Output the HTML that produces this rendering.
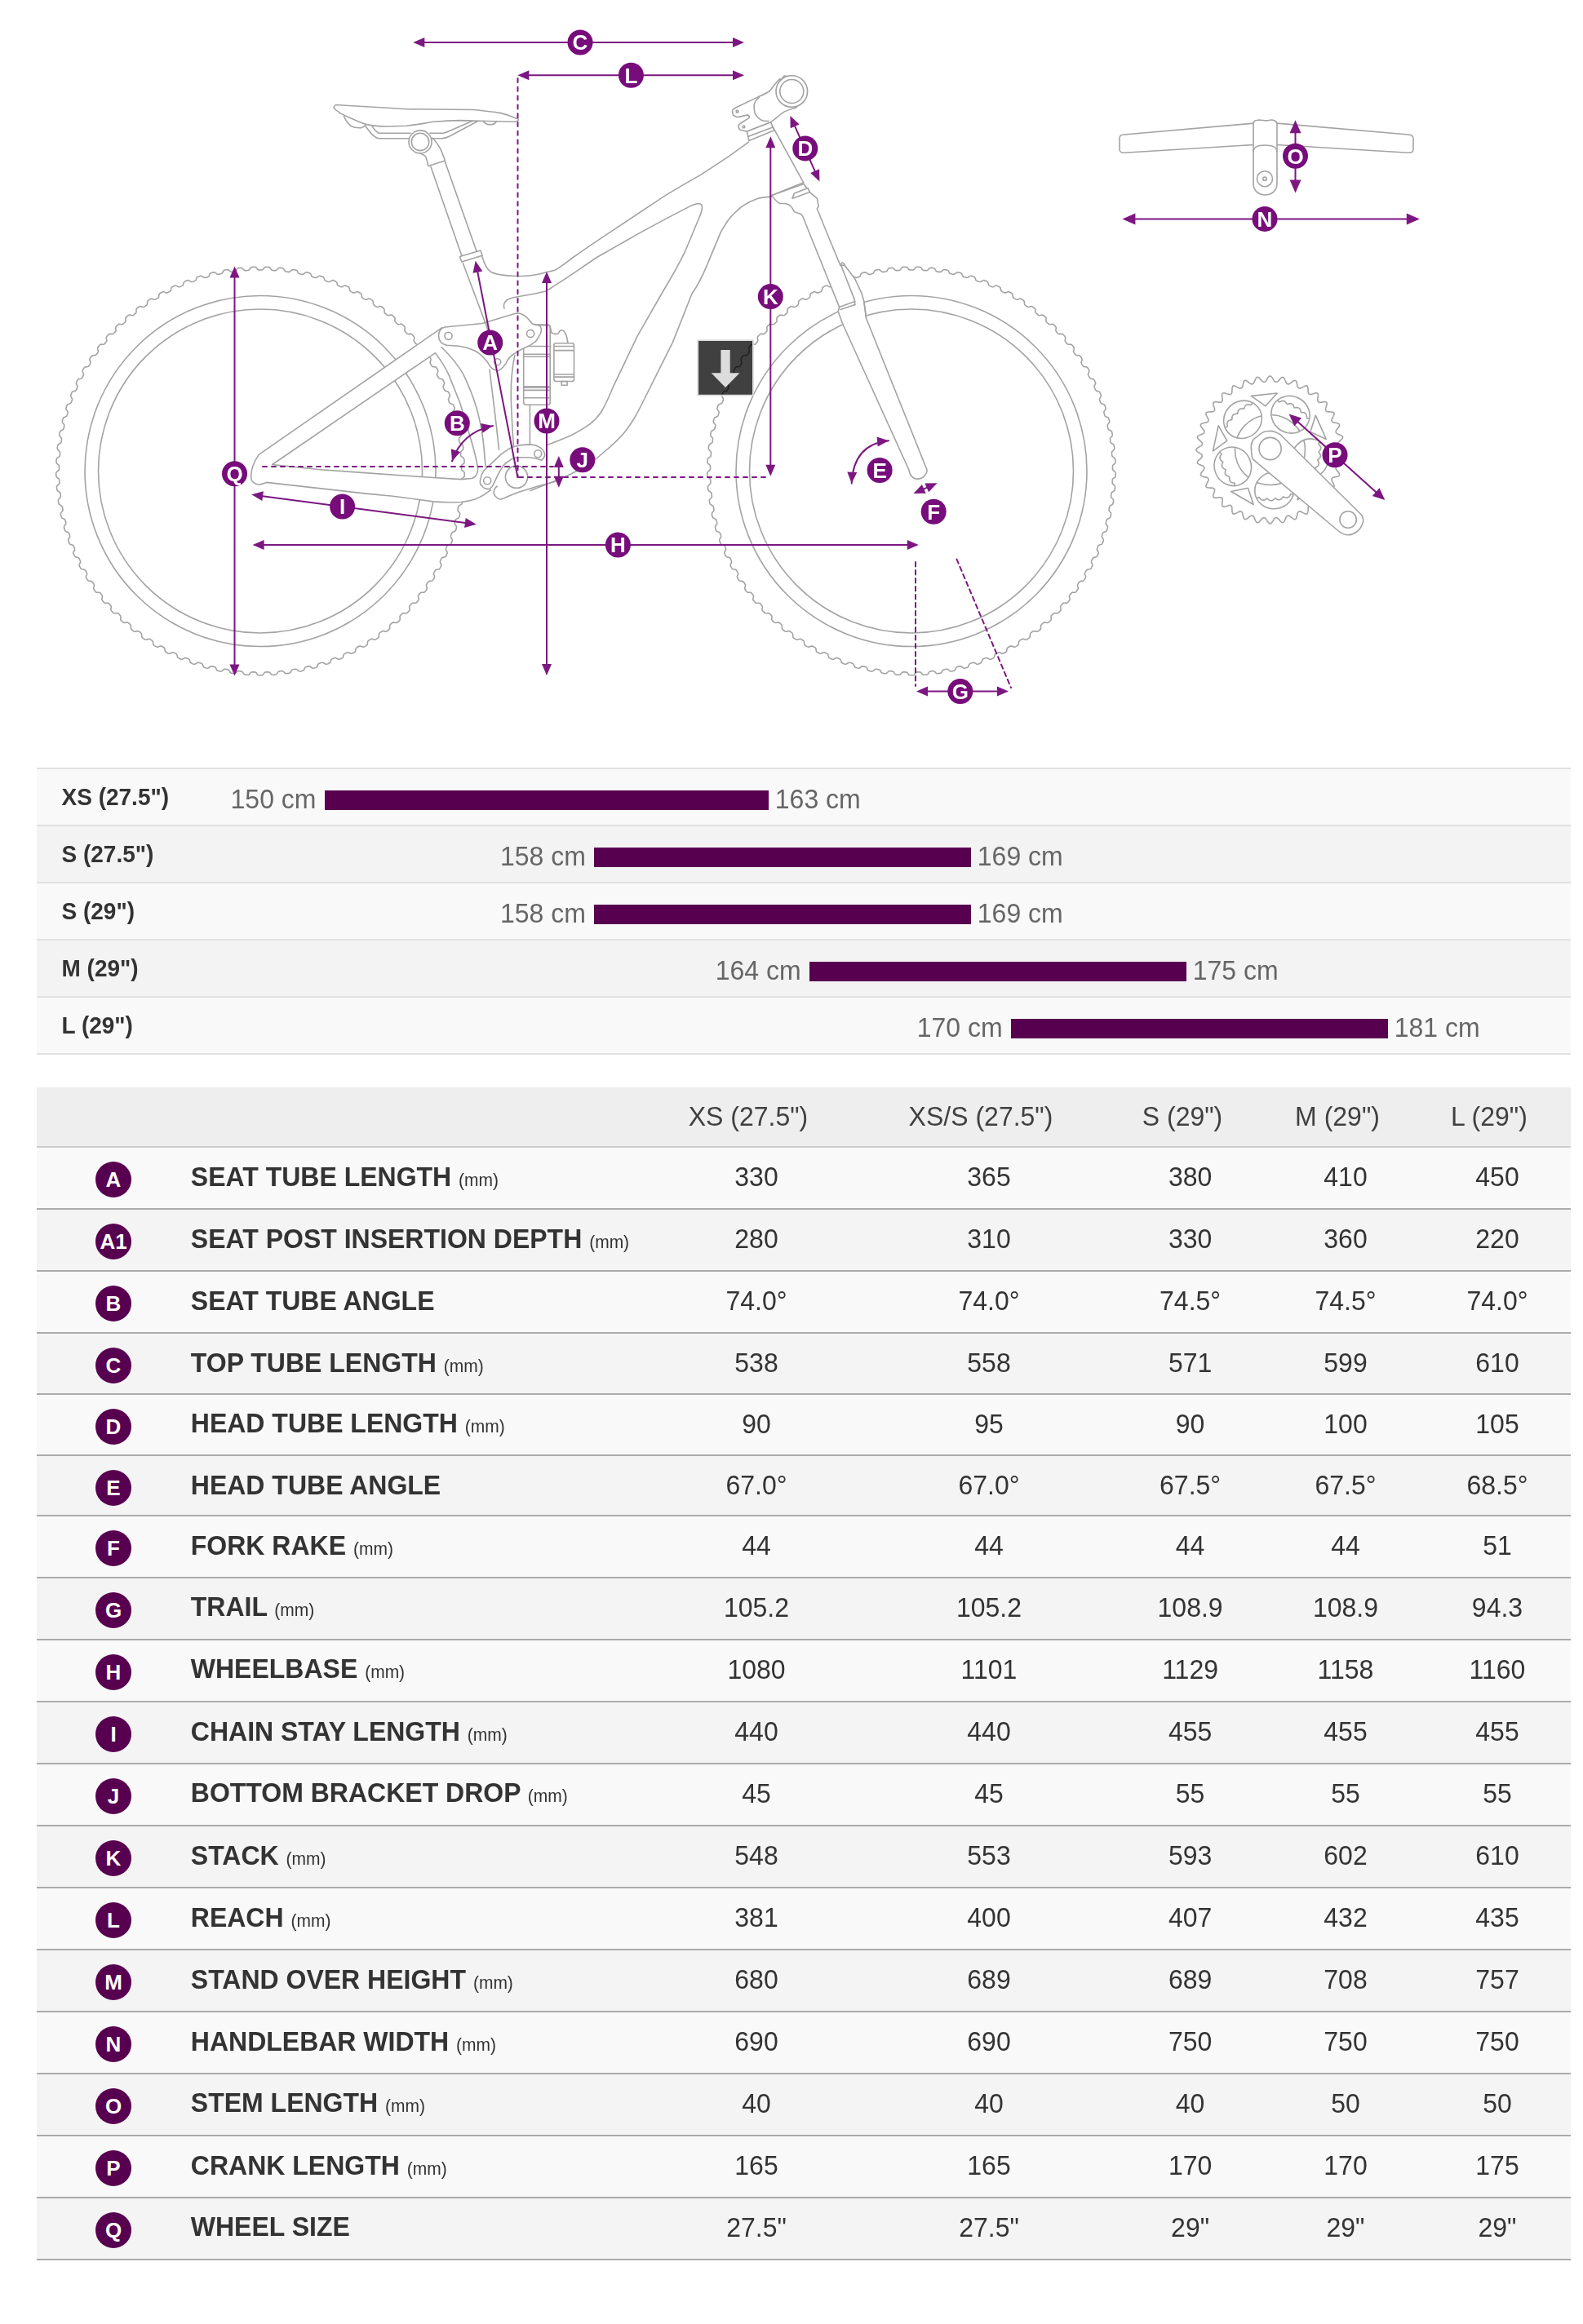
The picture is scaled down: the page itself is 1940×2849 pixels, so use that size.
<!DOCTYPE html>
<html><head><meta charset="utf-8"><title>Geometry</title><style>
*{margin:0;padding:0;box-sizing:border-box}
html,body{width:1940px;height:2849px;background:#fff;overflow:hidden}
body{position:relative;font-family:"Liberation Sans", sans-serif;color:#333}
.cl{position:absolute;font-weight:bold;line-height:1;white-space:nowrap;color:#333;transform:scaleY(1.04);transform-origin:0 85%}
.cv{position:absolute;line-height:1;white-space:nowrap;color:#666;transform:scaleY(1.04);transform-origin:0 85%}
.th{position:absolute;width:300px;text-align:center;line-height:1;white-space:nowrap;color:#404040;transform:scaleY(1.04);transform-origin:50% 85%}
.tv{position:absolute;width:300px;text-align:center;line-height:1;white-space:nowrap;font-size:32px;color:#333;transform:scaleY(1.04);transform-origin:50% 85%}
.lb{position:absolute;line-height:1;white-space:nowrap;font-size:32px;font-weight:bold;color:#333;transform:scaleY(1.05);transform-origin:0 85%}
.mm{font-size:21px;font-weight:normal}
.bd{position:absolute;width:44px;height:44px;border-radius:50%;background:#570050;color:#fff;font-weight:bold;font-size:26px;line-height:44px;text-align:center}
</style></head>
<body>
<svg width="1940" height="930" viewBox="0 0 1940 930" style="position:absolute;left:0;top:0;filter:blur(0.35px)">
<g stroke-linejoin="round" stroke-linecap="round">
<polygon points="567.4,577.5 568.7,578.6 569.2,579.6 569.3,580.7 569.3,581.7 569.2,582.8 569.1,583.8 568.6,584.9 567.3,585.9 565.9,586.9 565.4,587.9 565.3,588.9 565.2,590 565.1,591 565.2,592.1 565.6,593.1 566.8,594.3 568.1,595.4 568.5,596.5 568.5,597.6 568.4,598.6 568.3,599.7 568.1,600.7 567.6,601.7 566.1,602.6 564.7,603.5 564.1,604.5 563.9,605.5 563.8,606.6 563.7,607.6 563.6,608.7 563.9,609.7 565.1,611 566.3,612.2 566.6,613.3 566.6,614.4 566.4,615.4 566.2,616.4 566,617.5 565.4,618.4 563.9,619.3 562.4,620.1 561.8,621 561.5,622 561.3,623 561.1,624.1 561,625.1 561.2,626.2 562.3,627.5 563.4,628.8 563.6,629.9 563.5,631 563.3,632 563,633 562.7,634.1 562,635 560.5,635.7 558.9,636.4 558.3,637.3 557.9,638.3 557.6,639.3 557.4,640.3 557.2,641.3 557.4,642.5 558.4,643.8 559.4,645.2 559.5,646.3 559.3,647.4 559.1,648.4 558.7,649.4 558.3,650.4 557.6,651.3 556,651.9 554.4,652.5 553.7,653.3 553.3,654.3 552.9,655.3 552.6,656.2 552.4,657.3 552.4,658.4 553.4,659.8 554.3,661.3 554.3,662.4 554.1,663.4 553.7,664.4 553.3,665.4 552.9,666.4 552.1,667.2 550.4,667.7 548.8,668.2 548,669 547.5,669.9 547.1,670.9 546.8,671.8 546.4,672.8 546.4,674 547.3,675.5 548.1,677 548.1,678.1 547.7,679.1 547.3,680.1 546.9,681 546.3,682 545.5,682.7 543.8,683.1 542.2,683.5 541.3,684.2 540.8,685.1 540.3,686.1 539.9,687 539.5,688 539.4,689.1 540.1,690.6 540.8,692.2 540.8,693.3 540.3,694.3 539.9,695.3 539.4,696.2 538.8,697.1 537.9,697.8 536.2,698 534.5,698.3 533.6,699 533,699.9 532.5,700.8 532,701.7 531.5,702.6 531.4,703.7 532,705.3 532.6,706.9 532.4,708 532,709 531.4,709.9 530.8,710.8 530.2,711.6 529.2,712.3 527.6,712.4 525.9,712.6 524.9,713.2 524.3,714 523.7,714.9 523.1,715.8 522.6,716.7 522.4,717.8 522.9,719.4 523.4,721 523.1,722.1 522.6,723.1 522,723.9 521.4,724.8 520.7,725.6 519.7,726.2 518,726.2 516.3,726.2 515.3,726.8 514.6,727.6 513.9,728.4 513.3,729.2 512.7,730.1 512.4,731.2 512.8,732.8 513.2,734.5 512.9,735.6 512.3,736.5 511.6,737.3 511,738.1 510.2,738.9 509.2,739.4 507.5,739.3 505.8,739.2 504.8,739.7 504,740.4 503.3,741.2 502.6,742 502,742.8 501.6,743.9 501.9,745.6 502.2,747.3 501.8,748.3 501.1,749.2 500.4,749.9 499.7,750.7 498.9,751.4 497.8,751.8 496.1,751.7 494.4,751.5 493.4,751.9 492.6,752.5 491.8,753.3 491.1,754 490.4,754.8 490,755.8 490.1,757.5 490.3,759.2 489.8,760.3 489.1,761.1 488.4,761.8 487.6,762.5 486.7,763.1 485.6,763.5 484,763.2 482.3,762.9 481.2,763.3 480.4,763.9 479.6,764.5 478.8,765.2 478.1,766 477.5,767 477.6,768.7 477.6,770.4 477.1,771.4 476.3,772.1 475.5,772.8 474.7,773.5 473.8,774 472.7,774.3 471,773.9 469.4,773.5 468.3,773.8 467.4,774.3 466.6,774.9 465.7,775.6 465,776.3 464.4,777.3 464.3,779 464.3,780.7 463.6,781.6 462.8,782.3 462,782.9 461.1,783.5 460.2,784 459.1,784.3 457.4,783.7 455.8,783.2 454.7,783.4 453.8,783.9 452.9,784.5 452,785 451.2,785.7 450.6,786.6 450.4,788.3 450.2,790 449.5,790.9 448.7,791.6 447.8,792.1 446.9,792.6 445.9,793.1 444.8,793.2 443.2,792.6 441.6,792 440.5,792.1 439.5,792.5 438.6,793 437.7,793.5 436.9,794.1 436.2,795 435.9,796.7 435.6,798.4 434.8,799.3 433.9,799.8 433,800.3 432.1,800.8 431.1,801.2 429.9,801.2 428.4,800.5 426.9,799.8 425.7,799.8 424.8,800.2 423.8,800.6 422.9,801.1 422,801.6 421.2,802.4 420.8,804.1 420.4,805.7 419.6,806.6 418.7,807.1 417.7,807.5 416.7,807.9 415.7,808.2 414.6,808.2 413.1,807.4 411.6,806.5 410.5,806.5 409.5,806.8 408.5,807.2 407.5,807.6 406.6,808 405.8,808.8 405.3,810.4 404.7,812.1 403.9,812.8 402.9,813.3 402,813.7 400.9,814 399.9,814.2 398.8,814.2 397.4,813.2 395.9,812.3 394.8,812.2 393.8,812.4 392.8,812.7 391.8,813 390.8,813.4 390,814.2 389.3,815.7 388.7,817.3 387.8,818 386.8,818.4 385.8,818.7 384.8,819 383.8,819.2 382.6,819 381.3,818 379.9,816.9 378.8,816.8 377.8,816.9 376.7,817.1 375.7,817.4 374.7,817.7 373.8,818.4 373.1,819.9 372.4,821.5 371.4,822.1 370.4,822.4 369.4,822.7 368.3,822.9 367.3,823 366.2,822.7 364.9,821.6 363.6,820.5 362.5,820.3 361.5,820.3 360.4,820.5 359.4,820.7 358.4,821 357.4,821.6 356.6,823 355.8,824.5 354.8,825.1 353.8,825.4 352.7,825.5 351.7,825.6 350.6,825.7 349.5,825.4 348.3,824.2 347.1,823 346,822.6 345,822.6 343.9,822.7 342.9,822.9 341.9,823.1 340.9,823.6 340,825 339,826.4 338,827 337,827.1 335.9,827.2 334.8,827.3 333.8,827.2 332.7,826.9 331.6,825.6 330.5,824.3 329.4,823.9 328.4,823.8 327.3,823.9 326.3,823.9 325.2,824 324.2,824.5 323.2,825.9 322.2,827.2 321.1,827.7 320.1,827.8 319,827.8 317.9,827.8 316.9,827.7 315.8,827.2 314.8,825.9 313.8,824.5 312.8,824 311.7,823.9 310.7,823.9 309.6,823.8 308.6,823.9 307.5,824.3 306.4,825.6 305.3,826.9 304.2,827.2 303.2,827.3 302.1,827.2 301,827.1 300,827 299,826.4 298,825 297.1,823.6 296.1,823.1 295.1,822.9 294.1,822.7 293,822.6 292,822.6 290.9,823 289.7,824.2 288.5,825.4 287.4,825.7 286.3,825.6 285.3,825.5 284.2,825.4 283.2,825.1 282.2,824.5 281.4,823 280.6,821.6 279.6,821 278.6,820.7 277.6,820.5 276.5,820.3 275.5,820.3 274.4,820.5 273.1,821.6 271.8,822.7 270.7,823 269.7,822.9 268.6,822.7 267.6,822.4 266.6,822.1 265.6,821.5 264.9,819.9 264.2,818.4 263.3,817.7 262.3,817.4 261.3,817.1 260.2,816.9 259.2,816.8 258.1,816.9 256.7,818 255.4,819 254.2,819.2 253.2,819 252.2,818.7 251.2,818.4 250.2,818 249.3,817.3 248.7,815.7 248,814.2 247.2,813.4 246.2,813 245.2,812.7 244.2,812.4 243.2,812.2 242.1,812.3 240.6,813.2 239.2,814.2 238.1,814.2 237.1,814 236,813.7 235.1,813.3 234.1,812.8 233.3,812.1 232.7,810.4 232.2,808.8 231.4,808 230.5,807.6 229.5,807.2 228.5,806.8 227.5,806.5 226.4,806.5 224.9,807.4 223.4,808.2 222.3,808.2 221.3,807.9 220.3,807.5 219.3,807.1 218.4,806.6 217.6,805.7 217.2,804.1 216.8,802.4 216,801.6 215.1,801.1 214.2,800.6 213.2,800.2 212.3,799.8 211.1,799.8 209.6,800.5 208.1,801.2 206.9,801.2 205.9,800.8 205,800.3 204.1,799.8 203.2,799.3 202.4,798.4 202.1,796.7 201.8,795 201.1,794.1 200.3,793.5 199.4,793 198.5,792.5 197.5,792.1 196.4,792 194.8,792.6 193.2,793.2 192.1,793.1 191.1,792.6 190.2,792.1 189.3,791.6 188.5,790.9 187.8,790 187.6,788.3 187.4,786.6 186.8,785.7 186,785 185.1,784.5 184.2,783.9 183.3,783.4 182.2,783.2 180.6,783.7 178.9,784.3 177.8,784 176.9,783.5 176,782.9 175.2,782.3 174.4,781.6 173.7,780.7 173.7,779 173.6,777.3 173,776.3 172.3,775.6 171.4,774.9 170.6,774.3 169.7,773.8 168.6,773.5 167,773.9 165.3,774.3 164.2,774 163.3,773.5 162.5,772.8 161.7,772.1 160.9,771.4 160.4,770.4 160.4,768.7 160.5,767 159.9,766 159.2,765.2 158.4,764.5 157.6,763.9 156.8,763.3 155.7,762.9 154,763.2 152.4,763.5 151.3,763.1 150.4,762.5 149.6,761.8 148.9,761.1 148.2,760.3 147.7,759.2 147.9,757.5 148,755.8 147.6,754.8 146.9,754 146.2,753.3 145.4,752.5 144.6,751.9 143.6,751.5 141.9,751.7 140.2,751.8 139.1,751.4 138.3,750.7 137.6,749.9 136.9,749.2 136.2,748.3 135.8,747.3 136.1,745.6 136.4,743.9 136,742.8 135.4,742 134.7,741.2 134,740.4 133.2,739.7 132.2,739.2 130.5,739.3 128.8,739.4 127.8,738.9 127,738.1 126.4,737.3 125.7,736.5 125.1,735.6 124.8,734.5 125.2,732.8 125.6,731.2 125.3,730.1 124.7,729.2 124.1,728.4 123.4,727.6 122.7,726.8 121.7,726.2 120,726.2 118.3,726.2 117.3,725.6 116.6,724.8 116,723.9 115.4,723.1 114.9,722.1 114.6,721 115.1,719.4 115.6,717.8 115.4,716.7 114.9,715.8 114.3,714.9 113.7,714 113.1,713.2 112.1,712.6 110.4,712.4 108.8,712.3 107.8,711.6 107.2,710.8 106.6,709.9 106,709 105.6,708 105.4,706.9 106,705.3 106.6,703.7 106.5,702.6 106,701.7 105.5,700.8 105,699.9 104.4,699 103.5,698.3 101.8,698 100.1,697.8 99.2,697.1 98.6,696.2 98.1,695.3 97.7,694.3 97.2,693.3 97.2,692.2 97.9,690.6 98.6,689.1 98.5,688 98.1,687 97.7,686.1 97.2,685.1 96.7,684.2 95.8,683.5 94.2,683.1 92.5,682.7 91.7,682 91.1,681 90.7,680.1 90.3,679.1 89.9,678.1 89.9,677 90.7,675.5 91.6,674 91.6,672.8 91.2,671.8 90.9,670.9 90.5,669.9 90,669 89.2,668.2 87.6,667.7 85.9,667.2 85.1,666.4 84.7,665.4 84.3,664.4 83.9,663.4 83.7,662.4 83.7,661.3 84.6,659.8 85.6,658.4 85.6,657.3 85.4,656.2 85.1,655.3 84.7,654.3 84.3,653.3 83.6,652.5 82,651.9 80.4,651.3 79.7,650.4 79.3,649.4 78.9,648.4 78.7,647.4 78.5,646.3 78.6,645.2 79.6,643.8 80.6,642.5 80.8,641.3 80.6,640.3 80.4,639.3 80.1,638.3 79.7,637.3 79.1,636.4 77.5,635.7 76,635 75.3,634.1 75,633 74.7,632 74.5,631 74.4,629.9 74.6,628.8 75.7,627.5 76.8,626.2 77,625.1 76.9,624.1 76.7,623 76.5,622 76.2,621 75.6,620.1 74.1,619.3 72.6,618.4 72,617.5 71.8,616.4 71.6,615.4 71.4,614.4 71.4,613.3 71.7,612.2 72.9,611 74.1,609.7 74.4,608.7 74.3,607.6 74.2,606.6 74.1,605.5 73.9,604.5 73.3,603.5 71.9,602.6 70.4,601.7 69.9,600.7 69.7,599.7 69.6,598.6 69.5,597.6 69.5,596.5 69.9,595.4 71.2,594.3 72.4,593.1 72.8,592.1 72.9,591 72.8,590 72.7,588.9 72.6,587.9 72.1,586.9 70.7,585.9 69.4,584.9 68.9,583.8 68.8,582.8 68.7,581.7 68.7,580.7 68.8,579.6 69.3,578.6 70.6,577.5 71.9,576.5 72.4,575.4 72.5,574.4 72.5,573.3 72.5,572.3 72.5,571.3 72,570.2 70.7,569.1 69.4,568 69,566.9 69,565.9 69,564.8 69.1,563.8 69.3,562.7 69.8,561.7 71.2,560.7 72.6,559.8 73.1,558.8 73.3,557.7 73.4,556.7 73.5,555.7 73.4,554.6 73.1,553.5 71.9,552.4 70.7,551.2 70.3,550.1 70.3,549 70.4,548 70.6,546.9 70.8,545.9 71.4,544.9 72.9,544 74.3,543.2 74.9,542.2 75.2,541.2 75.3,540.2 75.5,539.1 75.5,538.1 75.3,537 74.1,535.7 73,534.5 72.7,533.4 72.8,532.3 73,531.3 73.2,530.2 73.5,529.2 74.2,528.3 75.7,527.5 77.2,526.7 77.9,525.8 78.2,524.8 78.4,523.8 78.6,522.8 78.8,521.8 78.6,520.6 77.5,519.3 76.5,518 76.3,516.8 76.4,515.8 76.7,514.8 77,513.7 77.3,512.7 78,511.8 79.6,511.2 81.2,510.5 81.9,509.7 82.3,508.7 82.6,507.7 82.9,506.7 83.1,505.7 83,504.5 82,503.1 81,501.7 80.9,500.6 81.2,499.6 81.5,498.5 81.8,497.6 82.3,496.6 83,495.7 84.6,495.2 86.2,494.6 87,493.8 87.5,492.9 87.8,491.9 88.2,490.9 88.5,489.9 88.4,488.8 87.6,487.3 86.7,485.8 86.7,484.7 87,483.7 87.4,482.7 87.8,481.7 88.3,480.8 89.1,480 90.7,479.5 92.4,479.1 93.2,478.3 93.7,477.4 94.2,476.5 94.6,475.5 94.9,474.5 94.9,473.4 94.2,471.9 93.4,470.4 93.5,469.2 93.8,468.2 94.3,467.3 94.8,466.3 95.3,465.4 96.2,464.7 97.9,464.4 99.5,464 100.4,463.3 101,462.4 101.5,461.5 102,460.6 102.4,459.6 102.5,458.5 101.8,457 101.2,455.4 101.3,454.2 101.7,453.3 102.2,452.4 102.8,451.4 103.4,450.6 104.3,449.9 106,449.7 107.7,449.5 108.6,448.8 109.2,448 109.8,447.1 110.3,446.2 110.8,445.3 111,444.2 110.4,442.6 109.9,441 110.1,439.8 110.6,438.9 111.2,438 111.8,437.1 112.5,436.3 113.4,435.7 115.1,435.6 116.8,435.5 117.8,434.9 118.5,434.1 119.1,433.3 119.7,432.4 120.2,431.5 120.5,430.4 120,428.8 119.6,427.1 119.9,426 120.4,425.1 121.1,424.3 121.7,423.5 122.5,422.7 123.5,422.1 125.2,422.2 126.9,422.2 127.9,421.7 128.6,420.9 129.3,420.1 129.9,419.3 130.5,418.4 130.9,417.4 130.5,415.7 130.2,414 130.6,412.9 131.2,412.1 131.9,411.3 132.6,410.5 133.4,409.8 134.4,409.3 136.1,409.4 137.8,409.6 138.8,409.1 139.6,408.4 140.3,407.7 141,406.9 141.7,406.1 142.1,405 141.9,403.3 141.7,401.7 142.1,400.6 142.8,399.8 143.5,399 144.3,398.3 145.1,397.6 146.2,397.2 147.9,397.5 149.5,397.7 150.6,397.3 151.4,396.7 152.2,396 153,395.3 153.7,394.5 154.1,393.5 154,391.8 153.9,390.1 154.4,389.1 155.2,388.3 156,387.6 156.8,386.9 157.6,386.3 158.7,386 160.4,386.3 162.1,386.7 163.2,386.4 164,385.8 164.8,385.1 165.6,384.5 166.4,383.8 166.9,382.8 167,381.1 167,379.4 167.5,378.4 168.3,377.7 169.2,377 170,376.4 170.9,375.8 172,375.6 173.7,376 175.3,376.5 176.4,376.3 177.3,375.8 178.2,375.2 179,374.6 179.8,373.9 180.4,372.9 180.6,371.3 180.7,369.6 181.3,368.6 182.2,367.9 183,367.4 183.9,366.8 184.9,366.3 186,366.1 187.6,366.7 189.2,367.3 190.3,367.1 191.3,366.7 192.2,366.1 193,365.6 193.9,365 194.6,364.1 194.8,362.4 195,360.7 195.7,359.8 196.6,359.2 197.5,358.7 198.5,358.2 199.4,357.7 200.6,357.6 202.1,358.3 203.7,359 204.8,358.9 205.8,358.5 206.7,358.1 207.6,357.6 208.5,357 209.3,356.1 209.6,354.5 210,352.8 210.7,352 211.6,351.4 212.6,350.9 213.5,350.5 214.5,350.2 215.7,350.1 217.2,350.9 218.7,351.7 219.8,351.7 220.8,351.4 221.8,351 222.7,350.6 223.7,350.1 224.5,349.2 224.9,347.6 225.4,346 226.2,345.2 227.1,344.7 228.1,344.3 229.1,343.9 230.1,343.6 231.3,343.7 232.7,344.6 234.2,345.5 235.3,345.5 236.3,345.3 237.3,344.9 238.3,344.6 239.2,344.1 240.1,343.4 240.6,341.8 241.2,340.2 242.1,339.4 243.1,339 244.1,338.7 245.1,338.4 246.1,338.2 247.3,338.3 248.7,339.3 250,340.3 251.2,340.4 252.2,340.2 253.2,339.9 254.2,339.7 255.2,339.3 256.1,338.6 256.7,337 257.4,335.5 258.3,334.8 259.3,334.4 260.4,334.2 261.4,333.9 262.4,333.8 263.6,334 264.9,335.1 266.2,336.1 267.3,336.4 268.4,336.2 269.4,336 270.4,335.8 271.4,335.5 272.3,334.9 273.1,333.4 273.9,331.9 274.9,331.2 275.9,331 276.9,330.8 278,330.6 279,330.5 280.1,330.8 281.4,332 282.6,333.1 283.7,333.4 284.8,333.4 285.8,333.2 286.8,333.1 287.8,332.9 288.8,332.3 289.7,330.8 290.6,329.4 291.6,328.8 292.6,328.6 293.7,328.5 294.7,328.4 295.8,328.4 296.9,328.7 298,330 299.2,331.2 300.3,331.6 301.3,331.6 302.4,331.6 303.4,331.5 304.4,331.3 305.4,330.8 306.4,329.4 307.4,328 308.4,327.5 309.5,327.4 310.5,327.3 311.6,327.3 312.7,327.4 313.7,327.8 314.8,329.1 315.9,330.5 316.9,330.9 318,331 319,331 320,331 321.1,330.9 322.1,330.5 323.2,329.1 324.3,327.8 325.3,327.4 326.4,327.3 327.5,327.3 328.5,327.4 329.6,327.5 330.6,328 331.6,329.4 332.6,330.8 333.6,331.3 334.6,331.5 335.6,331.6 336.7,331.6 337.7,331.6 338.8,331.2 340,330 341.1,328.7 342.2,328.4 343.3,328.4 344.3,328.5 345.4,328.6 346.4,328.8 347.4,329.4 348.3,330.8 349.2,332.3 350.2,332.9 351.2,333.1 352.2,333.2 353.2,333.4 354.3,333.4 355.4,333.1 356.6,332 357.9,330.8 359,330.5 360,330.6 361.1,330.8 362.1,331 363.1,331.2 364.1,331.9 364.9,333.4 365.7,334.9 366.6,335.5 367.6,335.8 368.6,336 369.6,336.2 370.7,336.4 371.8,336.1 373.1,335.1 374.4,334 375.6,333.8 376.6,333.9 377.6,334.2 378.7,334.4 379.7,334.8 380.6,335.5 381.3,337 381.9,338.6 382.8,339.3 383.8,339.7 384.8,339.9 385.8,340.2 386.8,340.4 388,340.3 389.3,339.3 390.7,338.3 391.9,338.2 392.9,338.4 393.9,338.7 394.9,339 395.9,339.4 396.8,340.2 397.4,341.8 397.9,343.4 398.8,344.1 399.7,344.6 400.7,344.9 401.7,345.3 402.7,345.5 403.8,345.5 405.3,344.6 406.7,343.7 407.9,343.6 408.9,343.9 409.9,344.3 410.9,344.7 411.8,345.2 412.6,346 413.1,347.6 413.5,349.2 414.3,350.1 415.3,350.6 416.2,351 417.2,351.4 418.2,351.7 419.3,351.7 420.8,350.9 422.3,350.1 423.5,350.2 424.5,350.5 425.4,350.9 426.4,351.4 427.3,352 428,352.8 428.4,354.5 428.7,356.1 429.5,357 430.4,357.6 431.3,358.1 432.2,358.5 433.2,358.9 434.3,359 435.9,358.3 437.4,357.6 438.6,357.7 439.5,358.2 440.5,358.7 441.4,359.2 442.3,359.8 443,360.7 443.2,362.4 443.4,364.1 444.1,365 445,365.6 445.8,366.1 446.7,366.7 447.7,367.1 448.8,367.3 450.4,366.7 452,366.1 453.1,366.3 454.1,366.8 455,367.4 455.8,367.9 456.7,368.6 457.3,369.6 457.4,371.3 457.6,372.9 458.2,373.9 459,374.6 459.8,375.2 460.7,375.8 461.6,376.3 462.7,376.5 464.3,376 466,375.6 467.1,375.8 468,376.4 468.8,377 469.7,377.7 470.5,378.4 471,379.4 471,381.1 471.1,382.8 471.6,383.8 472.4,384.5 473.2,385.1 474,385.8 474.8,386.4 475.9,386.7 477.6,386.3 479.3,386 480.4,386.3 481.2,386.9 482,387.6 482.8,388.3 483.6,389.1 484.1,390.1 484,391.8 483.9,393.5 484.3,394.5 485,395.3 485.8,396 486.6,396.7 487.4,397.3 488.5,397.7 490.1,397.5 491.8,397.2 492.9,397.6 493.7,398.3 494.5,399 495.2,399.8 495.9,400.6 496.3,401.7 496.1,403.3 495.9,405 496.3,406.1 497,406.9 497.7,407.7 498.4,408.4 499.2,409.1 500.2,409.6 501.9,409.4 503.6,409.3 504.6,409.8 505.4,410.5 506.1,411.3 506.8,412.1 507.4,412.9 507.8,414 507.5,415.7 507.1,417.4 507.5,418.4 508.1,419.3 508.7,420.1 509.4,420.9 510.1,421.7 511.1,422.2 512.8,422.2 514.5,422.1 515.5,422.7 516.3,423.5 516.9,424.3 517.6,425.1 518.1,426 518.4,427.1 518,428.8 517.5,430.4 517.8,431.5 518.3,432.4 518.9,433.3 519.5,434.1 520.2,434.9 521.2,435.5 522.9,435.6 524.6,435.7 525.5,436.3 526.2,437.1 526.8,438 527.4,438.9 527.9,439.8 528.1,441 527.6,442.6 527,444.2 527.2,445.3 527.7,446.2 528.2,447.1 528.8,448 529.4,448.8 530.3,449.5 532,449.7 533.7,449.9 534.6,450.6 535.2,451.4 535.8,452.3 536.3,453.3 536.7,454.2 536.8,455.4 536.2,457 535.5,458.5 535.6,459.6 536,460.6 536.5,461.5 537,462.4 537.6,463.3 538.5,464 540.1,464.4 541.8,464.7 542.7,465.4 543.2,466.3 543.7,467.3 544.2,468.2 544.5,469.2 544.6,470.4 543.8,471.9 543.1,473.4 543.1,474.5 543.4,475.5 543.8,476.5 544.3,477.4 544.8,478.3 545.6,479.1 547.3,479.5 548.9,480 549.7,480.8 550.2,481.7 550.6,482.7 551,483.7 551.3,484.7 551.3,485.8 550.4,487.3 549.6,488.8 549.5,489.9 549.8,490.9 550.2,491.9 550.5,492.9 551,493.8 551.8,494.6 553.4,495.2 555,495.7 555.7,496.6 556.2,497.6 556.5,498.5 556.8,499.6 557.1,500.6 557,501.7 556,503.1 555,504.5 554.9,505.7 555.1,506.7 555.4,507.7 555.7,508.7 556.1,509.7 556.8,510.5 558.4,511.2 560,511.8 560.7,512.7 561,513.7 561.3,514.8 561.6,515.8 561.7,516.8 561.5,518 560.5,519.3 559.4,520.6 559.2,521.8 559.4,522.8 559.6,523.8 559.8,524.8 560.1,525.8 560.8,526.7 562.3,527.5 563.8,528.3 564.5,529.2 564.8,530.2 565,531.3 565.2,532.3 565.3,533.4 565,534.5 563.9,535.7 562.7,537 562.5,538.1 562.5,539.1 562.7,540.2 562.8,541.2 563.1,542.2 563.7,543.2 565.1,544 566.6,544.9 567.2,545.9 567.4,546.9 567.6,548 567.7,549 567.7,550.1 567.3,551.2 566.1,552.4 564.9,553.5 564.6,554.6 564.5,555.7 564.6,556.7 564.7,557.7 564.9,558.8 565.4,559.8 566.8,560.7 568.2,561.7 568.7,562.7 568.9,563.8 569,564.8 569,565.9 569,566.9 568.6,568 567.3,569.1 566,570.2 565.5,571.3 565.5,572.3 565.5,573.3 565.5,574.4 565.6,575.4 566.1,576.5 567.4,577.5" fill="none" stroke="#a3a3a3" stroke-width="1.6"/><circle cx="319" cy="577.5" r="215" fill="none" stroke="#a3a3a3" stroke-width="1.6"/><circle cx="319" cy="577.5" r="198.5" fill="none" stroke="#a3a3a3" stroke-width="1.6"/>
<polygon points="1365.4,577.5 1366.7,578.6 1367.2,579.6 1367.3,580.7 1367.3,581.7 1367.2,582.8 1367.1,583.8 1366.6,584.9 1365.3,585.9 1363.9,586.9 1363.4,587.9 1363.3,588.9 1363.2,590 1363.1,591 1363.2,592.1 1363.6,593.1 1364.8,594.3 1366.1,595.4 1366.5,596.5 1366.5,597.6 1366.4,598.6 1366.3,599.7 1366.1,600.7 1365.6,601.7 1364.1,602.6 1362.7,603.5 1362.1,604.5 1361.9,605.5 1361.8,606.6 1361.7,607.6 1361.6,608.7 1361.9,609.7 1363.1,611 1364.3,612.2 1364.6,613.3 1364.6,614.4 1364.4,615.4 1364.2,616.4 1364,617.5 1363.4,618.4 1361.9,619.3 1360.4,620.1 1359.8,621 1359.5,622 1359.3,623 1359.1,624.1 1359,625.1 1359.2,626.2 1360.3,627.5 1361.4,628.8 1361.6,629.9 1361.5,631 1361.3,632 1361,633 1360.7,634.1 1360,635 1358.5,635.7 1356.9,636.4 1356.3,637.3 1355.9,638.3 1355.6,639.3 1355.4,640.3 1355.2,641.3 1355.4,642.5 1356.4,643.8 1357.4,645.2 1357.5,646.3 1357.3,647.4 1357.1,648.4 1356.7,649.4 1356.3,650.4 1355.6,651.3 1354,651.9 1352.4,652.5 1351.7,653.3 1351.3,654.3 1350.9,655.3 1350.6,656.2 1350.4,657.3 1350.4,658.4 1351.4,659.8 1352.3,661.3 1352.3,662.4 1352.1,663.4 1351.7,664.4 1351.3,665.4 1350.9,666.4 1350.1,667.2 1348.4,667.7 1346.8,668.2 1346,669 1345.5,669.9 1345.1,670.9 1344.8,671.8 1344.4,672.8 1344.4,674 1345.3,675.5 1346.1,677 1346.1,678.1 1345.7,679.1 1345.3,680.1 1344.9,681 1344.3,682 1343.5,682.7 1341.8,683.1 1340.2,683.5 1339.3,684.2 1338.8,685.1 1338.3,686.1 1337.9,687 1337.5,688 1337.4,689.1 1338.1,690.6 1338.8,692.2 1338.8,693.3 1338.3,694.3 1337.9,695.3 1337.4,696.2 1336.8,697.1 1335.9,697.8 1334.2,698 1332.5,698.3 1331.6,699 1331,699.9 1330.5,700.8 1330,701.7 1329.5,702.6 1329.4,703.7 1330,705.3 1330.6,706.9 1330.4,708 1330,709 1329.4,709.9 1328.8,710.8 1328.2,711.6 1327.2,712.3 1325.6,712.4 1323.9,712.6 1322.9,713.2 1322.3,714 1321.7,714.9 1321.1,715.8 1320.6,716.7 1320.4,717.8 1320.9,719.4 1321.4,721 1321.1,722.1 1320.6,723.1 1320,723.9 1319.4,724.8 1318.7,725.6 1317.7,726.2 1316,726.2 1314.3,726.2 1313.3,726.8 1312.6,727.6 1311.9,728.4 1311.3,729.2 1310.7,730.1 1310.4,731.2 1310.8,732.8 1311.2,734.5 1310.9,735.6 1310.3,736.5 1309.6,737.3 1309,738.1 1308.2,738.9 1307.2,739.4 1305.5,739.3 1303.8,739.2 1302.8,739.7 1302,740.4 1301.3,741.2 1300.6,742 1300,742.8 1299.6,743.9 1299.9,745.6 1300.2,747.3 1299.8,748.3 1299.1,749.2 1298.4,749.9 1297.7,750.7 1296.9,751.4 1295.8,751.8 1294.1,751.7 1292.4,751.5 1291.4,751.9 1290.6,752.5 1289.8,753.3 1289.1,754 1288.4,754.8 1288,755.8 1288.1,757.5 1288.3,759.2 1287.8,760.3 1287.1,761.1 1286.4,761.8 1285.6,762.5 1284.7,763.1 1283.6,763.5 1282,763.2 1280.3,762.9 1279.2,763.3 1278.4,763.9 1277.6,764.5 1276.8,765.2 1276.1,766 1275.5,767 1275.6,768.7 1275.6,770.4 1275.1,771.4 1274.3,772.1 1273.5,772.8 1272.7,773.5 1271.8,774 1270.7,774.3 1269,773.9 1267.4,773.5 1266.3,773.8 1265.4,774.3 1264.6,774.9 1263.7,775.6 1263,776.3 1262.4,777.3 1262.3,779 1262.3,780.7 1261.6,781.6 1260.8,782.3 1260,782.9 1259.1,783.5 1258.2,784 1257.1,784.3 1255.4,783.7 1253.8,783.2 1252.7,783.4 1251.8,783.9 1250.9,784.5 1250,785 1249.2,785.7 1248.6,786.6 1248.4,788.3 1248.2,790 1247.5,790.9 1246.7,791.6 1245.8,792.1 1244.9,792.6 1243.9,793.1 1242.8,793.2 1241.2,792.6 1239.6,792 1238.5,792.1 1237.5,792.5 1236.6,793 1235.7,793.5 1234.9,794.1 1234.2,795 1233.9,796.7 1233.6,798.4 1232.8,799.3 1231.9,799.8 1231,800.3 1230.1,800.8 1229.1,801.2 1227.9,801.2 1226.4,800.5 1224.9,799.8 1223.7,799.8 1222.8,800.2 1221.8,800.6 1220.9,801.1 1220,801.6 1219.2,802.4 1218.8,804.1 1218.4,805.7 1217.6,806.6 1216.7,807.1 1215.7,807.5 1214.7,807.9 1213.7,808.2 1212.6,808.2 1211.1,807.4 1209.6,806.5 1208.5,806.5 1207.5,806.8 1206.5,807.2 1205.5,807.6 1204.6,808 1203.8,808.8 1203.3,810.4 1202.7,812.1 1201.9,812.8 1200.9,813.3 1200,813.7 1198.9,814 1197.9,814.2 1196.8,814.2 1195.4,813.2 1193.9,812.3 1192.8,812.2 1191.8,812.4 1190.8,812.7 1189.8,813 1188.8,813.4 1188,814.2 1187.3,815.7 1186.7,817.3 1185.8,818 1184.8,818.4 1183.8,818.7 1182.8,819 1181.8,819.2 1180.6,819 1179.3,818 1177.9,816.9 1176.8,816.8 1175.8,816.9 1174.7,817.1 1173.7,817.4 1172.7,817.7 1171.8,818.4 1171.1,819.9 1170.4,821.5 1169.4,822.1 1168.4,822.4 1167.4,822.7 1166.3,822.9 1165.3,823 1164.2,822.7 1162.9,821.6 1161.6,820.5 1160.5,820.3 1159.5,820.3 1158.4,820.5 1157.4,820.7 1156.4,821 1155.4,821.6 1154.6,823 1153.8,824.5 1152.8,825.1 1151.8,825.4 1150.7,825.5 1149.7,825.6 1148.6,825.7 1147.5,825.4 1146.3,824.2 1145.1,823 1144,822.6 1143,822.6 1141.9,822.7 1140.9,822.9 1139.9,823.1 1138.9,823.6 1138,825 1137,826.4 1136,827 1135,827.1 1133.9,827.2 1132.8,827.3 1131.8,827.2 1130.7,826.9 1129.6,825.6 1128.5,824.3 1127.4,823.9 1126.4,823.8 1125.3,823.9 1124.3,823.9 1123.2,824 1122.2,824.5 1121.2,825.9 1120.2,827.2 1119.1,827.7 1118.1,827.8 1117,827.8 1115.9,827.8 1114.9,827.7 1113.8,827.2 1112.8,825.9 1111.8,824.5 1110.8,824 1109.7,823.9 1108.7,823.9 1107.6,823.8 1106.6,823.9 1105.5,824.3 1104.4,825.6 1103.3,826.9 1102.2,827.2 1101.2,827.3 1100.1,827.2 1099,827.1 1098,827 1097,826.4 1096,825 1095.1,823.6 1094.1,823.1 1093.1,822.9 1092.1,822.7 1091,822.6 1090,822.6 1088.9,823 1087.7,824.2 1086.5,825.4 1085.4,825.7 1084.3,825.6 1083.3,825.5 1082.2,825.4 1081.2,825.1 1080.2,824.5 1079.4,823 1078.6,821.6 1077.6,821 1076.6,820.7 1075.6,820.5 1074.5,820.3 1073.5,820.3 1072.4,820.5 1071.1,821.6 1069.8,822.7 1068.7,823 1067.7,822.9 1066.6,822.7 1065.6,822.4 1064.6,822.1 1063.6,821.5 1062.9,819.9 1062.2,818.4 1061.3,817.7 1060.3,817.4 1059.3,817.1 1058.2,816.9 1057.2,816.8 1056.1,816.9 1054.7,818 1053.4,819 1052.2,819.2 1051.2,819 1050.2,818.7 1049.2,818.4 1048.2,818 1047.3,817.3 1046.7,815.7 1046,814.2 1045.2,813.4 1044.2,813 1043.2,812.7 1042.2,812.4 1041.2,812.2 1040.1,812.3 1038.6,813.2 1037.2,814.2 1036.1,814.2 1035.1,814 1034,813.7 1033.1,813.3 1032.1,812.8 1031.3,812.1 1030.7,810.4 1030.2,808.8 1029.4,808 1028.5,807.6 1027.5,807.2 1026.5,806.8 1025.5,806.5 1024.4,806.5 1022.9,807.4 1021.4,808.2 1020.3,808.2 1019.3,807.9 1018.3,807.5 1017.3,807.1 1016.4,806.6 1015.6,805.7 1015.2,804.1 1014.8,802.4 1014,801.6 1013.1,801.1 1012.2,800.6 1011.2,800.2 1010.3,799.8 1009.1,799.8 1007.6,800.5 1006.1,801.2 1004.9,801.2 1003.9,800.8 1003,800.3 1002.1,799.8 1001.2,799.3 1000.4,798.4 1000.1,796.7 999.8,795 999.1,794.1 998.3,793.5 997.4,793 996.5,792.5 995.5,792.1 994.4,792 992.8,792.6 991.2,793.2 990.1,793.1 989.1,792.6 988.2,792.1 987.3,791.6 986.5,790.9 985.8,790 985.6,788.3 985.4,786.6 984.8,785.7 984,785 983.1,784.5 982.2,783.9 981.3,783.4 980.2,783.2 978.6,783.7 976.9,784.3 975.8,784 974.9,783.5 974,782.9 973.2,782.3 972.4,781.6 971.7,780.7 971.7,779 971.6,777.3 971,776.3 970.3,775.6 969.4,774.9 968.6,774.3 967.7,773.8 966.6,773.5 965,773.9 963.3,774.3 962.2,774 961.3,773.5 960.5,772.8 959.7,772.1 958.9,771.4 958.4,770.4 958.4,768.7 958.5,767 957.9,766 957.2,765.2 956.4,764.5 955.6,763.9 954.8,763.3 953.7,762.9 952,763.2 950.4,763.5 949.3,763.1 948.4,762.5 947.6,761.8 946.9,761.1 946.2,760.3 945.7,759.2 945.9,757.5 946,755.8 945.6,754.8 944.9,754 944.2,753.3 943.4,752.5 942.6,751.9 941.6,751.5 939.9,751.7 938.2,751.8 937.1,751.4 936.3,750.7 935.6,749.9 934.9,749.2 934.2,748.3 933.8,747.3 934.1,745.6 934.4,743.9 934,742.8 933.4,742 932.7,741.2 932,740.4 931.2,739.7 930.2,739.2 928.5,739.3 926.8,739.4 925.8,738.9 925,738.1 924.4,737.3 923.7,736.5 923.1,735.6 922.8,734.5 923.2,732.8 923.6,731.2 923.3,730.1 922.7,729.2 922.1,728.4 921.4,727.6 920.7,726.8 919.7,726.2 918,726.2 916.3,726.2 915.3,725.6 914.6,724.8 914,723.9 913.4,723.1 912.9,722.1 912.6,721 913.1,719.4 913.6,717.8 913.4,716.7 912.9,715.8 912.3,714.9 911.7,714 911.1,713.2 910.1,712.6 908.4,712.4 906.8,712.3 905.8,711.6 905.2,710.8 904.6,709.9 904,709 903.6,708 903.4,706.9 904,705.3 904.6,703.7 904.5,702.6 904,701.7 903.5,700.8 903,699.9 902.4,699 901.5,698.3 899.8,698 898.1,697.8 897.2,697.1 896.6,696.2 896.1,695.3 895.7,694.3 895.2,693.3 895.2,692.2 895.9,690.6 896.6,689.1 896.5,688 896.1,687 895.7,686.1 895.2,685.1 894.7,684.2 893.8,683.5 892.2,683.1 890.5,682.7 889.7,682 889.1,681 888.7,680.1 888.3,679.1 887.9,678.1 887.9,677 888.7,675.5 889.6,674 889.6,672.8 889.2,671.8 888.9,670.9 888.5,669.9 888,669 887.2,668.2 885.6,667.7 883.9,667.2 883.1,666.4 882.7,665.4 882.3,664.4 881.9,663.4 881.7,662.4 881.7,661.3 882.6,659.8 883.6,658.4 883.6,657.3 883.4,656.2 883.1,655.3 882.7,654.3 882.3,653.3 881.6,652.5 880,651.9 878.4,651.3 877.7,650.4 877.3,649.4 876.9,648.4 876.7,647.4 876.5,646.3 876.6,645.2 877.6,643.8 878.6,642.5 878.8,641.3 878.6,640.3 878.4,639.3 878.1,638.3 877.7,637.3 877.1,636.4 875.5,635.7 874,635 873.3,634.1 873,633 872.7,632 872.5,631 872.4,629.9 872.6,628.8 873.7,627.5 874.8,626.2 875,625.1 874.9,624.1 874.7,623 874.5,622 874.2,621 873.6,620.1 872.1,619.3 870.6,618.4 870,617.5 869.8,616.4 869.6,615.4 869.4,614.4 869.4,613.3 869.7,612.2 870.9,611 872.1,609.7 872.4,608.7 872.3,607.6 872.2,606.6 872.1,605.5 871.9,604.5 871.3,603.5 869.9,602.6 868.4,601.7 867.9,600.7 867.7,599.7 867.6,598.6 867.5,597.6 867.5,596.5 867.9,595.4 869.2,594.3 870.4,593.1 870.8,592.1 870.9,591 870.8,590 870.7,588.9 870.6,587.9 870.1,586.9 868.7,585.9 867.4,584.9 866.9,583.8 866.8,582.8 866.7,581.7 866.7,580.7 866.8,579.6 867.3,578.6 868.6,577.5 869.9,576.5 870.4,575.4 870.5,574.4 870.5,573.3 870.5,572.3 870.5,571.3 870,570.2 868.7,569.1 867.4,568 867,566.9 867,565.9 867,564.8 867.1,563.8 867.3,562.7 867.8,561.7 869.2,560.7 870.6,559.8 871.1,558.8 871.3,557.7 871.4,556.7 871.5,555.7 871.4,554.6 871.1,553.5 869.9,552.4 868.7,551.2 868.3,550.1 868.3,549 868.4,548 868.6,546.9 868.8,545.9 869.4,544.9 870.9,544 872.3,543.2 872.9,542.2 873.2,541.2 873.3,540.2 873.5,539.1 873.5,538.1 873.3,537 872.1,535.7 871,534.5 870.7,533.4 870.8,532.3 871,531.3 871.2,530.2 871.5,529.2 872.2,528.3 873.7,527.5 875.2,526.7 875.9,525.8 876.2,524.8 876.4,523.8 876.6,522.8 876.8,521.8 876.6,520.6 875.5,519.3 874.5,518 874.3,516.8 874.4,515.8 874.7,514.8 875,513.7 875.3,512.7 876,511.8 877.6,511.2 879.2,510.5 879.9,509.7 880.3,508.7 880.6,507.7 880.9,506.7 881.1,505.7 881,504.5 880,503.1 879,501.7 878.9,500.6 879.2,499.6 879.5,498.5 879.8,497.6 880.3,496.6 881,495.7 882.6,495.2 884.2,494.6 885,493.8 885.5,492.9 885.8,491.9 886.2,490.9 886.5,489.9 886.4,488.8 885.6,487.3 884.7,485.8 884.7,484.7 885,483.7 885.4,482.7 885.8,481.7 886.3,480.8 887.1,480 888.7,479.5 890.4,479.1 891.2,478.3 891.7,477.4 892.2,476.5 892.6,475.5 892.9,474.5 892.9,473.4 892.2,471.9 891.4,470.4 891.5,469.2 891.8,468.2 892.3,467.3 892.8,466.3 893.3,465.4 894.2,464.7 895.9,464.4 897.5,464 898.4,463.3 899,462.4 899.5,461.5 900,460.6 900.4,459.6 900.5,458.5 899.8,457 899.2,455.4 899.3,454.2 899.7,453.3 900.2,452.4 900.8,451.4 901.4,450.6 902.3,449.9 904,449.7 905.7,449.5 906.6,448.8 907.2,448 907.8,447.1 908.3,446.2 908.8,445.3 909,444.2 908.4,442.6 907.9,441 908.1,439.8 908.6,438.9 909.2,438 909.8,437.1 910.5,436.3 911.4,435.7 913.1,435.6 914.8,435.5 915.8,434.9 916.5,434.1 917.1,433.3 917.7,432.4 918.2,431.5 918.5,430.4 918,428.8 917.6,427.1 917.9,426 918.4,425.1 919.1,424.3 919.7,423.5 920.5,422.7 921.5,422.1 923.2,422.2 924.9,422.2 925.9,421.7 926.6,420.9 927.3,420.1 927.9,419.3 928.5,418.4 928.9,417.4 928.5,415.7 928.2,414 928.6,412.9 929.2,412.1 929.9,411.3 930.6,410.5 931.4,409.8 932.4,409.3 934.1,409.4 935.8,409.6 936.8,409.1 937.6,408.4 938.3,407.7 939,406.9 939.7,406.1 940.1,405 939.9,403.3 939.7,401.7 940.1,400.6 940.8,399.8 941.5,399 942.3,398.3 943.1,397.6 944.2,397.2 945.9,397.5 947.5,397.7 948.6,397.3 949.4,396.7 950.2,396 951,395.3 951.7,394.5 952.1,393.5 952,391.8 951.9,390.1 952.4,389.1 953.2,388.3 954,387.6 954.8,386.9 955.6,386.3 956.7,386 958.4,386.3 960.1,386.7 961.2,386.4 962,385.8 962.8,385.1 963.6,384.5 964.4,383.8 964.9,382.8 965,381.1 965,379.4 965.5,378.4 966.3,377.7 967.2,377 968,376.4 968.9,375.8 970,375.6 971.7,376 973.3,376.5 974.4,376.3 975.3,375.8 976.2,375.2 977,374.6 977.8,373.9 978.4,372.9 978.6,371.3 978.7,369.6 979.3,368.6 980.2,367.9 981,367.4 981.9,366.8 982.9,366.3 984,366.1 985.6,366.7 987.2,367.3 988.3,367.1 989.3,366.7 990.2,366.1 991,365.6 991.9,365 992.6,364.1 992.8,362.4 993,360.7 993.7,359.8 994.6,359.2 995.5,358.7 996.5,358.2 997.4,357.7 998.6,357.6 1000.1,358.3 1001.7,359 1002.8,358.9 1003.8,358.5 1004.7,358.1 1005.6,357.6 1006.5,357 1007.3,356.1 1007.6,354.5 1008,352.8 1008.7,352 1009.6,351.4 1010.6,350.9 1011.5,350.5 1012.5,350.2 1013.7,350.1 1015.2,350.9 1016.7,351.7 1017.8,351.7 1018.8,351.4 1019.8,351 1020.7,350.6 1021.7,350.1 1022.5,349.2 1022.9,347.6 1023.4,346 1024.2,345.2 1025.1,344.7 1026.1,344.3 1027.1,343.9 1028.1,343.6 1029.3,343.7 1030.7,344.6 1032.2,345.5 1033.3,345.5 1034.3,345.3 1035.3,344.9 1036.3,344.6 1037.2,344.1 1038.1,343.4 1038.6,341.8 1039.2,340.2 1040.1,339.4 1041.1,339 1042.1,338.7 1043.1,338.4 1044.1,338.2 1045.3,338.3 1046.7,339.3 1048,340.3 1049.2,340.4 1050.2,340.2 1051.2,339.9 1052.2,339.7 1053.2,339.3 1054.1,338.6 1054.7,337 1055.4,335.5 1056.3,334.8 1057.3,334.4 1058.4,334.2 1059.4,333.9 1060.4,333.8 1061.6,334 1062.9,335.1 1064.2,336.1 1065.3,336.4 1066.4,336.2 1067.4,336 1068.4,335.8 1069.4,335.5 1070.3,334.9 1071.1,333.4 1071.9,331.9 1072.9,331.2 1073.9,331 1074.9,330.8 1076,330.6 1077,330.5 1078.1,330.8 1079.4,332 1080.6,333.1 1081.7,333.4 1082.8,333.4 1083.8,333.2 1084.8,333.1 1085.8,332.9 1086.8,332.3 1087.7,330.8 1088.6,329.4 1089.6,328.8 1090.6,328.6 1091.7,328.5 1092.7,328.4 1093.8,328.4 1094.9,328.7 1096,330 1097.2,331.2 1098.3,331.6 1099.3,331.6 1100.4,331.6 1101.4,331.5 1102.4,331.3 1103.4,330.8 1104.4,329.4 1105.4,328 1106.4,327.5 1107.5,327.4 1108.5,327.3 1109.6,327.3 1110.7,327.4 1111.7,327.8 1112.8,329.1 1113.9,330.5 1114.9,330.9 1116,331 1117,331 1118,331 1119.1,330.9 1120.1,330.5 1121.2,329.1 1122.3,327.8 1123.3,327.4 1124.4,327.3 1125.5,327.3 1126.5,327.4 1127.6,327.5 1128.6,328 1129.6,329.4 1130.6,330.8 1131.6,331.3 1132.6,331.5 1133.6,331.6 1134.7,331.6 1135.7,331.6 1136.8,331.2 1138,330 1139.1,328.7 1140.2,328.4 1141.3,328.4 1142.3,328.5 1143.4,328.6 1144.4,328.8 1145.4,329.4 1146.3,330.8 1147.2,332.3 1148.2,332.9 1149.2,333.1 1150.2,333.2 1151.2,333.4 1152.3,333.4 1153.4,333.1 1154.6,332 1155.9,330.8 1157,330.5 1158,330.6 1159.1,330.8 1160.1,331 1161.1,331.2 1162.1,331.9 1162.9,333.4 1163.7,334.9 1164.6,335.5 1165.6,335.8 1166.6,336 1167.6,336.2 1168.7,336.4 1169.8,336.1 1171.1,335.1 1172.4,334 1173.6,333.8 1174.6,333.9 1175.6,334.2 1176.7,334.4 1177.7,334.8 1178.6,335.5 1179.3,337 1179.9,338.6 1180.8,339.3 1181.8,339.7 1182.8,339.9 1183.8,340.2 1184.8,340.4 1186,340.3 1187.3,339.3 1188.7,338.3 1189.9,338.2 1190.9,338.4 1191.9,338.7 1192.9,339 1193.9,339.4 1194.8,340.2 1195.4,341.8 1195.9,343.4 1196.8,344.1 1197.7,344.6 1198.7,344.9 1199.7,345.3 1200.7,345.5 1201.8,345.5 1203.3,344.6 1204.7,343.7 1205.9,343.6 1206.9,343.9 1207.9,344.3 1208.9,344.7 1209.8,345.2 1210.6,346 1211.1,347.6 1211.5,349.2 1212.3,350.1 1213.3,350.6 1214.2,351 1215.2,351.4 1216.2,351.7 1217.3,351.7 1218.8,350.9 1220.3,350.1 1221.5,350.2 1222.5,350.5 1223.4,350.9 1224.4,351.4 1225.3,352 1226,352.8 1226.4,354.5 1226.7,356.1 1227.5,357 1228.4,357.6 1229.3,358.1 1230.2,358.5 1231.2,358.9 1232.3,359 1233.9,358.3 1235.4,357.6 1236.6,357.7 1237.5,358.2 1238.5,358.7 1239.4,359.2 1240.3,359.8 1241,360.7 1241.2,362.4 1241.4,364.1 1242.1,365 1243,365.6 1243.8,366.1 1244.7,366.7 1245.7,367.1 1246.8,367.3 1248.4,366.7 1250,366.1 1251.1,366.3 1252.1,366.8 1253,367.4 1253.8,367.9 1254.7,368.6 1255.3,369.6 1255.4,371.3 1255.6,372.9 1256.2,373.9 1257,374.6 1257.8,375.2 1258.7,375.8 1259.6,376.3 1260.7,376.5 1262.3,376 1264,375.6 1265.1,375.8 1266,376.4 1266.8,377 1267.7,377.7 1268.5,378.4 1269,379.4 1269,381.1 1269.1,382.8 1269.6,383.8 1270.4,384.5 1271.2,385.1 1272,385.8 1272.8,386.4 1273.9,386.7 1275.6,386.3 1277.3,386 1278.4,386.3 1279.2,386.9 1280,387.6 1280.8,388.3 1281.6,389.1 1282.1,390.1 1282,391.8 1281.9,393.5 1282.3,394.5 1283,395.3 1283.8,396 1284.6,396.7 1285.4,397.3 1286.5,397.7 1288.1,397.5 1289.8,397.2 1290.9,397.6 1291.7,398.3 1292.5,399 1293.2,399.8 1293.9,400.6 1294.3,401.7 1294.1,403.3 1293.9,405 1294.3,406.1 1295,406.9 1295.7,407.7 1296.4,408.4 1297.2,409.1 1298.2,409.6 1299.9,409.4 1301.6,409.3 1302.6,409.8 1303.4,410.5 1304.1,411.3 1304.8,412.1 1305.4,412.9 1305.8,414 1305.5,415.7 1305.1,417.4 1305.5,418.4 1306.1,419.3 1306.7,420.1 1307.4,420.9 1308.1,421.7 1309.1,422.2 1310.8,422.2 1312.5,422.1 1313.5,422.7 1314.3,423.5 1314.9,424.3 1315.6,425.1 1316.1,426 1316.4,427.1 1316,428.8 1315.5,430.4 1315.8,431.5 1316.3,432.4 1316.9,433.3 1317.5,434.1 1318.2,434.9 1319.2,435.5 1320.9,435.6 1322.6,435.7 1323.5,436.3 1324.2,437.1 1324.8,438 1325.4,438.9 1325.9,439.8 1326.1,441 1325.6,442.6 1325,444.2 1325.2,445.3 1325.7,446.2 1326.2,447.1 1326.8,448 1327.4,448.8 1328.3,449.5 1330,449.7 1331.7,449.9 1332.6,450.6 1333.2,451.4 1333.8,452.3 1334.3,453.3 1334.7,454.2 1334.8,455.4 1334.2,457 1333.5,458.5 1333.6,459.6 1334,460.6 1334.5,461.5 1335,462.4 1335.6,463.3 1336.5,464 1338.1,464.4 1339.8,464.7 1340.7,465.4 1341.2,466.3 1341.7,467.3 1342.2,468.2 1342.5,469.2 1342.6,470.4 1341.8,471.9 1341.1,473.4 1341.1,474.5 1341.4,475.5 1341.8,476.5 1342.3,477.4 1342.8,478.3 1343.6,479.1 1345.3,479.5 1346.9,480 1347.7,480.8 1348.2,481.7 1348.6,482.7 1349,483.7 1349.3,484.7 1349.3,485.8 1348.4,487.3 1347.6,488.8 1347.5,489.9 1347.8,490.9 1348.2,491.9 1348.5,492.9 1349,493.8 1349.8,494.6 1351.4,495.2 1353,495.7 1353.7,496.6 1354.2,497.6 1354.5,498.5 1354.8,499.6 1355.1,500.6 1355,501.7 1354,503.1 1353,504.5 1352.9,505.7 1353.1,506.7 1353.4,507.7 1353.7,508.7 1354.1,509.7 1354.8,510.5 1356.4,511.2 1358,511.8 1358.7,512.7 1359,513.7 1359.3,514.8 1359.6,515.8 1359.7,516.8 1359.5,518 1358.5,519.3 1357.4,520.6 1357.2,521.8 1357.4,522.8 1357.6,523.8 1357.8,524.8 1358.1,525.8 1358.8,526.7 1360.3,527.5 1361.8,528.3 1362.5,529.2 1362.8,530.2 1363,531.3 1363.2,532.3 1363.3,533.4 1363,534.5 1361.9,535.7 1360.7,537 1360.5,538.1 1360.5,539.1 1360.7,540.2 1360.8,541.2 1361.1,542.2 1361.7,543.2 1363.1,544 1364.6,544.9 1365.2,545.9 1365.4,546.9 1365.6,548 1365.7,549 1365.7,550.1 1365.3,551.2 1364.1,552.4 1362.9,553.5 1362.6,554.6 1362.5,555.7 1362.6,556.7 1362.7,557.7 1362.9,558.8 1363.4,559.8 1364.8,560.7 1366.2,561.7 1366.7,562.7 1366.9,563.8 1367,564.8 1367,565.9 1367,566.9 1366.6,568 1365.3,569.1 1364,570.2 1363.5,571.3 1363.5,572.3 1363.5,573.3 1363.5,574.4 1363.6,575.4 1364.1,576.5 1365.4,577.5" fill="none" stroke="#a3a3a3" stroke-width="1.6"/><circle cx="1117" cy="577.5" r="215" fill="none" stroke="#a3a3a3" stroke-width="1.6"/><circle cx="1117" cy="577.5" r="198.5" fill="none" stroke="#a3a3a3" stroke-width="1.6"/>
<path d="M317.1,557.4 L541.4,401.8 L600,420 L612,552 L640,548 L660,552 L606,596 L601.5,600.7 L593.5,606.4 C590,608.5 586,610.5 582.1,612.1 C577,613.8 572,615 565.1,615.5 C555,616 545,616 531,614.9 L485.5,608.7 C475,607.5 460,606.5 440,604.1 L326.6,591.4 C322,593 320,594.5 316,594 C311,593 307.6,590 307.6,584.2 C307.6,576 310,568 317.1,557.4 Z" fill="#fff" stroke="none"/>
<path d="M541.4,401.8 L317.1,557.4 C310,568 307.6,576 307.6,584.2 C307.6,590 311,593 316,594 C320,594.5 322,593 326.6,591.4 L440,604.1 C460,606.5 475,607.5 485.5,608.7 L531,614.9 C545,616 555,616 565.1,615.5 C572,615 577,613.8 582.1,612.1 C586,610.5 590,608.5 593.5,606.4 L601.5,600.7" fill="none" stroke="#a3a3a3" stroke-width="1.6"/>
<clipPath id="rtclip"><path d="M333.7,569.5 L533.5,432.6 C541,443 546,450 550,459.6 L563.7,493.7 L577.3,539.2 C581,552 584,563 585.6,573.4 C585.8,580 584,585 578,586.5 L565.1,587.6 L519.6,584.8 L440,579.1 L389.8,575.5 Z"/></clipPath>
<path d="M333.7,569.5 L533.5,432.6 C541,443 546,450 550,459.6 L563.7,493.7 L577.3,539.2 C581,552 584,563 585.6,573.4 C585.8,580 584,585 578,586.5 L565.1,587.6 L519.6,584.8 L440,579.1 L389.8,575.5 Z" fill="#fff" stroke="none"/>
<g clip-path="url(#rtclip)"><polygon points="567.4,577.5 568.7,578.6 569.2,579.6 569.3,580.7 569.3,581.7 569.2,582.8 569.1,583.8 568.6,584.9 567.3,585.9 565.9,586.9 565.4,587.9 565.3,588.9 565.2,590 565.1,591 565.2,592.1 565.6,593.1 566.8,594.3 568.1,595.4 568.5,596.5 568.5,597.6 568.4,598.6 568.3,599.7 568.1,600.7 567.6,601.7 566.1,602.6 564.7,603.5 564.1,604.5 563.9,605.5 563.8,606.6 563.7,607.6 563.6,608.7 563.9,609.7 565.1,611 566.3,612.2 566.6,613.3 566.6,614.4 566.4,615.4 566.2,616.4 566,617.5 565.4,618.4 563.9,619.3 562.4,620.1 561.8,621 561.5,622 561.3,623 561.1,624.1 561,625.1 561.2,626.2 562.3,627.5 563.4,628.8 563.6,629.9 563.5,631 563.3,632 563,633 562.7,634.1 562,635 560.5,635.7 558.9,636.4 558.3,637.3 557.9,638.3 557.6,639.3 557.4,640.3 557.2,641.3 557.4,642.5 558.4,643.8 559.4,645.2 559.5,646.3 559.3,647.4 559.1,648.4 558.7,649.4 558.3,650.4 557.6,651.3 556,651.9 554.4,652.5 553.7,653.3 553.3,654.3 552.9,655.3 552.6,656.2 552.4,657.3 552.4,658.4 553.4,659.8 554.3,661.3 554.3,662.4 554.1,663.4 553.7,664.4 553.3,665.4 552.9,666.4 552.1,667.2 550.4,667.7 548.8,668.2 548,669 547.5,669.9 547.1,670.9 546.8,671.8 546.4,672.8 546.4,674 547.3,675.5 548.1,677 548.1,678.1 547.7,679.1 547.3,680.1 546.9,681 546.3,682 545.5,682.7 543.8,683.1 542.2,683.5 541.3,684.2 540.8,685.1 540.3,686.1 539.9,687 539.5,688 539.4,689.1 540.1,690.6 540.8,692.2 540.8,693.3 540.3,694.3 539.9,695.3 539.4,696.2 538.8,697.1 537.9,697.8 536.2,698 534.5,698.3 533.6,699 533,699.9 532.5,700.8 532,701.7 531.5,702.6 531.4,703.7 532,705.3 532.6,706.9 532.4,708 532,709 531.4,709.9 530.8,710.8 530.2,711.6 529.2,712.3 527.6,712.4 525.9,712.6 524.9,713.2 524.3,714 523.7,714.9 523.1,715.8 522.6,716.7 522.4,717.8 522.9,719.4 523.4,721 523.1,722.1 522.6,723.1 522,723.9 521.4,724.8 520.7,725.6 519.7,726.2 518,726.2 516.3,726.2 515.3,726.8 514.6,727.6 513.9,728.4 513.3,729.2 512.7,730.1 512.4,731.2 512.8,732.8 513.2,734.5 512.9,735.6 512.3,736.5 511.6,737.3 511,738.1 510.2,738.9 509.2,739.4 507.5,739.3 505.8,739.2 504.8,739.7 504,740.4 503.3,741.2 502.6,742 502,742.8 501.6,743.9 501.9,745.6 502.2,747.3 501.8,748.3 501.1,749.2 500.4,749.9 499.7,750.7 498.9,751.4 497.8,751.8 496.1,751.7 494.4,751.5 493.4,751.9 492.6,752.5 491.8,753.3 491.1,754 490.4,754.8 490,755.8 490.1,757.5 490.3,759.2 489.8,760.3 489.1,761.1 488.4,761.8 487.6,762.5 486.7,763.1 485.6,763.5 484,763.2 482.3,762.9 481.2,763.3 480.4,763.9 479.6,764.5 478.8,765.2 478.1,766 477.5,767 477.6,768.7 477.6,770.4 477.1,771.4 476.3,772.1 475.5,772.8 474.7,773.5 473.8,774 472.7,774.3 471,773.9 469.4,773.5 468.3,773.8 467.4,774.3 466.6,774.9 465.7,775.6 465,776.3 464.4,777.3 464.3,779 464.3,780.7 463.6,781.6 462.8,782.3 462,782.9 461.1,783.5 460.2,784 459.1,784.3 457.4,783.7 455.8,783.2 454.7,783.4 453.8,783.9 452.9,784.5 452,785 451.2,785.7 450.6,786.6 450.4,788.3 450.2,790 449.5,790.9 448.7,791.6 447.8,792.1 446.9,792.6 445.9,793.1 444.8,793.2 443.2,792.6 441.6,792 440.5,792.1 439.5,792.5 438.6,793 437.7,793.5 436.9,794.1 436.2,795 435.9,796.7 435.6,798.4 434.8,799.3 433.9,799.8 433,800.3 432.1,800.8 431.1,801.2 429.9,801.2 428.4,800.5 426.9,799.8 425.7,799.8 424.8,800.2 423.8,800.6 422.9,801.1 422,801.6 421.2,802.4 420.8,804.1 420.4,805.7 419.6,806.6 418.7,807.1 417.7,807.5 416.7,807.9 415.7,808.2 414.6,808.2 413.1,807.4 411.6,806.5 410.5,806.5 409.5,806.8 408.5,807.2 407.5,807.6 406.6,808 405.8,808.8 405.3,810.4 404.7,812.1 403.9,812.8 402.9,813.3 402,813.7 400.9,814 399.9,814.2 398.8,814.2 397.4,813.2 395.9,812.3 394.8,812.2 393.8,812.4 392.8,812.7 391.8,813 390.8,813.4 390,814.2 389.3,815.7 388.7,817.3 387.8,818 386.8,818.4 385.8,818.7 384.8,819 383.8,819.2 382.6,819 381.3,818 379.9,816.9 378.8,816.8 377.8,816.9 376.7,817.1 375.7,817.4 374.7,817.7 373.8,818.4 373.1,819.9 372.4,821.5 371.4,822.1 370.4,822.4 369.4,822.7 368.3,822.9 367.3,823 366.2,822.7 364.9,821.6 363.6,820.5 362.5,820.3 361.5,820.3 360.4,820.5 359.4,820.7 358.4,821 357.4,821.6 356.6,823 355.8,824.5 354.8,825.1 353.8,825.4 352.7,825.5 351.7,825.6 350.6,825.7 349.5,825.4 348.3,824.2 347.1,823 346,822.6 345,822.6 343.9,822.7 342.9,822.9 341.9,823.1 340.9,823.6 340,825 339,826.4 338,827 337,827.1 335.9,827.2 334.8,827.3 333.8,827.2 332.7,826.9 331.6,825.6 330.5,824.3 329.4,823.9 328.4,823.8 327.3,823.9 326.3,823.9 325.2,824 324.2,824.5 323.2,825.9 322.2,827.2 321.1,827.7 320.1,827.8 319,827.8 317.9,827.8 316.9,827.7 315.8,827.2 314.8,825.9 313.8,824.5 312.8,824 311.7,823.9 310.7,823.9 309.6,823.8 308.6,823.9 307.5,824.3 306.4,825.6 305.3,826.9 304.2,827.2 303.2,827.3 302.1,827.2 301,827.1 300,827 299,826.4 298,825 297.1,823.6 296.1,823.1 295.1,822.9 294.1,822.7 293,822.6 292,822.6 290.9,823 289.7,824.2 288.5,825.4 287.4,825.7 286.3,825.6 285.3,825.5 284.2,825.4 283.2,825.1 282.2,824.5 281.4,823 280.6,821.6 279.6,821 278.6,820.7 277.6,820.5 276.5,820.3 275.5,820.3 274.4,820.5 273.1,821.6 271.8,822.7 270.7,823 269.7,822.9 268.6,822.7 267.6,822.4 266.6,822.1 265.6,821.5 264.9,819.9 264.2,818.4 263.3,817.7 262.3,817.4 261.3,817.1 260.2,816.9 259.2,816.8 258.1,816.9 256.7,818 255.4,819 254.2,819.2 253.2,819 252.2,818.7 251.2,818.4 250.2,818 249.3,817.3 248.7,815.7 248,814.2 247.2,813.4 246.2,813 245.2,812.7 244.2,812.4 243.2,812.2 242.1,812.3 240.6,813.2 239.2,814.2 238.1,814.2 237.1,814 236,813.7 235.1,813.3 234.1,812.8 233.3,812.1 232.7,810.4 232.2,808.8 231.4,808 230.5,807.6 229.5,807.2 228.5,806.8 227.5,806.5 226.4,806.5 224.9,807.4 223.4,808.2 222.3,808.2 221.3,807.9 220.3,807.5 219.3,807.1 218.4,806.6 217.6,805.7 217.2,804.1 216.8,802.4 216,801.6 215.1,801.1 214.2,800.6 213.2,800.2 212.3,799.8 211.1,799.8 209.6,800.5 208.1,801.2 206.9,801.2 205.9,800.8 205,800.3 204.1,799.8 203.2,799.3 202.4,798.4 202.1,796.7 201.8,795 201.1,794.1 200.3,793.5 199.4,793 198.5,792.5 197.5,792.1 196.4,792 194.8,792.6 193.2,793.2 192.1,793.1 191.1,792.6 190.2,792.1 189.3,791.6 188.5,790.9 187.8,790 187.6,788.3 187.4,786.6 186.8,785.7 186,785 185.1,784.5 184.2,783.9 183.3,783.4 182.2,783.2 180.6,783.7 178.9,784.3 177.8,784 176.9,783.5 176,782.9 175.2,782.3 174.4,781.6 173.7,780.7 173.7,779 173.6,777.3 173,776.3 172.3,775.6 171.4,774.9 170.6,774.3 169.7,773.8 168.6,773.5 167,773.9 165.3,774.3 164.2,774 163.3,773.5 162.5,772.8 161.7,772.1 160.9,771.4 160.4,770.4 160.4,768.7 160.5,767 159.9,766 159.2,765.2 158.4,764.5 157.6,763.9 156.8,763.3 155.7,762.9 154,763.2 152.4,763.5 151.3,763.1 150.4,762.5 149.6,761.8 148.9,761.1 148.2,760.3 147.7,759.2 147.9,757.5 148,755.8 147.6,754.8 146.9,754 146.2,753.3 145.4,752.5 144.6,751.9 143.6,751.5 141.9,751.7 140.2,751.8 139.1,751.4 138.3,750.7 137.6,749.9 136.9,749.2 136.2,748.3 135.8,747.3 136.1,745.6 136.4,743.9 136,742.8 135.4,742 134.7,741.2 134,740.4 133.2,739.7 132.2,739.2 130.5,739.3 128.8,739.4 127.8,738.9 127,738.1 126.4,737.3 125.7,736.5 125.1,735.6 124.8,734.5 125.2,732.8 125.6,731.2 125.3,730.1 124.7,729.2 124.1,728.4 123.4,727.6 122.7,726.8 121.7,726.2 120,726.2 118.3,726.2 117.3,725.6 116.6,724.8 116,723.9 115.4,723.1 114.9,722.1 114.6,721 115.1,719.4 115.6,717.8 115.4,716.7 114.9,715.8 114.3,714.9 113.7,714 113.1,713.2 112.1,712.6 110.4,712.4 108.8,712.3 107.8,711.6 107.2,710.8 106.6,709.9 106,709 105.6,708 105.4,706.9 106,705.3 106.6,703.7 106.5,702.6 106,701.7 105.5,700.8 105,699.9 104.4,699 103.5,698.3 101.8,698 100.1,697.8 99.2,697.1 98.6,696.2 98.1,695.3 97.7,694.3 97.2,693.3 97.2,692.2 97.9,690.6 98.6,689.1 98.5,688 98.1,687 97.7,686.1 97.2,685.1 96.7,684.2 95.8,683.5 94.2,683.1 92.5,682.7 91.7,682 91.1,681 90.7,680.1 90.3,679.1 89.9,678.1 89.9,677 90.7,675.5 91.6,674 91.6,672.8 91.2,671.8 90.9,670.9 90.5,669.9 90,669 89.2,668.2 87.6,667.7 85.9,667.2 85.1,666.4 84.7,665.4 84.3,664.4 83.9,663.4 83.7,662.4 83.7,661.3 84.6,659.8 85.6,658.4 85.6,657.3 85.4,656.2 85.1,655.3 84.7,654.3 84.3,653.3 83.6,652.5 82,651.9 80.4,651.3 79.7,650.4 79.3,649.4 78.9,648.4 78.7,647.4 78.5,646.3 78.6,645.2 79.6,643.8 80.6,642.5 80.8,641.3 80.6,640.3 80.4,639.3 80.1,638.3 79.7,637.3 79.1,636.4 77.5,635.7 76,635 75.3,634.1 75,633 74.7,632 74.5,631 74.4,629.9 74.6,628.8 75.7,627.5 76.8,626.2 77,625.1 76.9,624.1 76.7,623 76.5,622 76.2,621 75.6,620.1 74.1,619.3 72.6,618.4 72,617.5 71.8,616.4 71.6,615.4 71.4,614.4 71.4,613.3 71.7,612.2 72.9,611 74.1,609.7 74.4,608.7 74.3,607.6 74.2,606.6 74.1,605.5 73.9,604.5 73.3,603.5 71.9,602.6 70.4,601.7 69.9,600.7 69.7,599.7 69.6,598.6 69.5,597.6 69.5,596.5 69.9,595.4 71.2,594.3 72.4,593.1 72.8,592.1 72.9,591 72.8,590 72.7,588.9 72.6,587.9 72.1,586.9 70.7,585.9 69.4,584.9 68.9,583.8 68.8,582.8 68.7,581.7 68.7,580.7 68.8,579.6 69.3,578.6 70.6,577.5 71.9,576.5 72.4,575.4 72.5,574.4 72.5,573.3 72.5,572.3 72.5,571.3 72,570.2 70.7,569.1 69.4,568 69,566.9 69,565.9 69,564.8 69.1,563.8 69.3,562.7 69.8,561.7 71.2,560.7 72.6,559.8 73.1,558.8 73.3,557.7 73.4,556.7 73.5,555.7 73.4,554.6 73.1,553.5 71.9,552.4 70.7,551.2 70.3,550.1 70.3,549 70.4,548 70.6,546.9 70.8,545.9 71.4,544.9 72.9,544 74.3,543.2 74.9,542.2 75.2,541.2 75.3,540.2 75.5,539.1 75.5,538.1 75.3,537 74.1,535.7 73,534.5 72.7,533.4 72.8,532.3 73,531.3 73.2,530.2 73.5,529.2 74.2,528.3 75.7,527.5 77.2,526.7 77.9,525.8 78.2,524.8 78.4,523.8 78.6,522.8 78.8,521.8 78.6,520.6 77.5,519.3 76.5,518 76.3,516.8 76.4,515.8 76.7,514.8 77,513.7 77.3,512.7 78,511.8 79.6,511.2 81.2,510.5 81.9,509.7 82.3,508.7 82.6,507.7 82.9,506.7 83.1,505.7 83,504.5 82,503.1 81,501.7 80.9,500.6 81.2,499.6 81.5,498.5 81.8,497.6 82.3,496.6 83,495.7 84.6,495.2 86.2,494.6 87,493.8 87.5,492.9 87.8,491.9 88.2,490.9 88.5,489.9 88.4,488.8 87.6,487.3 86.7,485.8 86.7,484.7 87,483.7 87.4,482.7 87.8,481.7 88.3,480.8 89.1,480 90.7,479.5 92.4,479.1 93.2,478.3 93.7,477.4 94.2,476.5 94.6,475.5 94.9,474.5 94.9,473.4 94.2,471.9 93.4,470.4 93.5,469.2 93.8,468.2 94.3,467.3 94.8,466.3 95.3,465.4 96.2,464.7 97.9,464.4 99.5,464 100.4,463.3 101,462.4 101.5,461.5 102,460.6 102.4,459.6 102.5,458.5 101.8,457 101.2,455.4 101.3,454.2 101.7,453.3 102.2,452.4 102.8,451.4 103.4,450.6 104.3,449.9 106,449.7 107.7,449.5 108.6,448.8 109.2,448 109.8,447.1 110.3,446.2 110.8,445.3 111,444.2 110.4,442.6 109.9,441 110.1,439.8 110.6,438.9 111.2,438 111.8,437.1 112.5,436.3 113.4,435.7 115.1,435.6 116.8,435.5 117.8,434.9 118.5,434.1 119.1,433.3 119.7,432.4 120.2,431.5 120.5,430.4 120,428.8 119.6,427.1 119.9,426 120.4,425.1 121.1,424.3 121.7,423.5 122.5,422.7 123.5,422.1 125.2,422.2 126.9,422.2 127.9,421.7 128.6,420.9 129.3,420.1 129.9,419.3 130.5,418.4 130.9,417.4 130.5,415.7 130.2,414 130.6,412.9 131.2,412.1 131.9,411.3 132.6,410.5 133.4,409.8 134.4,409.3 136.1,409.4 137.8,409.6 138.8,409.1 139.6,408.4 140.3,407.7 141,406.9 141.7,406.1 142.1,405 141.9,403.3 141.7,401.7 142.1,400.6 142.8,399.8 143.5,399 144.3,398.3 145.1,397.6 146.2,397.2 147.9,397.5 149.5,397.7 150.6,397.3 151.4,396.7 152.2,396 153,395.3 153.7,394.5 154.1,393.5 154,391.8 153.9,390.1 154.4,389.1 155.2,388.3 156,387.6 156.8,386.9 157.6,386.3 158.7,386 160.4,386.3 162.1,386.7 163.2,386.4 164,385.8 164.8,385.1 165.6,384.5 166.4,383.8 166.9,382.8 167,381.1 167,379.4 167.5,378.4 168.3,377.7 169.2,377 170,376.4 170.9,375.8 172,375.6 173.7,376 175.3,376.5 176.4,376.3 177.3,375.8 178.2,375.2 179,374.6 179.8,373.9 180.4,372.9 180.6,371.3 180.7,369.6 181.3,368.6 182.2,367.9 183,367.4 183.9,366.8 184.9,366.3 186,366.1 187.6,366.7 189.2,367.3 190.3,367.1 191.3,366.7 192.2,366.1 193,365.6 193.9,365 194.6,364.1 194.8,362.4 195,360.7 195.7,359.8 196.6,359.2 197.5,358.7 198.5,358.2 199.4,357.7 200.6,357.6 202.1,358.3 203.7,359 204.8,358.9 205.8,358.5 206.7,358.1 207.6,357.6 208.5,357 209.3,356.1 209.6,354.5 210,352.8 210.7,352 211.6,351.4 212.6,350.9 213.5,350.5 214.5,350.2 215.7,350.1 217.2,350.9 218.7,351.7 219.8,351.7 220.8,351.4 221.8,351 222.7,350.6 223.7,350.1 224.5,349.2 224.9,347.6 225.4,346 226.2,345.2 227.1,344.7 228.1,344.3 229.1,343.9 230.1,343.6 231.3,343.7 232.7,344.6 234.2,345.5 235.3,345.5 236.3,345.3 237.3,344.9 238.3,344.6 239.2,344.1 240.1,343.4 240.6,341.8 241.2,340.2 242.1,339.4 243.1,339 244.1,338.7 245.1,338.4 246.1,338.2 247.3,338.3 248.7,339.3 250,340.3 251.2,340.4 252.2,340.2 253.2,339.9 254.2,339.7 255.2,339.3 256.1,338.6 256.7,337 257.4,335.5 258.3,334.8 259.3,334.4 260.4,334.2 261.4,333.9 262.4,333.8 263.6,334 264.9,335.1 266.2,336.1 267.3,336.4 268.4,336.2 269.4,336 270.4,335.8 271.4,335.5 272.3,334.9 273.1,333.4 273.9,331.9 274.9,331.2 275.9,331 276.9,330.8 278,330.6 279,330.5 280.1,330.8 281.4,332 282.6,333.1 283.7,333.4 284.8,333.4 285.8,333.2 286.8,333.1 287.8,332.9 288.8,332.3 289.7,330.8 290.6,329.4 291.6,328.8 292.6,328.6 293.7,328.5 294.7,328.4 295.8,328.4 296.9,328.7 298,330 299.2,331.2 300.3,331.6 301.3,331.6 302.4,331.6 303.4,331.5 304.4,331.3 305.4,330.8 306.4,329.4 307.4,328 308.4,327.5 309.5,327.4 310.5,327.3 311.6,327.3 312.7,327.4 313.7,327.8 314.8,329.1 315.9,330.5 316.9,330.9 318,331 319,331 320,331 321.1,330.9 322.1,330.5 323.2,329.1 324.3,327.8 325.3,327.4 326.4,327.3 327.5,327.3 328.5,327.4 329.6,327.5 330.6,328 331.6,329.4 332.6,330.8 333.6,331.3 334.6,331.5 335.6,331.6 336.7,331.6 337.7,331.6 338.8,331.2 340,330 341.1,328.7 342.2,328.4 343.3,328.4 344.3,328.5 345.4,328.6 346.4,328.8 347.4,329.4 348.3,330.8 349.2,332.3 350.2,332.9 351.2,333.1 352.2,333.2 353.2,333.4 354.3,333.4 355.4,333.1 356.6,332 357.9,330.8 359,330.5 360,330.6 361.1,330.8 362.1,331 363.1,331.2 364.1,331.9 364.9,333.4 365.7,334.9 366.6,335.5 367.6,335.8 368.6,336 369.6,336.2 370.7,336.4 371.8,336.1 373.1,335.1 374.4,334 375.6,333.8 376.6,333.9 377.6,334.2 378.7,334.4 379.7,334.8 380.6,335.5 381.3,337 381.9,338.6 382.8,339.3 383.8,339.7 384.8,339.9 385.8,340.2 386.8,340.4 388,340.3 389.3,339.3 390.7,338.3 391.9,338.2 392.9,338.4 393.9,338.7 394.9,339 395.9,339.4 396.8,340.2 397.4,341.8 397.9,343.4 398.8,344.1 399.7,344.6 400.7,344.9 401.7,345.3 402.7,345.5 403.8,345.5 405.3,344.6 406.7,343.7 407.9,343.6 408.9,343.9 409.9,344.3 410.9,344.7 411.8,345.2 412.6,346 413.1,347.6 413.5,349.2 414.3,350.1 415.3,350.6 416.2,351 417.2,351.4 418.2,351.7 419.3,351.7 420.8,350.9 422.3,350.1 423.5,350.2 424.5,350.5 425.4,350.9 426.4,351.4 427.3,352 428,352.8 428.4,354.5 428.7,356.1 429.5,357 430.4,357.6 431.3,358.1 432.2,358.5 433.2,358.9 434.3,359 435.9,358.3 437.4,357.6 438.6,357.7 439.5,358.2 440.5,358.7 441.4,359.2 442.3,359.8 443,360.7 443.2,362.4 443.4,364.1 444.1,365 445,365.6 445.8,366.1 446.7,366.7 447.7,367.1 448.8,367.3 450.4,366.7 452,366.1 453.1,366.3 454.1,366.8 455,367.4 455.8,367.9 456.7,368.6 457.3,369.6 457.4,371.3 457.6,372.9 458.2,373.9 459,374.6 459.8,375.2 460.7,375.8 461.6,376.3 462.7,376.5 464.3,376 466,375.6 467.1,375.8 468,376.4 468.8,377 469.7,377.7 470.5,378.4 471,379.4 471,381.1 471.1,382.8 471.6,383.8 472.4,384.5 473.2,385.1 474,385.8 474.8,386.4 475.9,386.7 477.6,386.3 479.3,386 480.4,386.3 481.2,386.9 482,387.6 482.8,388.3 483.6,389.1 484.1,390.1 484,391.8 483.9,393.5 484.3,394.5 485,395.3 485.8,396 486.6,396.7 487.4,397.3 488.5,397.7 490.1,397.5 491.8,397.2 492.9,397.6 493.7,398.3 494.5,399 495.2,399.8 495.9,400.6 496.3,401.7 496.1,403.3 495.9,405 496.3,406.1 497,406.9 497.7,407.7 498.4,408.4 499.2,409.1 500.2,409.6 501.9,409.4 503.6,409.3 504.6,409.8 505.4,410.5 506.1,411.3 506.8,412.1 507.4,412.9 507.8,414 507.5,415.7 507.1,417.4 507.5,418.4 508.1,419.3 508.7,420.1 509.4,420.9 510.1,421.7 511.1,422.2 512.8,422.2 514.5,422.1 515.5,422.7 516.3,423.5 516.9,424.3 517.6,425.1 518.1,426 518.4,427.1 518,428.8 517.5,430.4 517.8,431.5 518.3,432.4 518.9,433.3 519.5,434.1 520.2,434.9 521.2,435.5 522.9,435.6 524.6,435.7 525.5,436.3 526.2,437.1 526.8,438 527.4,438.9 527.9,439.8 528.1,441 527.6,442.6 527,444.2 527.2,445.3 527.7,446.2 528.2,447.1 528.8,448 529.4,448.8 530.3,449.5 532,449.7 533.7,449.9 534.6,450.6 535.2,451.4 535.8,452.3 536.3,453.3 536.7,454.2 536.8,455.4 536.2,457 535.5,458.5 535.6,459.6 536,460.6 536.5,461.5 537,462.4 537.6,463.3 538.5,464 540.1,464.4 541.8,464.7 542.7,465.4 543.2,466.3 543.7,467.3 544.2,468.2 544.5,469.2 544.6,470.4 543.8,471.9 543.1,473.4 543.1,474.5 543.4,475.5 543.8,476.5 544.3,477.4 544.8,478.3 545.6,479.1 547.3,479.5 548.9,480 549.7,480.8 550.2,481.7 550.6,482.7 551,483.7 551.3,484.7 551.3,485.8 550.4,487.3 549.6,488.8 549.5,489.9 549.8,490.9 550.2,491.9 550.5,492.9 551,493.8 551.8,494.6 553.4,495.2 555,495.7 555.7,496.6 556.2,497.6 556.5,498.5 556.8,499.6 557.1,500.6 557,501.7 556,503.1 555,504.5 554.9,505.7 555.1,506.7 555.4,507.7 555.7,508.7 556.1,509.7 556.8,510.5 558.4,511.2 560,511.8 560.7,512.7 561,513.7 561.3,514.8 561.6,515.8 561.7,516.8 561.5,518 560.5,519.3 559.4,520.6 559.2,521.8 559.4,522.8 559.6,523.8 559.8,524.8 560.1,525.8 560.8,526.7 562.3,527.5 563.8,528.3 564.5,529.2 564.8,530.2 565,531.3 565.2,532.3 565.3,533.4 565,534.5 563.9,535.7 562.7,537 562.5,538.1 562.5,539.1 562.7,540.2 562.8,541.2 563.1,542.2 563.7,543.2 565.1,544 566.6,544.9 567.2,545.9 567.4,546.9 567.6,548 567.7,549 567.7,550.1 567.3,551.2 566.1,552.4 564.9,553.5 564.6,554.6 564.5,555.7 564.6,556.7 564.7,557.7 564.9,558.8 565.4,559.8 566.8,560.7 568.2,561.7 568.7,562.7 568.9,563.8 569,564.8 569,565.9 569,566.9 568.6,568 567.3,569.1 566,570.2 565.5,571.3 565.5,572.3 565.5,573.3 565.5,574.4 565.6,575.4 566.1,576.5 567.4,577.5" fill="none" stroke="#a3a3a3" stroke-width="1.6"/><circle cx="319" cy="577.5" r="215" fill="none" stroke="#a3a3a3" stroke-width="1.6"/><circle cx="319" cy="577.5" r="198.5" fill="none" stroke="#a3a3a3" stroke-width="1.6"/></g>
<path d="M333.7,569.5 L533.5,432.6 C541,443 546,450 550,459.6 L563.7,493.7 L577.3,539.2 C581,552 584,563 585.6,573.4 C585.8,580 584,585 578,586.5 L565.1,587.6 L519.6,584.8 L440,579.1 L389.8,575.5 Z" fill="none" stroke="#a3a3a3" stroke-width="1.6"/>
<path d="M541,425.5 C556,440 564,452 568.2,459.6 C576,476 581,490 584,500 C589,518 592,535 593.2,550.6 L595,572" fill="none" stroke="#a3a3a3" stroke-width="1.6"/>
<path d="M600,453 C603,480 608,515 611.4,551" fill="none" stroke="#a3a3a3" stroke-width="1.6"/>
<path d="M630.8,435.7 C628,450 626.2,465 626.2,482 C626.5,505 628,525 629.6,550" fill="none" stroke="#a3a3a3" stroke-width="1.6"/>
<rect x="641.7" y="398" width="32.5" height="98.2" rx="3" fill="#fff" stroke="#a3a3a3" stroke-width="1.6"/>
<line x1="641.7" y1="424.5" x2="674.2" y2="424.5" stroke="#a3a3a3" stroke-width="1.6"/>
<line x1="641.7" y1="434.2" x2="674.2" y2="434.2" stroke="#a3a3a3" stroke-width="1.6"/>
<line x1="641.7" y1="437.3" x2="674.2" y2="437.3" stroke="#a3a3a3" stroke-width="1.6"/>
<line x1="641.7" y1="473.7" x2="674.2" y2="473.7" stroke="#a3a3a3" stroke-width="1.6"/>
<line x1="641.7" y1="475.3" x2="674.2" y2="475.3" stroke="#a3a3a3" stroke-width="1.6"/>
<line x1="641.7" y1="478.4" x2="674.2" y2="478.4" stroke="#a3a3a3" stroke-width="1.6"/>
<line x1="641.7" y1="487.7" x2="674.2" y2="487.7" stroke="#a3a3a3" stroke-width="1.6"/>
<path d="M649.4,496.2 L649.4,544.5 M670,496.2 L670,544.5" fill="none" stroke="#a3a3a3" stroke-width="1.6"/>
<rect x="678.9" y="420.8" width="24.6" height="46.7" rx="2.5" fill="#fff" stroke="#a3a3a3" stroke-width="1.6"/>
<line x1="679.4" y1="424.5" x2="703" y2="424.5" stroke="#a3a3a3" stroke-width="1.6"/>
<line x1="679.4" y1="429.6" x2="703" y2="429.6" stroke="#a3a3a3" stroke-width="1.6"/>
<line x1="679.4" y1="459" x2="703" y2="459" stroke="#a3a3a3" stroke-width="1.6"/>
<line x1="679.4" y1="462.1" x2="703" y2="462.1" stroke="#a3a3a3" stroke-width="1.6"/>
<rect x="688.2" y="467.5" width="6.9" height="4.7" fill="none" stroke="#a3a3a3" stroke-width="1.6"/>
<path d="M660.3,398.6 L669.6,398.6 C672,399 673.5,399.5 674.2,400.1 L675.8,407.9 L680.4,409.4 C682,409.5 683.5,409 684.3,408.7 C685.5,406 686.5,405 687.4,404.8 C689,404.8 690.5,405.5 691.3,406.3 C692.8,408 693.8,410.5 694.4,412.5 L695.9,420" fill="none" stroke="#a3a3a3" stroke-width="1.6"/>
<path d="M588.7,588.1 C590,580 593,576 596.7,573.3 L613.7,557.4 C620,552 625,549 630.8,547.2 C637,545.5 642,545 647.8,544.9 C654,545 657,546 659.2,547.2 C663,549 665,550.5 666,552.8 C668,556 668,558 667.2,559.7 C666,562 665,563.5 663.7,564.2 C660,563 655,561 647.8,560.8 L636.5,560.8 C631,561 628,562 625,564.2 C620,567 616,571 613.7,575.6 C610,582 608,587 605.8,591.5 C604,596 602,598 600,599.5 C596,600 592,598 591,596 C588,594 588,591 588.7,588.1 Z" fill="#fff" stroke="#a3a3a3" stroke-width="1.6"/>
<circle cx="597.2" cy="589.2" r="4.5" fill="none" stroke="#a3a3a3" stroke-width="1.6"/>
<circle cx="659.2" cy="556.3" r="4.5" fill="none" stroke="#a3a3a3" stroke-width="1.6"/>
<path d="M605.8,606.3 C608,610 611,612 613.7,612 C618,611 621,609 625,607.4 L636.5,602.9 L659.2,596 L680,590.4" fill="none" stroke="#a3a3a3" stroke-width="1.6"/>
<path d="M605.8,606.3 C604,603 606,598 609.2,596" fill="none" stroke="#a3a3a3" stroke-width="1.6"/>
<circle cx="633" cy="584.7" r="13.6" fill="#fff" stroke="#a3a3a3" stroke-width="1.6"/>
<path d="M537.5,410.7 C538,405 541,402 545.5,401 L591,396.5 L630.8,384.5 C634,383.5 637,383.5 641.7,386.2 C644,387.5 645.5,389 647.1,390.8 C649,393 651,395.5 652.5,397 C655,398.5 657.5,398.6 660.3,398.6 C662.5,400 663.5,402 663.4,405 C663.2,408 662,410.5 660.3,412.5 C659,415 658,417 656.4,418.7 C654,420.5 652,422 649.4,423.4 C646,425 643,426.5 639.4,428 C636.5,429.5 634,431 631.6,432.7 C628.5,434.5 626,436.5 623.9,438.9 C622,441 621,443.5 620,445.8 L616,450.5 C614.5,452.5 613,453.5 611.4,454 C609,454.5 606.5,453.8 604.6,452.8 C602.5,451.5 601,450 600,448.2 C598,444 596,441.5 593.2,439.1 C589,434 585,431 579.6,428.9 C574,426.5 568,425 562.5,424.3 L547.8,423.2 C544,422.5 541.5,421 539.8,418.7 C538,416.5 537.5,414 537.5,410.7 Z" fill="#fff" stroke="#a3a3a3" stroke-width="1.6"/>
<circle cx="549.5" cy="411.8" r="4.6" fill="none" stroke="#a3a3a3" stroke-width="1.6"/>
<circle cx="650.1" cy="409" r="4.6" fill="none" stroke="#a3a3a3" stroke-width="1.6"/>
<circle cx="609.7" cy="443.7" r="4" fill="none" stroke="#a3a3a3" stroke-width="1.6"/>
<path d="M591,314.8 C593,322 596,330 602,333.7 C610,337 625,338.5 640,338.5 C652,338 662,336 668,334 C672,333 676,332.5 680,331.3 C690,326 698,318 706.5,312.7 C720,303 735,293 750.7,282.6 L803.8,247.3 C820,236 840,225 856.9,215.4 C870,207 882,199 892.2,192.4 L917.9,173.9" fill="none" stroke="#a3a3a3" stroke-width="1.6"/>
<path d="M618,378 C616,372 620,367 627.4,365.3 C640,362 655,361 668.5,357 C673,355 677,352 680,349.9 C700,338 715,326 733.1,314.5 L786.1,284.4 C805,274 822,265 839.2,256.1 C845,253 849,251 853.3,250 C857,249 860,250 860.4,252.6 C861,257 859,262 856.9,266.7 L839.2,309.2 C830,328 820,345 810.9,360 L780.8,412.6 L751.7,473.7 C747,485 743,495 737.2,504.2 C733,511 728,516 722.6,520.2 C716,525 709,529 700.8,533.2 C690,538 680,542 671.8,544.9" fill="none" stroke="#a3a3a3" stroke-width="1.6"/>
<path d="M945.3,241.1 C940,241.5 933,242 927.6,243.7 C921,246 915,249 909.9,252.6 C903,258 897,264 892.2,270.3 C889,275 886,280 883.4,284.4 L865.7,326.9 C861,338 856,349 848,360 L824.3,419.9 L788,492.5 C782,505 775,518 766.2,528.9 C760,537 752,544 744.4,550.7 C739,555 734,560 728.5,563.7 C721,569 713,574 705.2,578.3 C694,584 683,589 671.8,592.8 L650,601.5" fill="none" stroke="#a3a3a3" stroke-width="1.6"/>
<path d="M527.9,204.2 L567.4,318 M545.3,198 L586.4,314.8" fill="none" stroke="#a3a3a3" stroke-width="1.6"/>
<path d="M565.8,321.1 L591.1,313.2 L589,307 L563.5,314.5 Z" fill="#fff" stroke="#a3a3a3" stroke-width="1.6"/>
<path d="M567.4,322.7 L595.8,398.5 L600,412" fill="none" stroke="#a3a3a3" stroke-width="1.6"/>
<path d="M515,188 C518,189 520,190 521.6,192 C523,195 524,199 524.8,203.5 L545.4,196.9 C543,190 541,185 539.6,182.1 C536,176 533,172 529.8,169 Z" fill="#fff" stroke="#a3a3a3" stroke-width="1.6"/>
<circle cx="515" cy="173.9" r="14" fill="#fff" stroke="#a3a3a3" stroke-width="1.6"/>
<circle cx="515" cy="173.9" r="10.7" fill="none" stroke="#a3a3a3" stroke-width="1.6"/>
<path d="M447.6,154.2 C452,160 455,165 459.1,167.3 C461,169 463,169.8 465.7,169.8 L501,169.8 M529,169.8 L541.3,169.8 C545,169.8 548,168.5 551,167 L585.6,148.5 M455.8,154.2 C458,158 461,161.5 464,163.2 L503,163.2 M527,163.2 L542.9,163.2 C546,163 548,162 551,160.5 L580.7,147.6" fill="none" stroke="#a3a3a3" stroke-width="1.6"/>
<path d="M412,128.5 C409,129 408.5,132 410,133.5 C413,136 416,138 418,139.4 C430,145 440,150 449.3,152.6 C458,154.5 466,155 473.9,155 L498.6,154.2 C510,153 520,151 531.4,149.3 C545,148 555,147.6 564.3,147.6 L597.1,148.5 L630,149.3 C633,149 635,148 634.9,147.6 C636,146.5 635,145.5 633.2,145.2 C625,141.5 620,140 613.5,138.6 C600,136.5 590,135.5 580.7,134.5 L498.6,133.7 C470,132 440,130 414.8,128.7 Z" fill="#fff" stroke="#a3a3a3" stroke-width="1.6"/>
<path d="M421.4,142.7 C424,148 427,152 429.6,154.2 C434,156.5 439,157 442.7,156.7 C445,156 446.5,155 447.6,153.4 M592,148.5 C594,151 596,152.6 599,152.6 L603,152.6 C605,152.6 607,151 608.5,148.7" fill="none" stroke="#a3a3a3" stroke-width="1.6"/>
<path d="M945.7,239.4 C949,244 952,248 955.8,249.5 L962.1,249.5 C965,250 967,251 968.4,252 C970.5,254 972,257 973.5,259.6 C976,261 979,261.5 981.1,262.1 L983.6,264.7 L993.7,290 L1028.6,376.4 L1027.2,381.9 L1032.7,397 L1113.9,576 C1115,582 1118,586 1122.2,587 C1127,587.5 1131,586 1133.2,583 C1135.5,580.5 1136.3,578 1136,576 L1061.6,390.2 L1058.8,369.5 L1056.1,359.9 L1047.8,342 L1035.4,325.4 L1029.9,325.4 L1015.2,290 L1001.3,255.8 L1003.2,253.3 L1001.3,243.2 L993.7,236.9 L988.7,230.6 L984.9,225.5 Z" fill="#fff" stroke="#a3a3a3" stroke-width="1.6"/>
<path d="M1031.3,326.8 C1030,322 1033,320 1035.4,325.4 M1031.3,326.8 L1046.5,365.4 C1047.5,368 1048,371 1047.8,373.6" fill="none" stroke="#a3a3a3" stroke-width="1.6"/>
<path d="M1028.6,376.4 L1047.8,369.5 M1030,379.5 L1047.8,373.6 M1058.8,369.5 L1061.6,390.2" fill="none" stroke="#a3a3a3" stroke-width="1.6"/>
<path d="M943.2,148.4 L984.9,224.2 L945.7,239.4 C935,225 925,195 917.9,172.4 Z" fill="#fff" stroke="none"/>
<path d="M943.2,148.4 L984.9,224.2" fill="none" stroke="#a3a3a3" stroke-width="1.6"/>
<path d="M945.7,239.4 L983.6,224.2" fill="none" stroke="#a3a3a3" stroke-width="1.6"/>
<path d="M971,243.2 L973.5,236.9 L990,230.6 L992.4,235.6 Z" fill="#fff" stroke="#a3a3a3" stroke-width="1.6"/>
<path d="M915.4,161.1 L944.4,149.7 L948.9,159.8 L917.9,172.4 Z" fill="#fff" stroke="#a3a3a3" stroke-width="1.6"/>
<path d="M916.6,167.4 L947,156" fill="none" stroke="#a3a3a3" stroke-width="1.6"/>
<path d="M955.8,96.6 C950,102 946,108 943.2,111.8 C938,115 933,117 928,119.4 L901.5,132 C898,134 897,136 897.7,137.1 C898,140 899,142 900.2,142.1 C902,143.5 904,143.5 905.3,143.4 L916.6,140.9 C918.5,142 918.5,143.5 917.9,144.6 L907.8,151 C905,153 904.5,155 905.3,156 C906,158.5 907.5,159.8 909,159.8 L915.4,161.1 L944.4,149.7 C950,146 955,141 960.9,137.1 C966,134.5 971,133 976,132 Z" fill="#fff" stroke="#a3a3a3" stroke-width="1.6"/>
<path d="M930.5,119.4 C926,123 924,126 924.2,129.5 C924,134 924.5,137 925.5,139.6 C928,143.5 930,146 933.1,147.2 C936,148.5 939,148.6 941.9,148.4" fill="none" stroke="#a3a3a3" stroke-width="1.6"/>
<circle cx="903.5" cy="136.8" r="1.4" fill="none" stroke="#a3a3a3" stroke-width="1.6"/>
<circle cx="911.4" cy="155.4" r="1.4" fill="none" stroke="#a3a3a3" stroke-width="1.6"/>
<circle cx="970.3" cy="112" r="19.3" fill="#fff" stroke="#a3a3a3" stroke-width="1.6"/>
<circle cx="970.3" cy="112" r="14.5" fill="none" stroke="#a3a3a3" stroke-width="1.6"/>
<path d="M958,96.5 L961,93 L965,93.5" fill="none" stroke="#a3a3a3" stroke-width="1.6"/>
<line x1="514.3" y1="52" x2="904" y2="52" stroke="#7c1781" stroke-width="2"/><polygon points="506.3,52 520.3,46 520.3,58" fill="#7c1781"/><polygon points="912,52 898,58 898,46" fill="#7c1781"/>
<circle cx="711" cy="52" r="15.5" fill="#770c7b"/><text x="711" y="61.4" text-anchor="middle" font-family='"Liberation Sans", sans-serif' font-weight="bold" font-size="26" fill="#fff">C</text>
<line x1="642.4" y1="92.3" x2="904" y2="92.3" stroke="#7c1781" stroke-width="2"/><polygon points="634.4,92.3 648.4,86.3 648.4,98.3" fill="#7c1781"/><polygon points="912,92.3 898,98.3 898,86.3" fill="#7c1781"/>
<circle cx="773.4" cy="92.3" r="15.5" fill="#770c7b"/><text x="773.4" y="101.7" text-anchor="middle" font-family='"Liberation Sans", sans-serif' font-weight="bold" font-size="26" fill="#fff">L</text>
<line x1="634.5" y1="96" x2="634.5" y2="585" stroke="#7c1781" stroke-width="2" stroke-dasharray="5,5.8"/>
<line x1="634.4" y1="585" x2="584.2" y2="327.7" stroke="#7c1781" stroke-width="2"/><polygon points="582.7,319.8 591.3,332.4 579.5,334.7" fill="#7c1781"/>
<circle cx="600.7" cy="420" r="15.5" fill="#770c7b"/><text x="600.7" y="429.4" text-anchor="middle" font-family='"Liberation Sans", sans-serif' font-weight="bold" font-size="26" fill="#fff">A</text>
<line x1="670" y1="341" x2="670" y2="820" stroke="#7c1781" stroke-width="2"/><polygon points="670,333 676,347 664,347" fill="#7c1781"/><polygon points="670,828 664,814 676,814" fill="#7c1781"/>
<circle cx="670" cy="516" r="15.5" fill="#770c7b"/><text x="670" y="525.4" text-anchor="middle" font-family='"Liberation Sans", sans-serif' font-weight="bold" font-size="26" fill="#fff">M</text>
<line x1="944.3" y1="175.2" x2="944.3" y2="575.8" stroke="#7c1781" stroke-width="2"/><polygon points="944.3,167.2 950.3,181.2 938.3,181.2" fill="#7c1781"/><polygon points="944.3,583.8 938.3,569.8 950.3,569.8" fill="#7c1781"/>
<circle cx="944.3" cy="363.6" r="15.5" fill="#770c7b"/><text x="944.3" y="373" text-anchor="middle" font-family='"Liberation Sans", sans-serif' font-weight="bold" font-size="26" fill="#fff">K</text>
<line x1="287.5" y1="334.5" x2="287.5" y2="820.5" stroke="#7c1781" stroke-width="2"/><polygon points="287.5,326.5 293.5,340.5 281.5,340.5" fill="#7c1781"/><polygon points="287.5,828.5 281.5,814.5 293.5,814.5" fill="#7c1781"/>
<circle cx="287.5" cy="580.8" r="15.5" fill="#770c7b"/><text x="287.5" y="590.2" text-anchor="middle" font-family='"Liberation Sans", sans-serif' font-weight="bold" font-size="26" fill="#fff">Q</text>
<line x1="684.8" y1="567" x2="684.8" y2="589.8" stroke="#7c1781" stroke-width="2"/><polygon points="684.8,559 690.8,573 678.8,573" fill="#7c1781"/><polygon points="684.8,597.8 678.8,583.8 690.8,583.8" fill="#7c1781"/>
<circle cx="713.8" cy="563.7" r="15.5" fill="#770c7b"/><text x="713.8" y="573.1" text-anchor="middle" font-family='"Liberation Sans", sans-serif' font-weight="bold" font-size="26" fill="#fff">J</text>
<line x1="322" y1="572" x2="678" y2="572" stroke="#7c1781" stroke-width="2" stroke-dasharray="5,6"/>
<line x1="636" y1="585" x2="944" y2="585" stroke="#7c1781" stroke-width="2" stroke-dasharray="5,6"/>
<line x1="317.6" y1="668" x2="1117.8" y2="668" stroke="#7c1781" stroke-width="2"/><polygon points="309.6,668 323.6,662 323.6,674" fill="#7c1781"/><polygon points="1125.8,668 1111.8,674 1111.8,662" fill="#7c1781"/>
<circle cx="757.4" cy="668" r="15.5" fill="#770c7b"/><text x="757.4" y="677.4" text-anchor="middle" font-family='"Liberation Sans", sans-serif' font-weight="bold" font-size="26" fill="#fff">H</text>
<line x1="316.1" y1="607.4" x2="575.9" y2="641.7" stroke="#7c1781" stroke-width="2"/><polygon points="308.2,606.3 322.9,602.2 321.3,614.1" fill="#7c1781"/><polygon points="583.8,642.8 569.1,646.9 570.7,635" fill="#7c1781"/>
<circle cx="419.6" cy="621" r="15.5" fill="#770c7b"/><text x="419.6" y="630.4" text-anchor="middle" font-family='"Liberation Sans", sans-serif' font-weight="bold" font-size="26" fill="#fff">I</text>
<path d="M554,565.4 Q566,530 604,522.1" fill="none" stroke="#7c1781" stroke-width="2"/><polygon points="554,565.4 552.8,550.2 564.2,554.1" fill="#7c1781"/><polygon points="604,522.1 591.5,530.8 589.1,519.1" fill="#7c1781"/>
<circle cx="560.3" cy="518.8" r="15.5" fill="#770c7b"/><text x="560.3" y="528.2" text-anchor="middle" font-family='"Liberation Sans", sans-serif' font-weight="bold" font-size="26" fill="#fff">B</text>
<line x1="971.7" y1="149.4" x2="1001.1" y2="215.1" stroke="#7c1781" stroke-width="2"/><polygon points="968.4,142.1 979.6,152.4 968.7,157.3" fill="#7c1781"/><polygon points="1004.4,222.4 993.2,212.1 1004.1,207.2" fill="#7c1781"/>
<circle cx="986.8" cy="181.9" r="15.5" fill="#770c7b"/><text x="986.8" y="191.3" text-anchor="middle" font-family='"Liberation Sans", sans-serif' font-weight="bold" font-size="26" fill="#fff">D</text>
<path d="M1043.7,592.6 Q1045.8,544.4 1089.1,540.2" fill="none" stroke="#7c1781" stroke-width="2"/><polygon points="1043.7,592.6 1038.3,578.4 1050.3,578.9" fill="#7c1781"/><polygon points="1089.1,540.2 1075.7,547.5 1074.6,535.6" fill="#7c1781"/>
<circle cx="1078.1" cy="576.5" r="15.5" fill="#770c7b"/><text x="1078.1" y="585.9" text-anchor="middle" font-family='"Liberation Sans", sans-serif' font-weight="bold" font-size="26" fill="#fff">E</text>
<line x1="1126.8" y1="601.8" x2="1141.2" y2="595.4" stroke="#7c1781" stroke-width="2"/><polygon points="1119.5,605 1129.9,593.9 1134.7,604.8" fill="#7c1781"/><polygon points="1148.5,592.2 1138.1,603.3 1133.3,592.4" fill="#7c1781"/>
<circle cx="1144.2" cy="627.2" r="15.5" fill="#770c7b"/><text x="1144.2" y="636.6" text-anchor="middle" font-family='"Liberation Sans", sans-serif' font-weight="bold" font-size="26" fill="#fff">F</text>
<line x1="1122" y1="689" x2="1122" y2="841" stroke="#7c1781" stroke-width="2" stroke-dasharray="5.5,4.5"/>
<line x1="1172.5" y1="685.6" x2="1239" y2="843" stroke="#7c1781" stroke-width="2" stroke-dasharray="5.5,4.5"/>
<line x1="1131" y1="847.6" x2="1228" y2="847.6" stroke="#7c1781" stroke-width="2"/><polygon points="1123,847.6 1137,841.6 1137,853.6" fill="#7c1781"/><polygon points="1236,847.6 1222,853.6 1222,841.6" fill="#7c1781"/>
<circle cx="1176.8" cy="847.6" r="15.5" fill="#770c7b"/><text x="1176.8" y="857" text-anchor="middle" font-family='"Liberation Sans", sans-serif' font-weight="bold" font-size="26" fill="#fff">G</text>
<path d="M1372,170 C1372,166 1374,165.3 1378,165 L1536.5,151.1 L1565,151.1 L1726,165 C1730,165.3 1732,167 1732,170 L1732,183 C1732,186 1730,187.5 1726,187.3 L1565,177.5 L1536.5,177.5 L1378,187.3 C1374,187.5 1372,186 1372,183 Z" fill="#fff" stroke="#a3a3a3" stroke-width="1.6"/>
<path d="M1540,147.5 C1545,146 1550,149 1555,147.5 C1560,146 1565,148 1565,152 L1565,225 C1565,234 1558,239 1550.5,239 C1543,239 1536,234 1536,225 L1536,152 C1536,149 1537,148 1540,147.5 Z" fill="#fff" stroke="#a3a3a3" stroke-width="1.6"/>
<path d="M1536,186 C1536,180 1542,178 1550,178 C1558,178 1565,180 1565,186" fill="none" stroke="#a3a3a3" stroke-width="1.6"/>
<circle cx="1550" cy="219.2" r="9.5" fill="none" stroke="#a3a3a3" stroke-width="1.6"/>
<circle cx="1550" cy="219.2" r="2.2" fill="none" stroke="#a3a3a3" stroke-width="1.6"/>
<line x1="1587.5" y1="155.2" x2="1587.5" y2="228.5" stroke="#7c1781" stroke-width="2"/><polygon points="1587.5,147.2 1594.5,163.2 1580.5,163.2" fill="#7c1781"/><polygon points="1587.5,236.5 1580.5,220.5 1594.5,220.5" fill="#7c1781"/>
<circle cx="1587.5" cy="191.2" r="15.5" fill="#770c7b"/><text x="1587.5" y="200.6" text-anchor="middle" font-family='"Liberation Sans", sans-serif' font-weight="bold" font-size="26" fill="#fff">O</text>
<line x1="1383.4" y1="268.4" x2="1731.8" y2="268.4" stroke="#7c1781" stroke-width="2"/><polygon points="1375.4,268.4 1391.4,261.4 1391.4,275.4" fill="#7c1781"/><polygon points="1739.8,268.4 1723.8,275.4 1723.8,261.4" fill="#7c1781"/>
<circle cx="1550" cy="268.4" r="15.5" fill="#770c7b"/><text x="1550" y="277.8" text-anchor="middle" font-family='"Liberation Sans", sans-serif' font-weight="bold" font-size="26" fill="#fff">N</text>
<polygon points="1647,551.5 1646.9,552.2 1646.5,552.8 1645.8,553.4 1645,554.1 1644.1,554.7 1643.1,555.3 1642.1,555.9 1641.3,556.4 1640.6,557 1640.1,557.6 1639.8,558.2 1639.7,558.8 1639.7,559.4 1639.9,560 1640.3,560.7 1640.8,561.4 1641.6,562.1 1642.4,562.8 1643.3,563.6 1644.1,564.3 1644.8,565.1 1645.3,565.8 1645.6,566.5 1645.6,567.2 1645.4,567.8 1644.9,568.4 1644.1,568.9 1643.2,569.4 1642.2,569.8 1641.1,570.3 1640.1,570.7 1639.1,571.1 1638.4,571.5 1637.8,572 1637.4,572.5 1637.2,573.1 1637.1,573.7 1637.1,574.4 1637.4,575.1 1637.9,575.9 1638.5,576.7 1639.1,577.6 1639.9,578.5 1640.5,579.3 1641.1,580.2 1641.5,581 1641.6,581.8 1641.5,582.5 1641.2,583 1640.6,583.5 1639.8,583.9 1638.8,584.2 1637.7,584.4 1636.6,584.7 1635.5,584.9 1634.5,585.1 1633.6,585.4 1633,585.8 1632.5,586.3 1632.2,586.8 1632,587.4 1631.9,588 1632.1,588.8 1632.4,589.6 1632.8,590.5 1633.4,591.5 1633.9,592.5 1634.4,593.5 1634.8,594.5 1635.1,595.3 1635.1,596.1 1634.9,596.8 1634.4,597.2 1633.7,597.6 1632.9,597.8 1631.8,598 1630.7,598 1629.6,598.1 1628.5,598.1 1627.5,598.2 1626.6,598.3 1625.8,598.6 1625.3,598.9 1624.9,599.4 1624.6,599.9 1624.4,600.6 1624.5,601.3 1624.6,602.2 1624.9,603.2 1625.2,604.3 1625.6,605.3 1625.9,606.4 1626.2,607.4 1626.2,608.3 1626.1,609.1 1625.8,609.7 1625.3,610.1 1624.6,610.3 1623.7,610.4 1622.6,610.4 1621.5,610.2 1620.4,610 1619.3,609.9 1618.3,609.8 1617.4,609.8 1616.6,609.9 1616,610.2 1615.5,610.5 1615.2,611 1614.9,611.6 1614.8,612.4 1614.8,613.3 1614.9,614.3 1615,615.4 1615.2,616.5 1615.4,617.6 1615.4,618.7 1615.3,619.6 1615.1,620.3 1614.7,620.8 1614.1,621.1 1613.3,621.2 1612.4,621.2 1611.4,620.9 1610.3,620.6 1609.3,620.2 1608.2,619.9 1607.2,619.6 1606.3,619.5 1605.6,619.4 1604.9,619.6 1604.4,619.9 1603.9,620.3 1603.6,620.8 1603.3,621.6 1603.2,622.5 1603.1,623.5 1603.1,624.6 1603,625.7 1603,626.8 1602.8,627.9 1602.6,628.7 1602.2,629.4 1601.8,629.9 1601.1,630.1 1600.3,630.1 1599.5,629.8 1598.5,629.4 1597.5,628.9 1596.5,628.4 1595.5,627.8 1594.6,627.4 1593.8,627.1 1593,626.9 1592.4,627 1591.8,627.2 1591.3,627.5 1590.8,628 1590.4,628.6 1590.1,629.5 1589.9,630.5 1589.7,631.6 1589.4,632.7 1589.2,633.8 1588.9,634.8 1588.5,635.6 1588,636.2 1587.5,636.5 1586.8,636.6 1586,636.5 1585.2,636.1 1584.3,635.5 1583.5,634.9 1582.6,634.1 1581.7,633.5 1580.9,632.9 1580.1,632.4 1579.4,632.1 1578.7,632.1 1578.1,632.2 1577.5,632.4 1577,632.8 1576.5,633.4 1576.1,634.1 1575.7,635.1 1575.3,636.1 1574.8,637.2 1574.4,638.2 1573.9,639.1 1573.4,639.9 1572.8,640.4 1572.2,640.6 1571.5,640.6 1570.8,640.3 1570.1,639.8 1569.3,639.1 1568.6,638.3 1567.8,637.4 1567.1,636.6 1566.4,635.8 1565.7,635.3 1565,634.9 1564.4,634.7 1563.8,634.7 1563.2,634.8 1562.6,635.1 1562,635.6 1561.4,636.3 1560.9,637.1 1560.3,638.1 1559.7,639.1 1559.1,640 1558.4,640.8 1557.8,641.5 1557.2,641.9 1556.5,642 1555.8,641.9 1555.2,641.5 1554.6,640.8 1553.9,640 1553.3,639.1 1552.7,638.1 1552.1,637.1 1551.6,636.3 1551,635.6 1550.4,635.1 1549.8,634.8 1549.2,634.7 1548.6,634.7 1548,634.9 1547.3,635.3 1546.6,635.8 1545.9,636.6 1545.2,637.4 1544.4,638.3 1543.7,639.1 1542.9,639.8 1542.2,640.3 1541.5,640.6 1540.8,640.6 1540.2,640.4 1539.6,639.9 1539.1,639.1 1538.6,638.2 1538.2,637.2 1537.7,636.1 1537.3,635.1 1536.9,634.1 1536.5,633.4 1536,632.8 1535.5,632.4 1534.9,632.2 1534.3,632.1 1533.6,632.1 1532.9,632.4 1532.1,632.9 1531.3,633.5 1530.4,634.1 1529.5,634.9 1528.7,635.5 1527.8,636.1 1527,636.5 1526.2,636.6 1525.5,636.5 1525,636.2 1524.5,635.6 1524.1,634.8 1523.8,633.8 1523.6,632.7 1523.3,631.6 1523.1,630.5 1522.9,629.5 1522.6,628.6 1522.2,628 1521.7,627.5 1521.2,627.2 1520.6,627 1520,626.9 1519.2,627.1 1518.4,627.4 1517.5,627.8 1516.5,628.4 1515.5,628.9 1514.5,629.4 1513.5,629.8 1512.7,630.1 1511.9,630.1 1511.2,629.9 1510.8,629.4 1510.4,628.7 1510.2,627.9 1510,626.8 1510,625.7 1509.9,624.6 1509.9,623.5 1509.8,622.5 1509.7,621.6 1509.4,620.8 1509.1,620.3 1508.6,619.9 1508.1,619.6 1507.4,619.4 1506.7,619.5 1505.8,619.6 1504.8,619.9 1503.7,620.2 1502.7,620.6 1501.6,620.9 1500.6,621.2 1499.7,621.2 1498.9,621.1 1498.3,620.8 1497.9,620.3 1497.7,619.6 1497.6,618.7 1497.6,617.6 1497.8,616.5 1498,615.4 1498.1,614.3 1498.2,613.3 1498.2,612.4 1498.1,611.6 1497.8,611 1497.5,610.5 1497,610.2 1496.4,609.9 1495.6,609.8 1494.7,609.8 1493.7,609.9 1492.6,610 1491.5,610.2 1490.4,610.4 1489.3,610.4 1488.4,610.3 1487.7,610.1 1487.2,609.7 1486.9,609.1 1486.8,608.3 1486.8,607.4 1487.1,606.4 1487.4,605.3 1487.8,604.3 1488.1,603.2 1488.4,602.2 1488.5,601.3 1488.6,600.6 1488.4,599.9 1488.1,599.4 1487.7,598.9 1487.2,598.6 1486.4,598.3 1485.5,598.2 1484.5,598.1 1483.4,598.1 1482.3,598 1481.2,598 1480.1,597.8 1479.3,597.6 1478.6,597.2 1478.1,596.8 1477.9,596.1 1477.9,595.3 1478.2,594.5 1478.6,593.5 1479.1,592.5 1479.6,591.5 1480.2,590.5 1480.6,589.6 1480.9,588.8 1481.1,588 1481,587.4 1480.8,586.8 1480.5,586.3 1480,585.8 1479.4,585.4 1478.5,585.1 1477.5,584.9 1476.4,584.7 1475.3,584.4 1474.2,584.2 1473.2,583.9 1472.4,583.5 1471.8,583 1471.5,582.5 1471.4,581.8 1471.5,581 1471.9,580.2 1472.5,579.3 1473.1,578.5 1473.9,577.6 1474.5,576.7 1475.1,575.9 1475.6,575.1 1475.9,574.4 1475.9,573.7 1475.8,573.1 1475.6,572.5 1475.2,572 1474.6,571.5 1473.9,571.1 1472.9,570.7 1471.9,570.3 1470.8,569.8 1469.8,569.4 1468.9,568.9 1468.1,568.4 1467.6,567.8 1467.4,567.2 1467.4,566.5 1467.7,565.8 1468.2,565.1 1468.9,564.3 1469.7,563.6 1470.6,562.8 1471.4,562.1 1472.2,561.4 1472.7,560.7 1473.1,560 1473.3,559.4 1473.3,558.8 1473.2,558.2 1472.9,557.6 1472.4,557 1471.7,556.4 1470.9,555.9 1469.9,555.3 1468.9,554.7 1468,554.1 1467.2,553.4 1466.5,552.8 1466.1,552.2 1466,551.5 1466.1,550.8 1466.5,550.2 1467.2,549.6 1468,548.9 1468.9,548.3 1469.9,547.7 1470.9,547.1 1471.7,546.6 1472.4,546 1472.9,545.4 1473.2,544.8 1473.3,544.2 1473.3,543.6 1473.1,543 1472.7,542.3 1472.2,541.6 1471.4,540.9 1470.6,540.2 1469.7,539.4 1468.9,538.7 1468.2,537.9 1467.7,537.2 1467.4,536.5 1467.4,535.8 1467.6,535.2 1468.1,534.6 1468.9,534.1 1469.8,533.6 1470.8,533.2 1471.9,532.7 1472.9,532.3 1473.9,531.9 1474.6,531.5 1475.2,531 1475.6,530.5 1475.8,529.9 1475.9,529.3 1475.9,528.6 1475.6,527.9 1475.1,527.1 1474.5,526.3 1473.9,525.4 1473.1,524.5 1472.5,523.7 1471.9,522.8 1471.5,522 1471.4,521.2 1471.5,520.5 1471.8,520 1472.4,519.5 1473.2,519.1 1474.2,518.8 1475.3,518.6 1476.4,518.3 1477.5,518.1 1478.5,517.9 1479.4,517.6 1480,517.2 1480.5,516.7 1480.8,516.2 1481,515.6 1481.1,515 1480.9,514.2 1480.6,513.4 1480.2,512.5 1479.6,511.5 1479.1,510.5 1478.6,509.5 1478.2,508.5 1477.9,507.7 1477.9,506.9 1478.1,506.2 1478.6,505.8 1479.3,505.4 1480.1,505.2 1481.2,505 1482.3,505 1483.4,504.9 1484.5,504.9 1485.5,504.8 1486.4,504.7 1487.2,504.4 1487.7,504.1 1488.1,503.6 1488.4,503.1 1488.6,502.4 1488.5,501.7 1488.4,500.8 1488.1,499.8 1487.8,498.7 1487.4,497.7 1487.1,496.6 1486.8,495.6 1486.8,494.7 1486.9,493.9 1487.2,493.3 1487.7,492.9 1488.4,492.7 1489.3,492.6 1490.4,492.6 1491.5,492.8 1492.6,493 1493.7,493.1 1494.7,493.2 1495.6,493.2 1496.4,493.1 1497,492.8 1497.5,492.5 1497.8,492 1498.1,491.4 1498.2,490.6 1498.2,489.7 1498.1,488.7 1498,487.6 1497.8,486.5 1497.6,485.4 1497.6,484.3 1497.7,483.4 1497.9,482.7 1498.3,482.2 1498.9,481.9 1499.7,481.8 1500.6,481.8 1501.6,482.1 1502.7,482.4 1503.7,482.8 1504.8,483.1 1505.8,483.4 1506.7,483.5 1507.4,483.6 1508.1,483.4 1508.6,483.1 1509.1,482.7 1509.4,482.2 1509.7,481.4 1509.8,480.5 1509.9,479.5 1509.9,478.4 1510,477.3 1510,476.2 1510.2,475.1 1510.4,474.3 1510.8,473.6 1511.2,473.1 1511.9,472.9 1512.7,472.9 1513.5,473.2 1514.5,473.6 1515.5,474.1 1516.5,474.6 1517.5,475.2 1518.4,475.6 1519.2,475.9 1520,476.1 1520.6,476 1521.2,475.8 1521.7,475.5 1522.2,475 1522.6,474.4 1522.9,473.5 1523.1,472.5 1523.3,471.4 1523.6,470.3 1523.8,469.2 1524.1,468.2 1524.5,467.4 1525,466.8 1525.5,466.5 1526.2,466.4 1527,466.5 1527.8,466.9 1528.7,467.5 1529.5,468.1 1530.4,468.9 1531.3,469.5 1532.1,470.1 1532.9,470.6 1533.6,470.9 1534.3,470.9 1534.9,470.8 1535.5,470.6 1536,470.2 1536.5,469.6 1536.9,468.9 1537.3,467.9 1537.7,466.9 1538.2,465.8 1538.6,464.8 1539.1,463.9 1539.6,463.1 1540.2,462.6 1540.8,462.4 1541.5,462.4 1542.2,462.7 1542.9,463.2 1543.7,463.9 1544.4,464.7 1545.2,465.6 1545.9,466.4 1546.6,467.2 1547.3,467.7 1548,468.1 1548.6,468.3 1549.2,468.3 1549.8,468.2 1550.4,467.9 1551,467.4 1551.6,466.7 1552.1,465.9 1552.7,464.9 1553.3,463.9 1553.9,463 1554.6,462.2 1555.2,461.5 1555.8,461.1 1556.5,461 1557.2,461.1 1557.8,461.5 1558.4,462.2 1559.1,463 1559.7,463.9 1560.3,464.9 1560.9,465.9 1561.4,466.7 1562,467.4 1562.6,467.9 1563.2,468.2 1563.8,468.3 1564.4,468.3 1565,468.1 1565.7,467.7 1566.4,467.2 1567.1,466.4 1567.8,465.6 1568.6,464.7 1569.3,463.9 1570.1,463.2 1570.8,462.7 1571.5,462.4 1572.2,462.4 1572.8,462.6 1573.4,463.1 1573.9,463.9 1574.4,464.8 1574.8,465.8 1575.3,466.9 1575.7,467.9 1576.1,468.9 1576.5,469.6 1577,470.2 1577.5,470.6 1578.1,470.8 1578.7,470.9 1579.4,470.9 1580.1,470.6 1580.9,470.1 1581.7,469.5 1582.6,468.9 1583.5,468.1 1584.3,467.5 1585.2,466.9 1586,466.5 1586.8,466.4 1587.5,466.5 1588,466.8 1588.5,467.4 1588.9,468.2 1589.2,469.2 1589.4,470.3 1589.7,471.4 1589.9,472.5 1590.1,473.5 1590.4,474.4 1590.8,475 1591.3,475.5 1591.8,475.8 1592.4,476 1593,476.1 1593.8,475.9 1594.6,475.6 1595.5,475.2 1596.5,474.6 1597.5,474.1 1598.5,473.6 1599.5,473.2 1600.3,472.9 1601.1,472.9 1601.8,473.1 1602.2,473.6 1602.6,474.3 1602.8,475.1 1603,476.2 1603,477.3 1603.1,478.4 1603.1,479.5 1603.2,480.5 1603.3,481.4 1603.6,482.2 1603.9,482.7 1604.4,483.1 1604.9,483.4 1605.6,483.6 1606.3,483.5 1607.2,483.4 1608.2,483.1 1609.3,482.8 1610.3,482.4 1611.4,482.1 1612.4,481.8 1613.3,481.8 1614.1,481.9 1614.7,482.2 1615.1,482.7 1615.3,483.4 1615.4,484.3 1615.4,485.4 1615.2,486.5 1615,487.6 1614.9,488.7 1614.8,489.7 1614.8,490.6 1614.9,491.4 1615.2,492 1615.5,492.5 1616,492.8 1616.6,493.1 1617.4,493.2 1618.3,493.2 1619.3,493.1 1620.4,493 1621.5,492.8 1622.6,492.6 1623.7,492.6 1624.6,492.7 1625.3,492.9 1625.8,493.3 1626.1,493.9 1626.2,494.7 1626.2,495.6 1625.9,496.6 1625.6,497.7 1625.2,498.7 1624.9,499.8 1624.6,500.8 1624.5,501.7 1624.4,502.4 1624.6,503.1 1624.9,503.6 1625.3,504.1 1625.8,504.4 1626.6,504.7 1627.5,504.8 1628.5,504.9 1629.6,504.9 1630.7,505 1631.8,505 1632.9,505.2 1633.7,505.4 1634.4,505.8 1634.9,506.2 1635.1,506.9 1635.1,507.7 1634.8,508.5 1634.4,509.5 1633.9,510.5 1633.4,511.5 1632.8,512.5 1632.4,513.4 1632.1,514.2 1631.9,515 1632,515.6 1632.2,516.2 1632.5,516.7 1633,517.2 1633.6,517.6 1634.5,517.9 1635.5,518.1 1636.6,518.3 1637.7,518.6 1638.8,518.8 1639.8,519.1 1640.6,519.5 1641.2,520 1641.5,520.5 1641.6,521.2 1641.5,522 1641.1,522.8 1640.5,523.7 1639.9,524.5 1639.1,525.4 1638.5,526.3 1637.9,527.1 1637.4,527.9 1637.1,528.6 1637.1,529.3 1637.2,529.9 1637.4,530.5 1637.8,531 1638.4,531.5 1639.1,531.9 1640.1,532.3 1641.1,532.7 1642.2,533.2 1643.2,533.6 1644.1,534.1 1644.9,534.6 1645.4,535.2 1645.6,535.8 1645.6,536.5 1645.3,537.2 1644.8,537.9 1644.1,538.7 1643.3,539.4 1642.4,540.2 1641.6,540.9 1640.8,541.6 1640.3,542.3 1639.9,543 1639.7,543.6 1639.7,544.2 1639.8,544.8 1640.1,545.4 1640.6,546 1641.3,546.6 1642.1,547.1 1643.1,547.7 1644.1,548.3 1645,548.9 1645.8,549.6 1646.5,550.2 1646.9,550.8 1647,551.5" fill="#fff" stroke="#a3a3a3" stroke-width="1.6"/>
<ellipse cx="1523" cy="514.3" rx="22.5" ry="24" transform="rotate(-132 1523 514.3)" fill="#fff" stroke="#a3a3a3" stroke-width="1.6"/>
<clipPath id="hc0"><ellipse cx="1523" cy="514.3" rx="22.5" ry="24" transform="rotate(-132 1523 514.3)"/></clipPath>
<g clip-path="url(#hc0)"><polyline points="1496.1,543 1496.8,542.4 1497.5,541.8 1497.6,541.1 1497.2,540.3 1496.8,539.5 1496.4,538.7 1496.2,537.9 1496.1,537.2 1496.1,536.4 1496.2,535.7 1496.5,535.1 1496.9,534.4 1497.5,533.8 1498.1,533.3 1498.8,532.8 1499.6,532.3 1500.3,531.8 1500,530.9 1499.7,530.1 1499.4,529.2 1499.3,528.4 1499.3,527.6 1499.4,526.9 1499.6,526.2 1499.9,525.5 1500.4,524.9 1501,524.4 1501.7,524 1502.5,523.6 1503.3,523.2 1504.1,522.9 1504.2,522.1 1504.1,521.2 1504,520.4 1503.9,519.5 1504,518.7 1504.2,517.9 1504.5,517.3 1504.9,516.7 1505.4,516.2 1506,515.7 1506.7,515.4 1507.5,515.1 1508.4,514.8 1509.3,514.6 1509.9,514.2 1509.8,513.3 1509.9,512.4 1509.9,511.5 1510.1,510.7 1510.4,510 1510.7,509.3 1511.2,508.7 1511.8,508.3 1512.4,507.9 1513.2,507.7 1514,507.5 1514.9,507.4 1515.8,507.3 1516.7,507.3 1516.8,506.4 1517,505.5 1517.2,504.6 1517.4,503.8 1517.8,503.1 1518.2,502.5 1518.7,502 1519.3,501.6 1520,501.3 1520.8,501.1 1521.6,501 1522.5,501 1523.4,501.1 1524.3,501.2 1524.8,500.7 1525,499.8 1525.4,499 1525.7,498.2 1526.2,497.6 1526.7,497 1527.3,496.5 1527.9,496.2 1528.6,496 1529.4,495.9 1530.2,495.9 1531,496 1531.9,496.2 1532.8,496.5 1533.5,496.4 1533.9,495.6 1534.4,494.8 1534.9,494.1 1535.4,493.5 1536,492.9 1536.6,492.5 1537.2,492.2 1538,492.1 1538.7,492.1 1539.5,492.2 1540.3,492.4 1541.1,492.7 1541.9,493.1 1542.8,493.6 1543.3,492.9 1543.9,492.2 1544.5,491.5 1545.1,490.9 1545.7,490.5 1546.4,490.1 1547.1,489.9 1547.8,489.8 1548.6,489.9 1549.3,490.1 1550.1,490.4 1550.8,490.8 1551.6,491.3 1552.3,491.9 1553,491.8 1553.7,491.1 1554.4,490.6" fill="none" stroke="#a3a3a3" stroke-width="1.6"/><circle cx="1556.5" cy="551.5" r="43" fill="none" stroke="#a3a3a3" stroke-width="1.6"/></g>
<ellipse cx="1581.5" cy="508.2" rx="22.5" ry="24" transform="rotate(-60 1581.5 508.2)" fill="#fff" stroke="#a3a3a3" stroke-width="1.6"/>
<clipPath id="hc1"><ellipse cx="1581.5" cy="508.2" rx="22.5" ry="24" transform="rotate(-60 1581.5 508.2)"/></clipPath>
<g clip-path="url(#hc1)"><polyline points="1545.9,491.4 1546.7,491.9 1547.5,492.3 1548.2,492.3 1548.8,491.6 1549.4,491 1550.1,490.4 1550.8,490 1551.4,489.6 1552.2,489.4 1552.9,489.3 1553.6,489.4 1554.3,489.6 1555.1,489.9 1555.8,490.3 1556.5,490.9 1557.2,491.4 1557.9,492 1558.6,491.4 1559.3,490.8 1560.1,490.4 1560.8,490 1561.5,489.7 1562.3,489.5 1563,489.5 1563.7,489.7 1564.4,489.9 1565.1,490.3 1565.7,490.9 1566.4,491.5 1567,492.1 1567.5,492.9 1568.3,492.7 1569.1,492.3 1569.9,491.9 1570.7,491.6 1571.5,491.4 1572.2,491.4 1573,491.4 1573.7,491.6 1574.3,492 1574.9,492.4 1575.5,493 1576,493.7 1576.5,494.4 1577,495.2 1577.6,495.6 1578.4,495.3 1579.3,495.1 1580.2,494.9 1581,494.8 1581.8,494.8 1582.5,494.9 1583.2,495.2 1583.8,495.6 1584.3,496.1 1584.8,496.7 1585.2,497.5 1585.6,498.3 1585.9,499.1 1586.2,500 1587.2,499.8 1588.1,499.7 1588.9,499.6 1589.8,499.6 1590.6,499.7 1591.3,499.9 1591.9,500.3 1592.5,500.7 1593,501.3 1593.4,501.9 1593.7,502.7 1594,503.5 1594.2,504.4 1594.4,505.3 1595,505.6 1595.9,505.6 1596.8,505.7 1597.7,505.8 1598.4,506 1599.1,506.3 1599.8,506.7 1600.3,507.2 1600.7,507.8 1601,508.5 1601.3,509.3 1601.4,510.1 1601.5,511 1601.5,511.9 1601.8,512.6 1602.7,512.8 1603.6,512.9 1604.4,513.2 1605.2,513.5 1605.8,513.9 1606.4,514.3 1606.9,514.9 1607.3,515.5 1607.5,516.2 1607.6,517 1607.7,517.8 1607.6,518.7 1607.5,519.6 1607.4,520.5 1608.2,520.9 1609,521.2 1609.8,521.5 1610.6,521.9 1611.2,522.4 1611.7,522.9 1612.2,523.5 1612.5,524.2 1612.6,524.9 1612.7,525.7 1612.6,526.5 1612.4,527.4 1612.2,528.2 1611.9,529.1 1612.2,529.7 1613,530.2 1613.8,530.6" fill="none" stroke="#a3a3a3" stroke-width="1.6"/><circle cx="1556.5" cy="551.5" r="43" fill="none" stroke="#a3a3a3" stroke-width="1.6"/></g>
<ellipse cx="1605.4" cy="561.9" rx="22.5" ry="24" transform="rotate(12 1605.4 561.9)" fill="#fff" stroke="#a3a3a3" stroke-width="1.6"/>
<clipPath id="hc2"><ellipse cx="1605.4" cy="561.9" rx="22.5" ry="24" transform="rotate(12 1605.4 561.9)"/></clipPath>
<g clip-path="url(#hc2)"><polyline points="1610.3,522.9 1610.2,523.8 1610,524.6 1610.2,525.3 1611.1,525.7 1611.9,526.1 1612.6,526.5 1613.3,527 1613.8,527.6 1614.2,528.2 1614.5,528.8 1614.7,529.6 1614.7,530.3 1614.6,531.1 1614.4,531.9 1614.2,532.8 1613.8,533.6 1613.6,534.4 1614.3,534.9 1615.1,535.4 1615.8,536 1616.3,536.6 1616.8,537.2 1617.2,537.9 1617.4,538.5 1617.5,539.3 1617.5,540 1617.3,540.8 1617,541.6 1616.6,542.3 1616.2,543.1 1615.7,543.9 1616,544.5 1616.7,545.2 1617.3,545.8 1617.8,546.5 1618.3,547.2 1618.6,547.9 1618.7,548.6 1618.7,549.3 1618.6,550.1 1618.4,550.8 1618,551.5 1617.5,552.2 1617,552.9 1616.4,553.6 1616.2,554.3 1616.7,555 1617.2,555.7 1617.7,556.5 1618,557.2 1618.2,558 1618.3,558.7 1618.3,559.5 1618.1,560.2 1617.8,560.8 1617.3,561.5 1616.8,562.1 1616.1,562.7 1615.4,563.3 1614.7,563.9 1615.1,564.7 1615.6,565.5 1615.9,566.3 1616.1,567.1 1616.3,567.9 1616.3,568.6 1616.2,569.4 1615.9,570 1615.5,570.7 1615,571.3 1614.4,571.8 1613.7,572.3 1612.9,572.8 1612.1,573.2 1612,573.9 1612.3,574.8 1612.5,575.7 1612.7,576.5 1612.7,577.3 1612.7,578.1 1612.5,578.8 1612.2,579.5 1611.7,580 1611.2,580.6 1610.5,581 1609.7,581.4 1608.9,581.8 1608.1,582.1 1607.5,582.5 1607.6,583.4 1607.7,584.3 1607.7,585.2 1607.7,586 1607.5,586.8 1607.3,587.5 1606.9,588.1 1606.4,588.7 1605.8,589.1 1605.1,589.5 1604.3,589.8 1603.5,590 1602.6,590.2 1601.7,590.3 1601.6,591.2 1601.6,592.1 1601.5,593 1601.3,593.8 1601.1,594.5 1600.7,595.2 1600.3,595.8 1599.8,596.3 1599.1,596.7 1598.4,597 1597.6,597.1 1596.7,597.2 1595.8,597.3 1594.9,597.3 1594.4,597.8 1594.3,598.7 1594,599.6" fill="none" stroke="#a3a3a3" stroke-width="1.6"/><circle cx="1556.5" cy="551.5" r="43" fill="none" stroke="#a3a3a3" stroke-width="1.6"/></g>
<ellipse cx="1561.7" cy="601.2" rx="22.5" ry="24" transform="rotate(84 1561.7 601.2)" fill="#fff" stroke="#a3a3a3" stroke-width="1.6"/>
<clipPath id="hc3"><ellipse cx="1561.7" cy="601.2" rx="22.5" ry="24" transform="rotate(84 1561.7 601.2)"/></clipPath>
<g clip-path="url(#hc3)"><polyline points="1600.4,593.9 1599.5,594 1598.6,594.1 1598,594.5 1597.9,595.4 1597.8,596.3 1597.6,597.1 1597.3,597.9 1597,598.6 1596.5,599.2 1596,599.7 1595.4,600.1 1594.6,600.3 1593.9,600.5 1593,600.6 1592.1,600.6 1591.2,600.5 1590.4,600.5 1590.1,601.4 1589.9,602.2 1589.6,603.1 1589.2,603.8 1588.7,604.5 1588.2,605 1587.6,605.5 1587,605.8 1586.3,606 1585.5,606 1584.7,606 1583.8,605.9 1582.9,605.7 1582,605.4 1581.5,606 1581.1,606.8 1580.7,607.6 1580.2,608.3 1579.7,608.9 1579.1,609.4 1578.5,609.8 1577.8,610 1577.1,610.1 1576.3,610.1 1575.5,610 1574.7,609.8 1573.8,609.4 1573,609.1 1572.3,609.1 1571.8,609.9 1571.2,610.6 1570.7,611.2 1570,611.8 1569.4,612.2 1568.7,612.5 1568,612.7 1567.3,612.8 1566.6,612.7 1565.8,612.4 1565,612.1 1564.2,611.7 1563.5,611.2 1562.7,610.7 1562.1,611.3 1561.4,612 1560.8,612.6 1560.1,613 1559.4,613.4 1558.7,613.7 1557.9,613.8 1557.2,613.8 1556.5,613.6 1555.8,613.3 1555.1,612.9 1554.4,612.3 1553.7,611.8 1553,611.1 1552.3,611.2 1551.6,611.8 1550.8,612.3 1550.1,612.7 1549.3,613 1548.6,613.1 1547.8,613.2 1547.1,613.1 1546.4,612.8 1545.8,612.5 1545.1,612 1544.5,611.4 1543.9,610.7 1543.4,610 1542.7,609.6 1541.9,610 1541.1,610.4 1540.3,610.7 1539.5,610.9 1538.7,611 1538,610.9 1537.2,610.8 1536.6,610.4 1536,610 1535.4,609.5 1534.9,608.8 1534.4,608.1 1534,607.3 1533.6,606.5 1532.7,606.6 1531.8,606.9 1531,607.1 1530.1,607.2 1529.3,607.2 1528.6,607.1 1527.9,606.8 1527.3,606.5 1526.7,606 1526.2,605.4 1525.8,604.7 1525.4,603.9 1525.1,603.1 1524.8,602.2 1524.2,601.9 1523.3,602 1522.4,602.1" fill="none" stroke="#a3a3a3" stroke-width="1.6"/><circle cx="1556.5" cy="551.5" r="43" fill="none" stroke="#a3a3a3" stroke-width="1.6"/></g>
<ellipse cx="1510.8" cy="571.8" rx="22.5" ry="24" transform="rotate(156 1510.8 571.8)" fill="#fff" stroke="#a3a3a3" stroke-width="1.6"/>
<clipPath id="hc4"><ellipse cx="1510.8" cy="571.8" rx="22.5" ry="24" transform="rotate(156 1510.8 571.8)"/></clipPath>
<g clip-path="url(#hc4)"><polyline points="1529.8,606.3 1529.4,605.5 1529,604.7 1528.4,604.3 1527.5,604.5 1526.7,604.6 1525.8,604.7 1525,604.7 1524.2,604.5 1523.5,604.3 1522.9,603.9 1522.3,603.5 1521.9,602.9 1521.5,602.2 1521.1,601.4 1520.9,600.6 1520.6,599.7 1520.4,598.9 1519.5,598.9 1518.6,598.9 1517.7,598.9 1516.9,598.8 1516.1,598.5 1515.4,598.2 1514.8,597.8 1514.3,597.3 1513.9,596.6 1513.6,595.9 1513.4,595.1 1513.2,594.3 1513.1,593.4 1513.1,592.4 1512.4,592.1 1511.5,592 1510.6,591.8 1509.8,591.6 1509.1,591.3 1508.4,590.9 1507.9,590.4 1507.4,589.8 1507.1,589.2 1506.9,588.5 1506.7,587.6 1506.7,586.8 1506.8,585.9 1506.8,585 1506.6,584.3 1505.7,584.1 1504.9,583.8 1504.1,583.4 1503.4,583 1502.7,582.5 1502.2,582 1501.8,581.4 1501.6,580.7 1501.4,580 1501.4,579.2 1501.5,578.3 1501.6,577.5 1501.9,576.6 1502.1,575.7 1501.3,575.3 1500.5,574.9 1499.7,574.4 1499.1,573.9 1498.5,573.4 1498,572.8 1497.7,572.1 1497.5,571.4 1497.5,570.7 1497.5,569.9 1497.7,569.1 1498,568.3 1498.3,567.5 1498.7,566.6 1498.4,566 1497.6,565.4 1497,564.9 1496.3,564.3 1495.8,563.7 1495.4,563 1495.2,562.3 1495,561.6 1495.1,560.9 1495.2,560.1 1495.5,559.4 1495.8,558.6 1496.3,557.8 1496.8,557.1 1497,556.4 1496.4,555.7 1495.8,555 1495.2,554.4 1494.8,553.7 1494.5,552.9 1494.3,552.2 1494.2,551.5 1494.3,550.8 1494.5,550.1 1494.9,549.3 1495.3,548.7 1495.9,548 1496.5,547.3 1497.1,546.7 1496.7,545.9 1496.2,545.2 1495.7,544.4 1495.4,543.6 1495.1,542.9 1495,542.1 1495,541.4 1495.2,540.7 1495.5,540 1495.9,539.4 1496.4,538.7 1497.1,538.1 1497.8,537.6 1498.5,537 1498.6,536.3 1498.2,535.5 1497.9,534.7" fill="none" stroke="#a3a3a3" stroke-width="1.6"/><circle cx="1556.5" cy="551.5" r="43" fill="none" stroke="#a3a3a3" stroke-width="1.6"/></g>
<polygon points="1550.9,497.8 1533.5,485.4 1565.2,482" fill="#fff" stroke="#a3a3a3" stroke-width="1.6"/>
<polygon points="1605.8,529.5 1612.3,509.2 1625.3,538.4" fill="#fff" stroke="#a3a3a3" stroke-width="1.6"/>
<polygon points="1592.6,591.6 1614,591.5 1590.2,612.8" fill="#fff" stroke="#a3a3a3" stroke-width="1.6"/>
<polygon points="1529.5,598.3 1536.2,618.5 1508.6,602.5" fill="#fff" stroke="#a3a3a3" stroke-width="1.6"/>
<polygon points="1503.7,540.3 1486.5,552.9 1493.2,521.7" fill="#fff" stroke="#a3a3a3" stroke-width="1.6"/>
<path d="M1533.6,552 C1532,544 1536,537 1540.4,535.5 C1545,531 1548,529 1552.3,528.7 C1557,528 1560,528.5 1562.6,529.5 C1565,530.5 1567,531.5 1569.4,533 L1668.3,631 C1671,635 1671.5,638 1670,641.3 C1668.5,646 1666,649.5 1663.2,651.5 C1660,654 1656,655.8 1652.1,655.8 C1648,655.8 1644,654 1641,651.5 L1535.3,562.8 C1534,560 1533.6,556 1533.6,552 Z" fill="#fff" stroke="#a3a3a3" stroke-width="1.6"/>
<circle cx="1556.6" cy="550" r="13.6" fill="none" stroke="#a3a3a3" stroke-width="1.6"/>
<circle cx="1652.1" cy="637" r="10.2" fill="none" stroke="#a3a3a3" stroke-width="1.6"/>
<line x1="1585.6" y1="512.7" x2="1691.3" y2="607.8" stroke="#7c1781" stroke-width="2"/><polygon points="1579.6,507.4 1595.1,512.6 1586.4,522.3" fill="#7c1781"/><polygon points="1697.3,613.1 1681.8,607.9 1690.5,598.2" fill="#7c1781"/>
<circle cx="1636" cy="557.7" r="15.5" fill="#770c7b"/><text x="1636" y="567.1" text-anchor="middle" font-family='"Liberation Sans", sans-serif' font-weight="bold" font-size="26" fill="#fff">P</text>
<clipPath id="dbclip"><rect x="856.2" y="418.2" width="65.7" height="65.4"/></clipPath>
<rect x="855.2" y="417.2" width="67.7" height="67.4" fill="#404040" stroke="#dadada" stroke-width="1.8"/>
<g clip-path="url(#dbclip)" opacity="0.8"><polygon points="1365.4,577.5 1366.7,578.6 1367.2,579.6 1367.3,580.7 1367.3,581.7 1367.2,582.8 1367.1,583.8 1366.6,584.9 1365.3,585.9 1363.9,586.9 1363.4,587.9 1363.3,588.9 1363.2,590 1363.1,591 1363.2,592.1 1363.6,593.1 1364.8,594.3 1366.1,595.4 1366.5,596.5 1366.5,597.6 1366.4,598.6 1366.3,599.7 1366.1,600.7 1365.6,601.7 1364.1,602.6 1362.7,603.5 1362.1,604.5 1361.9,605.5 1361.8,606.6 1361.7,607.6 1361.6,608.7 1361.9,609.7 1363.1,611 1364.3,612.2 1364.6,613.3 1364.6,614.4 1364.4,615.4 1364.2,616.4 1364,617.5 1363.4,618.4 1361.9,619.3 1360.4,620.1 1359.8,621 1359.5,622 1359.3,623 1359.1,624.1 1359,625.1 1359.2,626.2 1360.3,627.5 1361.4,628.8 1361.6,629.9 1361.5,631 1361.3,632 1361,633 1360.7,634.1 1360,635 1358.5,635.7 1356.9,636.4 1356.3,637.3 1355.9,638.3 1355.6,639.3 1355.4,640.3 1355.2,641.3 1355.4,642.5 1356.4,643.8 1357.4,645.2 1357.5,646.3 1357.3,647.4 1357.1,648.4 1356.7,649.4 1356.3,650.4 1355.6,651.3 1354,651.9 1352.4,652.5 1351.7,653.3 1351.3,654.3 1350.9,655.3 1350.6,656.2 1350.4,657.3 1350.4,658.4 1351.4,659.8 1352.3,661.3 1352.3,662.4 1352.1,663.4 1351.7,664.4 1351.3,665.4 1350.9,666.4 1350.1,667.2 1348.4,667.7 1346.8,668.2 1346,669 1345.5,669.9 1345.1,670.9 1344.8,671.8 1344.4,672.8 1344.4,674 1345.3,675.5 1346.1,677 1346.1,678.1 1345.7,679.1 1345.3,680.1 1344.9,681 1344.3,682 1343.5,682.7 1341.8,683.1 1340.2,683.5 1339.3,684.2 1338.8,685.1 1338.3,686.1 1337.9,687 1337.5,688 1337.4,689.1 1338.1,690.6 1338.8,692.2 1338.8,693.3 1338.3,694.3 1337.9,695.3 1337.4,696.2 1336.8,697.1 1335.9,697.8 1334.2,698 1332.5,698.3 1331.6,699 1331,699.9 1330.5,700.8 1330,701.7 1329.5,702.6 1329.4,703.7 1330,705.3 1330.6,706.9 1330.4,708 1330,709 1329.4,709.9 1328.8,710.8 1328.2,711.6 1327.2,712.3 1325.6,712.4 1323.9,712.6 1322.9,713.2 1322.3,714 1321.7,714.9 1321.1,715.8 1320.6,716.7 1320.4,717.8 1320.9,719.4 1321.4,721 1321.1,722.1 1320.6,723.1 1320,723.9 1319.4,724.8 1318.7,725.6 1317.7,726.2 1316,726.2 1314.3,726.2 1313.3,726.8 1312.6,727.6 1311.9,728.4 1311.3,729.2 1310.7,730.1 1310.4,731.2 1310.8,732.8 1311.2,734.5 1310.9,735.6 1310.3,736.5 1309.6,737.3 1309,738.1 1308.2,738.9 1307.2,739.4 1305.5,739.3 1303.8,739.2 1302.8,739.7 1302,740.4 1301.3,741.2 1300.6,742 1300,742.8 1299.6,743.9 1299.9,745.6 1300.2,747.3 1299.8,748.3 1299.1,749.2 1298.4,749.9 1297.7,750.7 1296.9,751.4 1295.8,751.8 1294.1,751.7 1292.4,751.5 1291.4,751.9 1290.6,752.5 1289.8,753.3 1289.1,754 1288.4,754.8 1288,755.8 1288.1,757.5 1288.3,759.2 1287.8,760.3 1287.1,761.1 1286.4,761.8 1285.6,762.5 1284.7,763.1 1283.6,763.5 1282,763.2 1280.3,762.9 1279.2,763.3 1278.4,763.9 1277.6,764.5 1276.8,765.2 1276.1,766 1275.5,767 1275.6,768.7 1275.6,770.4 1275.1,771.4 1274.3,772.1 1273.5,772.8 1272.7,773.5 1271.8,774 1270.7,774.3 1269,773.9 1267.4,773.5 1266.3,773.8 1265.4,774.3 1264.6,774.9 1263.7,775.6 1263,776.3 1262.4,777.3 1262.3,779 1262.3,780.7 1261.6,781.6 1260.8,782.3 1260,782.9 1259.1,783.5 1258.2,784 1257.1,784.3 1255.4,783.7 1253.8,783.2 1252.7,783.4 1251.8,783.9 1250.9,784.5 1250,785 1249.2,785.7 1248.6,786.6 1248.4,788.3 1248.2,790 1247.5,790.9 1246.7,791.6 1245.8,792.1 1244.9,792.6 1243.9,793.1 1242.8,793.2 1241.2,792.6 1239.6,792 1238.5,792.1 1237.5,792.5 1236.6,793 1235.7,793.5 1234.9,794.1 1234.2,795 1233.9,796.7 1233.6,798.4 1232.8,799.3 1231.9,799.8 1231,800.3 1230.1,800.8 1229.1,801.2 1227.9,801.2 1226.4,800.5 1224.9,799.8 1223.7,799.8 1222.8,800.2 1221.8,800.6 1220.9,801.1 1220,801.6 1219.2,802.4 1218.8,804.1 1218.4,805.7 1217.6,806.6 1216.7,807.1 1215.7,807.5 1214.7,807.9 1213.7,808.2 1212.6,808.2 1211.1,807.4 1209.6,806.5 1208.5,806.5 1207.5,806.8 1206.5,807.2 1205.5,807.6 1204.6,808 1203.8,808.8 1203.3,810.4 1202.7,812.1 1201.9,812.8 1200.9,813.3 1200,813.7 1198.9,814 1197.9,814.2 1196.8,814.2 1195.4,813.2 1193.9,812.3 1192.8,812.2 1191.8,812.4 1190.8,812.7 1189.8,813 1188.8,813.4 1188,814.2 1187.3,815.7 1186.7,817.3 1185.8,818 1184.8,818.4 1183.8,818.7 1182.8,819 1181.8,819.2 1180.6,819 1179.3,818 1177.9,816.9 1176.8,816.8 1175.8,816.9 1174.7,817.1 1173.7,817.4 1172.7,817.7 1171.8,818.4 1171.1,819.9 1170.4,821.5 1169.4,822.1 1168.4,822.4 1167.4,822.7 1166.3,822.9 1165.3,823 1164.2,822.7 1162.9,821.6 1161.6,820.5 1160.5,820.3 1159.5,820.3 1158.4,820.5 1157.4,820.7 1156.4,821 1155.4,821.6 1154.6,823 1153.8,824.5 1152.8,825.1 1151.8,825.4 1150.7,825.5 1149.7,825.6 1148.6,825.7 1147.5,825.4 1146.3,824.2 1145.1,823 1144,822.6 1143,822.6 1141.9,822.7 1140.9,822.9 1139.9,823.1 1138.9,823.6 1138,825 1137,826.4 1136,827 1135,827.1 1133.9,827.2 1132.8,827.3 1131.8,827.2 1130.7,826.9 1129.6,825.6 1128.5,824.3 1127.4,823.9 1126.4,823.8 1125.3,823.9 1124.3,823.9 1123.2,824 1122.2,824.5 1121.2,825.9 1120.2,827.2 1119.1,827.7 1118.1,827.8 1117,827.8 1115.9,827.8 1114.9,827.7 1113.8,827.2 1112.8,825.9 1111.8,824.5 1110.8,824 1109.7,823.9 1108.7,823.9 1107.6,823.8 1106.6,823.9 1105.5,824.3 1104.4,825.6 1103.3,826.9 1102.2,827.2 1101.2,827.3 1100.1,827.2 1099,827.1 1098,827 1097,826.4 1096,825 1095.1,823.6 1094.1,823.1 1093.1,822.9 1092.1,822.7 1091,822.6 1090,822.6 1088.9,823 1087.7,824.2 1086.5,825.4 1085.4,825.7 1084.3,825.6 1083.3,825.5 1082.2,825.4 1081.2,825.1 1080.2,824.5 1079.4,823 1078.6,821.6 1077.6,821 1076.6,820.7 1075.6,820.5 1074.5,820.3 1073.5,820.3 1072.4,820.5 1071.1,821.6 1069.8,822.7 1068.7,823 1067.7,822.9 1066.6,822.7 1065.6,822.4 1064.6,822.1 1063.6,821.5 1062.9,819.9 1062.2,818.4 1061.3,817.7 1060.3,817.4 1059.3,817.1 1058.2,816.9 1057.2,816.8 1056.1,816.9 1054.7,818 1053.4,819 1052.2,819.2 1051.2,819 1050.2,818.7 1049.2,818.4 1048.2,818 1047.3,817.3 1046.7,815.7 1046,814.2 1045.2,813.4 1044.2,813 1043.2,812.7 1042.2,812.4 1041.2,812.2 1040.1,812.3 1038.6,813.2 1037.2,814.2 1036.1,814.2 1035.1,814 1034,813.7 1033.1,813.3 1032.1,812.8 1031.3,812.1 1030.7,810.4 1030.2,808.8 1029.4,808 1028.5,807.6 1027.5,807.2 1026.5,806.8 1025.5,806.5 1024.4,806.5 1022.9,807.4 1021.4,808.2 1020.3,808.2 1019.3,807.9 1018.3,807.5 1017.3,807.1 1016.4,806.6 1015.6,805.7 1015.2,804.1 1014.8,802.4 1014,801.6 1013.1,801.1 1012.2,800.6 1011.2,800.2 1010.3,799.8 1009.1,799.8 1007.6,800.5 1006.1,801.2 1004.9,801.2 1003.9,800.8 1003,800.3 1002.1,799.8 1001.2,799.3 1000.4,798.4 1000.1,796.7 999.8,795 999.1,794.1 998.3,793.5 997.4,793 996.5,792.5 995.5,792.1 994.4,792 992.8,792.6 991.2,793.2 990.1,793.1 989.1,792.6 988.2,792.1 987.3,791.6 986.5,790.9 985.8,790 985.6,788.3 985.4,786.6 984.8,785.7 984,785 983.1,784.5 982.2,783.9 981.3,783.4 980.2,783.2 978.6,783.7 976.9,784.3 975.8,784 974.9,783.5 974,782.9 973.2,782.3 972.4,781.6 971.7,780.7 971.7,779 971.6,777.3 971,776.3 970.3,775.6 969.4,774.9 968.6,774.3 967.7,773.8 966.6,773.5 965,773.9 963.3,774.3 962.2,774 961.3,773.5 960.5,772.8 959.7,772.1 958.9,771.4 958.4,770.4 958.4,768.7 958.5,767 957.9,766 957.2,765.2 956.4,764.5 955.6,763.9 954.8,763.3 953.7,762.9 952,763.2 950.4,763.5 949.3,763.1 948.4,762.5 947.6,761.8 946.9,761.1 946.2,760.3 945.7,759.2 945.9,757.5 946,755.8 945.6,754.8 944.9,754 944.2,753.3 943.4,752.5 942.6,751.9 941.6,751.5 939.9,751.7 938.2,751.8 937.1,751.4 936.3,750.7 935.6,749.9 934.9,749.2 934.2,748.3 933.8,747.3 934.1,745.6 934.4,743.9 934,742.8 933.4,742 932.7,741.2 932,740.4 931.2,739.7 930.2,739.2 928.5,739.3 926.8,739.4 925.8,738.9 925,738.1 924.4,737.3 923.7,736.5 923.1,735.6 922.8,734.5 923.2,732.8 923.6,731.2 923.3,730.1 922.7,729.2 922.1,728.4 921.4,727.6 920.7,726.8 919.7,726.2 918,726.2 916.3,726.2 915.3,725.6 914.6,724.8 914,723.9 913.4,723.1 912.9,722.1 912.6,721 913.1,719.4 913.6,717.8 913.4,716.7 912.9,715.8 912.3,714.9 911.7,714 911.1,713.2 910.1,712.6 908.4,712.4 906.8,712.3 905.8,711.6 905.2,710.8 904.6,709.9 904,709 903.6,708 903.4,706.9 904,705.3 904.6,703.7 904.5,702.6 904,701.7 903.5,700.8 903,699.9 902.4,699 901.5,698.3 899.8,698 898.1,697.8 897.2,697.1 896.6,696.2 896.1,695.3 895.7,694.3 895.2,693.3 895.2,692.2 895.9,690.6 896.6,689.1 896.5,688 896.1,687 895.7,686.1 895.2,685.1 894.7,684.2 893.8,683.5 892.2,683.1 890.5,682.7 889.7,682 889.1,681 888.7,680.1 888.3,679.1 887.9,678.1 887.9,677 888.7,675.5 889.6,674 889.6,672.8 889.2,671.8 888.9,670.9 888.5,669.9 888,669 887.2,668.2 885.6,667.7 883.9,667.2 883.1,666.4 882.7,665.4 882.3,664.4 881.9,663.4 881.7,662.4 881.7,661.3 882.6,659.8 883.6,658.4 883.6,657.3 883.4,656.2 883.1,655.3 882.7,654.3 882.3,653.3 881.6,652.5 880,651.9 878.4,651.3 877.7,650.4 877.3,649.4 876.9,648.4 876.7,647.4 876.5,646.3 876.6,645.2 877.6,643.8 878.6,642.5 878.8,641.3 878.6,640.3 878.4,639.3 878.1,638.3 877.7,637.3 877.1,636.4 875.5,635.7 874,635 873.3,634.1 873,633 872.7,632 872.5,631 872.4,629.9 872.6,628.8 873.7,627.5 874.8,626.2 875,625.1 874.9,624.1 874.7,623 874.5,622 874.2,621 873.6,620.1 872.1,619.3 870.6,618.4 870,617.5 869.8,616.4 869.6,615.4 869.4,614.4 869.4,613.3 869.7,612.2 870.9,611 872.1,609.7 872.4,608.7 872.3,607.6 872.2,606.6 872.1,605.5 871.9,604.5 871.3,603.5 869.9,602.6 868.4,601.7 867.9,600.7 867.7,599.7 867.6,598.6 867.5,597.6 867.5,596.5 867.9,595.4 869.2,594.3 870.4,593.1 870.8,592.1 870.9,591 870.8,590 870.7,588.9 870.6,587.9 870.1,586.9 868.7,585.9 867.4,584.9 866.9,583.8 866.8,582.8 866.7,581.7 866.7,580.7 866.8,579.6 867.3,578.6 868.6,577.5 869.9,576.5 870.4,575.4 870.5,574.4 870.5,573.3 870.5,572.3 870.5,571.3 870,570.2 868.7,569.1 867.4,568 867,566.9 867,565.9 867,564.8 867.1,563.8 867.3,562.7 867.8,561.7 869.2,560.7 870.6,559.8 871.1,558.8 871.3,557.7 871.4,556.7 871.5,555.7 871.4,554.6 871.1,553.5 869.9,552.4 868.7,551.2 868.3,550.1 868.3,549 868.4,548 868.6,546.9 868.8,545.9 869.4,544.9 870.9,544 872.3,543.2 872.9,542.2 873.2,541.2 873.3,540.2 873.5,539.1 873.5,538.1 873.3,537 872.1,535.7 871,534.5 870.7,533.4 870.8,532.3 871,531.3 871.2,530.2 871.5,529.2 872.2,528.3 873.7,527.5 875.2,526.7 875.9,525.8 876.2,524.8 876.4,523.8 876.6,522.8 876.8,521.8 876.6,520.6 875.5,519.3 874.5,518 874.3,516.8 874.4,515.8 874.7,514.8 875,513.7 875.3,512.7 876,511.8 877.6,511.2 879.2,510.5 879.9,509.7 880.3,508.7 880.6,507.7 880.9,506.7 881.1,505.7 881,504.5 880,503.1 879,501.7 878.9,500.6 879.2,499.6 879.5,498.5 879.8,497.6 880.3,496.6 881,495.7 882.6,495.2 884.2,494.6 885,493.8 885.5,492.9 885.8,491.9 886.2,490.9 886.5,489.9 886.4,488.8 885.6,487.3 884.7,485.8 884.7,484.7 885,483.7 885.4,482.7 885.8,481.7 886.3,480.8 887.1,480 888.7,479.5 890.4,479.1 891.2,478.3 891.7,477.4 892.2,476.5 892.6,475.5 892.9,474.5 892.9,473.4 892.2,471.9 891.4,470.4 891.5,469.2 891.8,468.2 892.3,467.3 892.8,466.3 893.3,465.4 894.2,464.7 895.9,464.4 897.5,464 898.4,463.3 899,462.4 899.5,461.5 900,460.6 900.4,459.6 900.5,458.5 899.8,457 899.2,455.4 899.3,454.2 899.7,453.3 900.2,452.4 900.8,451.4 901.4,450.6 902.3,449.9 904,449.7 905.7,449.5 906.6,448.8 907.2,448 907.8,447.1 908.3,446.2 908.8,445.3 909,444.2 908.4,442.6 907.9,441 908.1,439.8 908.6,438.9 909.2,438 909.8,437.1 910.5,436.3 911.4,435.7 913.1,435.6 914.8,435.5 915.8,434.9 916.5,434.1 917.1,433.3 917.7,432.4 918.2,431.5 918.5,430.4 918,428.8 917.6,427.1 917.9,426 918.4,425.1 919.1,424.3 919.7,423.5 920.5,422.7 921.5,422.1 923.2,422.2 924.9,422.2 925.9,421.7 926.6,420.9 927.3,420.1 927.9,419.3 928.5,418.4 928.9,417.4 928.5,415.7 928.2,414 928.6,412.9 929.2,412.1 929.9,411.3 930.6,410.5 931.4,409.8 932.4,409.3 934.1,409.4 935.8,409.6 936.8,409.1 937.6,408.4 938.3,407.7 939,406.9 939.7,406.1 940.1,405 939.9,403.3 939.7,401.7 940.1,400.6 940.8,399.8 941.5,399 942.3,398.3 943.1,397.6 944.2,397.2 945.9,397.5 947.5,397.7 948.6,397.3 949.4,396.7 950.2,396 951,395.3 951.7,394.5 952.1,393.5 952,391.8 951.9,390.1 952.4,389.1 953.2,388.3 954,387.6 954.8,386.9 955.6,386.3 956.7,386 958.4,386.3 960.1,386.7 961.2,386.4 962,385.8 962.8,385.1 963.6,384.5 964.4,383.8 964.9,382.8 965,381.1 965,379.4 965.5,378.4 966.3,377.7 967.2,377 968,376.4 968.9,375.8 970,375.6 971.7,376 973.3,376.5 974.4,376.3 975.3,375.8 976.2,375.2 977,374.6 977.8,373.9 978.4,372.9 978.6,371.3 978.7,369.6 979.3,368.6 980.2,367.9 981,367.4 981.9,366.8 982.9,366.3 984,366.1 985.6,366.7 987.2,367.3 988.3,367.1 989.3,366.7 990.2,366.1 991,365.6 991.9,365 992.6,364.1 992.8,362.4 993,360.7 993.7,359.8 994.6,359.2 995.5,358.7 996.5,358.2 997.4,357.7 998.6,357.6 1000.1,358.3 1001.7,359 1002.8,358.9 1003.8,358.5 1004.7,358.1 1005.6,357.6 1006.5,357 1007.3,356.1 1007.6,354.5 1008,352.8 1008.7,352 1009.6,351.4 1010.6,350.9 1011.5,350.5 1012.5,350.2 1013.7,350.1 1015.2,350.9 1016.7,351.7 1017.8,351.7 1018.8,351.4 1019.8,351 1020.7,350.6 1021.7,350.1 1022.5,349.2 1022.9,347.6 1023.4,346 1024.2,345.2 1025.1,344.7 1026.1,344.3 1027.1,343.9 1028.1,343.6 1029.3,343.7 1030.7,344.6 1032.2,345.5 1033.3,345.5 1034.3,345.3 1035.3,344.9 1036.3,344.6 1037.2,344.1 1038.1,343.4 1038.6,341.8 1039.2,340.2 1040.1,339.4 1041.1,339 1042.1,338.7 1043.1,338.4 1044.1,338.2 1045.3,338.3 1046.7,339.3 1048,340.3 1049.2,340.4 1050.2,340.2 1051.2,339.9 1052.2,339.7 1053.2,339.3 1054.1,338.6 1054.7,337 1055.4,335.5 1056.3,334.8 1057.3,334.4 1058.4,334.2 1059.4,333.9 1060.4,333.8 1061.6,334 1062.9,335.1 1064.2,336.1 1065.3,336.4 1066.4,336.2 1067.4,336 1068.4,335.8 1069.4,335.5 1070.3,334.9 1071.1,333.4 1071.9,331.9 1072.9,331.2 1073.9,331 1074.9,330.8 1076,330.6 1077,330.5 1078.1,330.8 1079.4,332 1080.6,333.1 1081.7,333.4 1082.8,333.4 1083.8,333.2 1084.8,333.1 1085.8,332.9 1086.8,332.3 1087.7,330.8 1088.6,329.4 1089.6,328.8 1090.6,328.6 1091.7,328.5 1092.7,328.4 1093.8,328.4 1094.9,328.7 1096,330 1097.2,331.2 1098.3,331.6 1099.3,331.6 1100.4,331.6 1101.4,331.5 1102.4,331.3 1103.4,330.8 1104.4,329.4 1105.4,328 1106.4,327.5 1107.5,327.4 1108.5,327.3 1109.6,327.3 1110.7,327.4 1111.7,327.8 1112.8,329.1 1113.9,330.5 1114.9,330.9 1116,331 1117,331 1118,331 1119.1,330.9 1120.1,330.5 1121.2,329.1 1122.3,327.8 1123.3,327.4 1124.4,327.3 1125.5,327.3 1126.5,327.4 1127.6,327.5 1128.6,328 1129.6,329.4 1130.6,330.8 1131.6,331.3 1132.6,331.5 1133.6,331.6 1134.7,331.6 1135.7,331.6 1136.8,331.2 1138,330 1139.1,328.7 1140.2,328.4 1141.3,328.4 1142.3,328.5 1143.4,328.6 1144.4,328.8 1145.4,329.4 1146.3,330.8 1147.2,332.3 1148.2,332.9 1149.2,333.1 1150.2,333.2 1151.2,333.4 1152.3,333.4 1153.4,333.1 1154.6,332 1155.9,330.8 1157,330.5 1158,330.6 1159.1,330.8 1160.1,331 1161.1,331.2 1162.1,331.9 1162.9,333.4 1163.7,334.9 1164.6,335.5 1165.6,335.8 1166.6,336 1167.6,336.2 1168.7,336.4 1169.8,336.1 1171.1,335.1 1172.4,334 1173.6,333.8 1174.6,333.9 1175.6,334.2 1176.7,334.4 1177.7,334.8 1178.6,335.5 1179.3,337 1179.9,338.6 1180.8,339.3 1181.8,339.7 1182.8,339.9 1183.8,340.2 1184.8,340.4 1186,340.3 1187.3,339.3 1188.7,338.3 1189.9,338.2 1190.9,338.4 1191.9,338.7 1192.9,339 1193.9,339.4 1194.8,340.2 1195.4,341.8 1195.9,343.4 1196.8,344.1 1197.7,344.6 1198.7,344.9 1199.7,345.3 1200.7,345.5 1201.8,345.5 1203.3,344.6 1204.7,343.7 1205.9,343.6 1206.9,343.9 1207.9,344.3 1208.9,344.7 1209.8,345.2 1210.6,346 1211.1,347.6 1211.5,349.2 1212.3,350.1 1213.3,350.6 1214.2,351 1215.2,351.4 1216.2,351.7 1217.3,351.7 1218.8,350.9 1220.3,350.1 1221.5,350.2 1222.5,350.5 1223.4,350.9 1224.4,351.4 1225.3,352 1226,352.8 1226.4,354.5 1226.7,356.1 1227.5,357 1228.4,357.6 1229.3,358.1 1230.2,358.5 1231.2,358.9 1232.3,359 1233.9,358.3 1235.4,357.6 1236.6,357.7 1237.5,358.2 1238.5,358.7 1239.4,359.2 1240.3,359.8 1241,360.7 1241.2,362.4 1241.4,364.1 1242.1,365 1243,365.6 1243.8,366.1 1244.7,366.7 1245.7,367.1 1246.8,367.3 1248.4,366.7 1250,366.1 1251.1,366.3 1252.1,366.8 1253,367.4 1253.8,367.9 1254.7,368.6 1255.3,369.6 1255.4,371.3 1255.6,372.9 1256.2,373.9 1257,374.6 1257.8,375.2 1258.7,375.8 1259.6,376.3 1260.7,376.5 1262.3,376 1264,375.6 1265.1,375.8 1266,376.4 1266.8,377 1267.7,377.7 1268.5,378.4 1269,379.4 1269,381.1 1269.1,382.8 1269.6,383.8 1270.4,384.5 1271.2,385.1 1272,385.8 1272.8,386.4 1273.9,386.7 1275.6,386.3 1277.3,386 1278.4,386.3 1279.2,386.9 1280,387.6 1280.8,388.3 1281.6,389.1 1282.1,390.1 1282,391.8 1281.9,393.5 1282.3,394.5 1283,395.3 1283.8,396 1284.6,396.7 1285.4,397.3 1286.5,397.7 1288.1,397.5 1289.8,397.2 1290.9,397.6 1291.7,398.3 1292.5,399 1293.2,399.8 1293.9,400.6 1294.3,401.7 1294.1,403.3 1293.9,405 1294.3,406.1 1295,406.9 1295.7,407.7 1296.4,408.4 1297.2,409.1 1298.2,409.6 1299.9,409.4 1301.6,409.3 1302.6,409.8 1303.4,410.5 1304.1,411.3 1304.8,412.1 1305.4,412.9 1305.8,414 1305.5,415.7 1305.1,417.4 1305.5,418.4 1306.1,419.3 1306.7,420.1 1307.4,420.9 1308.1,421.7 1309.1,422.2 1310.8,422.2 1312.5,422.1 1313.5,422.7 1314.3,423.5 1314.9,424.3 1315.6,425.1 1316.1,426 1316.4,427.1 1316,428.8 1315.5,430.4 1315.8,431.5 1316.3,432.4 1316.9,433.3 1317.5,434.1 1318.2,434.9 1319.2,435.5 1320.9,435.6 1322.6,435.7 1323.5,436.3 1324.2,437.1 1324.8,438 1325.4,438.9 1325.9,439.8 1326.1,441 1325.6,442.6 1325,444.2 1325.2,445.3 1325.7,446.2 1326.2,447.1 1326.8,448 1327.4,448.8 1328.3,449.5 1330,449.7 1331.7,449.9 1332.6,450.6 1333.2,451.4 1333.8,452.3 1334.3,453.3 1334.7,454.2 1334.8,455.4 1334.2,457 1333.5,458.5 1333.6,459.6 1334,460.6 1334.5,461.5 1335,462.4 1335.6,463.3 1336.5,464 1338.1,464.4 1339.8,464.7 1340.7,465.4 1341.2,466.3 1341.7,467.3 1342.2,468.2 1342.5,469.2 1342.6,470.4 1341.8,471.9 1341.1,473.4 1341.1,474.5 1341.4,475.5 1341.8,476.5 1342.3,477.4 1342.8,478.3 1343.6,479.1 1345.3,479.5 1346.9,480 1347.7,480.8 1348.2,481.7 1348.6,482.7 1349,483.7 1349.3,484.7 1349.3,485.8 1348.4,487.3 1347.6,488.8 1347.5,489.9 1347.8,490.9 1348.2,491.9 1348.5,492.9 1349,493.8 1349.8,494.6 1351.4,495.2 1353,495.7 1353.7,496.6 1354.2,497.6 1354.5,498.5 1354.8,499.6 1355.1,500.6 1355,501.7 1354,503.1 1353,504.5 1352.9,505.7 1353.1,506.7 1353.4,507.7 1353.7,508.7 1354.1,509.7 1354.8,510.5 1356.4,511.2 1358,511.8 1358.7,512.7 1359,513.7 1359.3,514.8 1359.6,515.8 1359.7,516.8 1359.5,518 1358.5,519.3 1357.4,520.6 1357.2,521.8 1357.4,522.8 1357.6,523.8 1357.8,524.8 1358.1,525.8 1358.8,526.7 1360.3,527.5 1361.8,528.3 1362.5,529.2 1362.8,530.2 1363,531.3 1363.2,532.3 1363.3,533.4 1363,534.5 1361.9,535.7 1360.7,537 1360.5,538.1 1360.5,539.1 1360.7,540.2 1360.8,541.2 1361.1,542.2 1361.7,543.2 1363.1,544 1364.6,544.9 1365.2,545.9 1365.4,546.9 1365.6,548 1365.7,549 1365.7,550.1 1365.3,551.2 1364.1,552.4 1362.9,553.5 1362.6,554.6 1362.5,555.7 1362.6,556.7 1362.7,557.7 1362.9,558.8 1363.4,559.8 1364.8,560.7 1366.2,561.7 1366.7,562.7 1366.9,563.8 1367,564.8 1367,565.9 1367,566.9 1366.6,568 1365.3,569.1 1364,570.2 1363.5,571.3 1363.5,572.3 1363.5,573.3 1363.5,574.4 1363.6,575.4 1364.1,576.5 1365.4,577.5" fill="none" stroke="#1a1a1a" stroke-width="1.6"/></g>
<path d="M883.4,428.9 L894.7,428.9 L894.7,457.3 L906.4,457.3 L889,474.9 L871.7,457.3 L883.4,457.3 Z" fill="#dcdcdc"/>
</g></svg>
<div style="position:absolute;left:45px;top:941px;width:1880px;height:2px;background:#e1e1e1"></div>
<div style="position:absolute;left:45px;top:943px;width:1880px;height:68px;background:#f9f9f9"></div>
<div class="cl" style="left:75.5px;top:963.8px;font-size:28px">XS (27.5&quot;)</div>
<div style="position:absolute;left:398px;top:969px;width:544px;height:24px;background:#580050"></div>
<div class="cv" style="right:1552.5px;top:964.4px;font-size:32px">150 cm</div>
<div class="cv" style="left:949.8px;top:964.4px;font-size:32px">163 cm</div>
<div style="position:absolute;left:45px;top:1011px;width:1880px;height:2px;background:#e1e1e1"></div>
<div style="position:absolute;left:45px;top:1013px;width:1880px;height:68px;background:#f3f3f3"></div>
<div class="cl" style="left:75.5px;top:1033.8px;font-size:28px">S (27.5&quot;)</div>
<div style="position:absolute;left:728.4px;top:1039px;width:461.6px;height:24px;background:#580050"></div>
<div class="cv" style="right:1222.1px;top:1034.4px;font-size:32px">158 cm</div>
<div class="cv" style="left:1197.8px;top:1034.4px;font-size:32px">169 cm</div>
<div style="position:absolute;left:45px;top:1081px;width:1880px;height:2px;background:#e1e1e1"></div>
<div style="position:absolute;left:45px;top:1083px;width:1880px;height:68px;background:#f9f9f9"></div>
<div class="cl" style="left:75.5px;top:1103.8px;font-size:28px">S (29&quot;)</div>
<div style="position:absolute;left:728.4px;top:1109px;width:461.6px;height:24px;background:#580050"></div>
<div class="cv" style="right:1222.1px;top:1104.4px;font-size:32px">158 cm</div>
<div class="cv" style="left:1197.8px;top:1104.4px;font-size:32px">169 cm</div>
<div style="position:absolute;left:45px;top:1151px;width:1880px;height:2px;background:#e1e1e1"></div>
<div style="position:absolute;left:45px;top:1153px;width:1880px;height:68px;background:#f3f3f3"></div>
<div class="cl" style="left:75.5px;top:1173.8px;font-size:28px">M (29&quot;)</div>
<div style="position:absolute;left:992.1px;top:1179px;width:461.8px;height:24px;background:#580050"></div>
<div class="cv" style="right:958.4px;top:1174.4px;font-size:32px">164 cm</div>
<div class="cv" style="left:1461.7px;top:1174.4px;font-size:32px">175 cm</div>
<div style="position:absolute;left:45px;top:1221px;width:1880px;height:2px;background:#e1e1e1"></div>
<div style="position:absolute;left:45px;top:1223px;width:1880px;height:68px;background:#f9f9f9"></div>
<div class="cl" style="left:75.5px;top:1243.8px;font-size:28px">L (29&quot;)</div>
<div style="position:absolute;left:1239.1px;top:1249px;width:461.8px;height:24px;background:#580050"></div>
<div class="cv" style="right:711.4px;top:1244.4px;font-size:32px">170 cm</div>
<div class="cv" style="left:1708.7px;top:1244.4px;font-size:32px">181 cm</div>
<div style="position:absolute;left:45px;top:1291px;width:1880px;height:2px;background:#e1e1e1"></div>
<div style="position:absolute;left:45px;top:1333px;width:1880px;height:72px;background:#eeeeee"></div>
<div style="position:absolute;left:45px;top:1405px;width:1880px;height:2px;background:#cdcdcd"></div>
<div class="th" style="left:767px;top:1352.9px;font-size:32px">XS (27.5&quot;)</div>
<div class="th" style="left:1052px;top:1352.9px;font-size:32px">XS/S (27.5&quot;)</div>
<div class="th" style="left:1299px;top:1352.9px;font-size:32px">S (29&quot;)</div>
<div class="th" style="left:1489px;top:1352.9px;font-size:32px">M (29&quot;)</div>
<div class="th" style="left:1675px;top:1352.9px;font-size:32px">L (29&quot;)</div>
<div style="position:absolute;left:45px;top:1406.8px;width:1880px;height:74px;background:#f9f9f9"></div>
<div style="position:absolute;left:45px;top:1480.8px;width:1880px;height:2px;background:#ababab"></div>
<div class="bd" style="left:117px;top:1423.8px">A</div>
<div class="lb" style="left:233.8px;top:1426.5px">SEAT TUBE LENGTH <span class="mm">(mm)</span></div>
<div class="tv" style="left:777px;top:1426.8px">330</div>
<div class="tv" style="left:1062px;top:1426.8px">365</div>
<div class="tv" style="left:1308.6px;top:1426.8px">380</div>
<div class="tv" style="left:1499px;top:1426.8px">410</div>
<div class="tv" style="left:1685px;top:1426.8px">450</div>
<div style="position:absolute;left:45px;top:1482.8px;width:1880px;height:74.2px;background:#f4f4f4"></div>
<div style="position:absolute;left:45px;top:1557px;width:1880px;height:2px;background:#ababab"></div>
<div class="bd" style="left:117px;top:1499.8px">A1</div>
<div class="lb" style="left:233.8px;top:1502.5px">SEAT POST INSERTION DEPTH <span class="mm">(mm)</span></div>
<div class="tv" style="left:777px;top:1502.8px">280</div>
<div class="tv" style="left:1062px;top:1502.8px">310</div>
<div class="tv" style="left:1308.6px;top:1502.8px">330</div>
<div class="tv" style="left:1499px;top:1502.8px">360</div>
<div class="tv" style="left:1685px;top:1502.8px">220</div>
<div style="position:absolute;left:45px;top:1559px;width:1880px;height:73.9px;background:#f9f9f9"></div>
<div style="position:absolute;left:45px;top:1632.9px;width:1880px;height:2px;background:#ababab"></div>
<div class="bd" style="left:117px;top:1576px">B</div>
<div class="lb" style="left:233.8px;top:1578.7px">SEAT TUBE ANGLE</div>
<div class="tv" style="left:777px;top:1579px">74.0°</div>
<div class="tv" style="left:1062px;top:1579px">74.0°</div>
<div class="tv" style="left:1308.6px;top:1579px">74.5°</div>
<div class="tv" style="left:1499px;top:1579px">74.5°</div>
<div class="tv" style="left:1685px;top:1579px">74.0°</div>
<div style="position:absolute;left:45px;top:1634.9px;width:1880px;height:72.8px;background:#f4f4f4"></div>
<div style="position:absolute;left:45px;top:1707.7px;width:1880px;height:2px;background:#ababab"></div>
<div class="bd" style="left:117px;top:1651.9px">C</div>
<div class="lb" style="left:233.8px;top:1654.6px">TOP TUBE LENGTH <span class="mm">(mm)</span></div>
<div class="tv" style="left:777px;top:1654.9px">538</div>
<div class="tv" style="left:1062px;top:1654.9px">558</div>
<div class="tv" style="left:1308.6px;top:1654.9px">571</div>
<div class="tv" style="left:1499px;top:1654.9px">599</div>
<div class="tv" style="left:1685px;top:1654.9px">610</div>
<div style="position:absolute;left:45px;top:1709.7px;width:1880px;height:73.3px;background:#f9f9f9"></div>
<div style="position:absolute;left:45px;top:1783px;width:1880px;height:2px;background:#ababab"></div>
<div class="bd" style="left:117px;top:1726.7px">D</div>
<div class="lb" style="left:233.8px;top:1729.4px">HEAD TUBE LENGTH <span class="mm">(mm)</span></div>
<div class="tv" style="left:777px;top:1729.7px">90</div>
<div class="tv" style="left:1062px;top:1729.7px">95</div>
<div class="tv" style="left:1308.6px;top:1729.7px">90</div>
<div class="tv" style="left:1499px;top:1729.7px">100</div>
<div class="tv" style="left:1685px;top:1729.7px">105</div>
<div style="position:absolute;left:45px;top:1785px;width:1880px;height:71.9px;background:#f4f4f4"></div>
<div style="position:absolute;left:45px;top:1856.9px;width:1880px;height:2px;background:#ababab"></div>
<div class="bd" style="left:117px;top:1802px">E</div>
<div class="lb" style="left:233.8px;top:1804.7px">HEAD TUBE ANGLE</div>
<div class="tv" style="left:777px;top:1805px">67.0°</div>
<div class="tv" style="left:1062px;top:1805px">67.0°</div>
<div class="tv" style="left:1308.6px;top:1805px">67.5°</div>
<div class="tv" style="left:1499px;top:1805px">67.5°</div>
<div class="tv" style="left:1685px;top:1805px">68.5°</div>
<div style="position:absolute;left:45px;top:1858.9px;width:1880px;height:73.8px;background:#f9f9f9"></div>
<div style="position:absolute;left:45px;top:1932.7px;width:1880px;height:2px;background:#ababab"></div>
<div class="bd" style="left:117px;top:1875.9px">F</div>
<div class="lb" style="left:233.8px;top:1878.6px">FORK RAKE <span class="mm">(mm)</span></div>
<div class="tv" style="left:777px;top:1878.9px">44</div>
<div class="tv" style="left:1062px;top:1878.9px">44</div>
<div class="tv" style="left:1308.6px;top:1878.9px">44</div>
<div class="tv" style="left:1499px;top:1878.9px">44</div>
<div class="tv" style="left:1685px;top:1878.9px">51</div>
<div style="position:absolute;left:45px;top:1934.7px;width:1880px;height:73.9px;background:#f4f4f4"></div>
<div style="position:absolute;left:45px;top:2008.6px;width:1880px;height:2px;background:#ababab"></div>
<div class="bd" style="left:117px;top:1951.7px">G</div>
<div class="lb" style="left:233.8px;top:1954.4px">TRAIL <span class="mm">(mm)</span></div>
<div class="tv" style="left:777px;top:1954.7px">105.2</div>
<div class="tv" style="left:1062px;top:1954.7px">105.2</div>
<div class="tv" style="left:1308.6px;top:1954.7px">108.9</div>
<div class="tv" style="left:1499px;top:1954.7px">108.9</div>
<div class="tv" style="left:1685px;top:1954.7px">94.3</div>
<div style="position:absolute;left:45px;top:2010.6px;width:1880px;height:74.4px;background:#f9f9f9"></div>
<div style="position:absolute;left:45px;top:2085px;width:1880px;height:2px;background:#ababab"></div>
<div class="bd" style="left:117px;top:2027.6px">H</div>
<div class="lb" style="left:233.8px;top:2030.3px">WHEELBASE <span class="mm">(mm)</span></div>
<div class="tv" style="left:777px;top:2030.6px">1080</div>
<div class="tv" style="left:1062px;top:2030.6px">1101</div>
<div class="tv" style="left:1308.6px;top:2030.6px">1129</div>
<div class="tv" style="left:1499px;top:2030.6px">1158</div>
<div class="tv" style="left:1685px;top:2030.6px">1160</div>
<div style="position:absolute;left:45px;top:2087px;width:1880px;height:73.7px;background:#f4f4f4"></div>
<div style="position:absolute;left:45px;top:2160.7px;width:1880px;height:2px;background:#ababab"></div>
<div class="bd" style="left:117px;top:2104px">I</div>
<div class="lb" style="left:233.8px;top:2106.7px">CHAIN STAY LENGTH <span class="mm">(mm)</span></div>
<div class="tv" style="left:777px;top:2107px">440</div>
<div class="tv" style="left:1062px;top:2107px">440</div>
<div class="tv" style="left:1308.6px;top:2107px">455</div>
<div class="tv" style="left:1499px;top:2107px">455</div>
<div class="tv" style="left:1685px;top:2107px">455</div>
<div style="position:absolute;left:45px;top:2162.7px;width:1880px;height:74.2px;background:#f9f9f9"></div>
<div style="position:absolute;left:45px;top:2236.9px;width:1880px;height:2px;background:#ababab"></div>
<div class="bd" style="left:117px;top:2179.7px">J</div>
<div class="lb" style="left:233.8px;top:2182.4px">BOTTOM BRACKET DROP <span class="mm">(mm)</span></div>
<div class="tv" style="left:777px;top:2182.7px">45</div>
<div class="tv" style="left:1062px;top:2182.7px">45</div>
<div class="tv" style="left:1308.6px;top:2182.7px">55</div>
<div class="tv" style="left:1499px;top:2182.7px">55</div>
<div class="tv" style="left:1685px;top:2182.7px">55</div>
<div style="position:absolute;left:45px;top:2238.9px;width:1880px;height:74.1px;background:#f4f4f4"></div>
<div style="position:absolute;left:45px;top:2313px;width:1880px;height:2px;background:#ababab"></div>
<div class="bd" style="left:117px;top:2255.9px">K</div>
<div class="lb" style="left:233.8px;top:2258.6px">STACK <span class="mm">(mm)</span></div>
<div class="tv" style="left:777px;top:2258.9px">548</div>
<div class="tv" style="left:1062px;top:2258.9px">553</div>
<div class="tv" style="left:1308.6px;top:2258.9px">593</div>
<div class="tv" style="left:1499px;top:2258.9px">602</div>
<div class="tv" style="left:1685px;top:2258.9px">610</div>
<div style="position:absolute;left:45px;top:2315px;width:1880px;height:73.8px;background:#f9f9f9"></div>
<div style="position:absolute;left:45px;top:2388.8px;width:1880px;height:2px;background:#ababab"></div>
<div class="bd" style="left:117px;top:2332px">L</div>
<div class="lb" style="left:233.8px;top:2334.7px">REACH <span class="mm">(mm)</span></div>
<div class="tv" style="left:777px;top:2335px">381</div>
<div class="tv" style="left:1062px;top:2335px">400</div>
<div class="tv" style="left:1308.6px;top:2335px">407</div>
<div class="tv" style="left:1499px;top:2335px">432</div>
<div class="tv" style="left:1685px;top:2335px">435</div>
<div style="position:absolute;left:45px;top:2390.8px;width:1880px;height:74px;background:#f4f4f4"></div>
<div style="position:absolute;left:45px;top:2464.8px;width:1880px;height:2px;background:#ababab"></div>
<div class="bd" style="left:117px;top:2407.8px">M</div>
<div class="lb" style="left:233.8px;top:2410.5px">STAND OVER HEIGHT <span class="mm">(mm)</span></div>
<div class="tv" style="left:777px;top:2410.8px">680</div>
<div class="tv" style="left:1062px;top:2410.8px">689</div>
<div class="tv" style="left:1308.6px;top:2410.8px">689</div>
<div class="tv" style="left:1499px;top:2410.8px">708</div>
<div class="tv" style="left:1685px;top:2410.8px">757</div>
<div style="position:absolute;left:45px;top:2466.8px;width:1880px;height:73.9px;background:#f9f9f9"></div>
<div style="position:absolute;left:45px;top:2540.7px;width:1880px;height:2px;background:#ababab"></div>
<div class="bd" style="left:117px;top:2483.8px">N</div>
<div class="lb" style="left:233.8px;top:2486.5px">HANDLEBAR WIDTH <span class="mm">(mm)</span></div>
<div class="tv" style="left:777px;top:2486.8px">690</div>
<div class="tv" style="left:1062px;top:2486.8px">690</div>
<div class="tv" style="left:1308.6px;top:2486.8px">750</div>
<div class="tv" style="left:1499px;top:2486.8px">750</div>
<div class="tv" style="left:1685px;top:2486.8px">750</div>
<div style="position:absolute;left:45px;top:2542.7px;width:1880px;height:74.2px;background:#f4f4f4"></div>
<div style="position:absolute;left:45px;top:2616.9px;width:1880px;height:2px;background:#ababab"></div>
<div class="bd" style="left:117px;top:2559.7px">O</div>
<div class="lb" style="left:233.8px;top:2562.4px">STEM LENGTH <span class="mm">(mm)</span></div>
<div class="tv" style="left:777px;top:2562.7px">40</div>
<div class="tv" style="left:1062px;top:2562.7px">40</div>
<div class="tv" style="left:1308.6px;top:2562.7px">40</div>
<div class="tv" style="left:1499px;top:2562.7px">50</div>
<div class="tv" style="left:1685px;top:2562.7px">50</div>
<div style="position:absolute;left:45px;top:2618.9px;width:1880px;height:73.8px;background:#f9f9f9"></div>
<div style="position:absolute;left:45px;top:2692.7px;width:1880px;height:2px;background:#ababab"></div>
<div class="bd" style="left:117px;top:2635.9px">P</div>
<div class="lb" style="left:233.8px;top:2638.6px">CRANK LENGTH <span class="mm">(mm)</span></div>
<div class="tv" style="left:777px;top:2638.9px">165</div>
<div class="tv" style="left:1062px;top:2638.9px">165</div>
<div class="tv" style="left:1308.6px;top:2638.9px">170</div>
<div class="tv" style="left:1499px;top:2638.9px">170</div>
<div class="tv" style="left:1685px;top:2638.9px">175</div>
<div style="position:absolute;left:45px;top:2694.7px;width:1880px;height:74.1px;background:#f4f4f4"></div>
<div style="position:absolute;left:45px;top:2768.8px;width:1880px;height:2px;background:#ababab"></div>
<div class="bd" style="left:117px;top:2711.7px">Q</div>
<div class="lb" style="left:233.8px;top:2714.4px">WHEEL SIZE</div>
<div class="tv" style="left:777px;top:2714.7px">27.5&quot;</div>
<div class="tv" style="left:1062px;top:2714.7px">27.5&quot;</div>
<div class="tv" style="left:1308.6px;top:2714.7px">29&quot;</div>
<div class="tv" style="left:1499px;top:2714.7px">29&quot;</div>
<div class="tv" style="left:1685px;top:2714.7px">29&quot;</div>
</body></html>
